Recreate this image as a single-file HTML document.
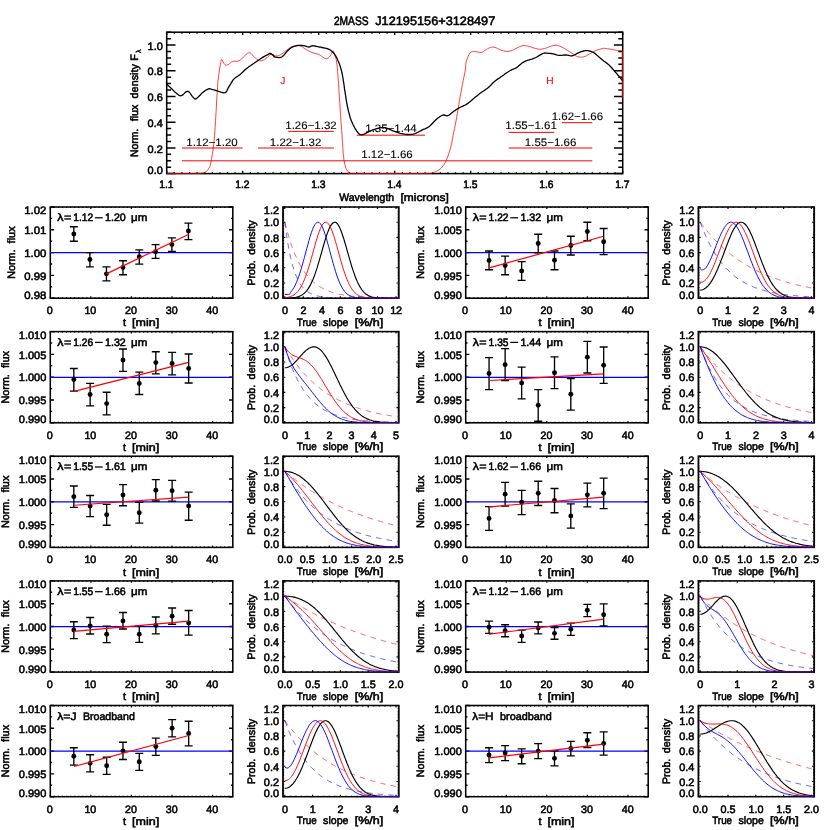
<!DOCTYPE html>
<html><head><meta charset="utf-8"><title>2MASS J12195156+3128497</title>
<style>html,body{margin:0;padding:0;background:#fff}svg{display:block;will-change:transform}text{font-family:"Liberation Sans",sans-serif;text-rendering:geometricPrecision}</style>
</head><body>
<svg width="830" height="830" viewBox="0 0 830 830">
<rect width="830" height="830" fill="#fff"/>
<clipPath id="ctop"><rect x="166.1" y="31.6" width="457.20000000000005" height="142.59999999999997"/></clipPath>
<rect x="166.70" y="32.20" width="456.00" height="141.40" fill="none" stroke="#000" stroke-width="1.55"/>
<path d="M166.70,173.60v-2.90M166.70,32.20v2.90M174.30,173.60v-1.45M174.30,32.20v1.45M181.90,173.60v-1.45M181.90,32.20v1.45M189.50,173.60v-1.45M189.50,32.20v1.45M197.10,173.60v-1.45M197.10,32.20v1.45M204.70,173.60v-1.45M204.70,32.20v1.45M212.30,173.60v-1.45M212.30,32.20v1.45M219.90,173.60v-1.45M219.90,32.20v1.45M227.50,173.60v-1.45M227.50,32.20v1.45M235.10,173.60v-1.45M235.10,32.20v1.45M242.70,173.60v-2.90M242.70,32.20v2.90M250.30,173.60v-1.45M250.30,32.20v1.45M257.90,173.60v-1.45M257.90,32.20v1.45M265.50,173.60v-1.45M265.50,32.20v1.45M273.10,173.60v-1.45M273.10,32.20v1.45M280.70,173.60v-1.45M280.70,32.20v1.45M288.30,173.60v-1.45M288.30,32.20v1.45M295.90,173.60v-1.45M295.90,32.20v1.45M303.50,173.60v-1.45M303.50,32.20v1.45M311.10,173.60v-1.45M311.10,32.20v1.45M318.70,173.60v-2.90M318.70,32.20v2.90M326.30,173.60v-1.45M326.30,32.20v1.45M333.90,173.60v-1.45M333.90,32.20v1.45M341.50,173.60v-1.45M341.50,32.20v1.45M349.10,173.60v-1.45M349.10,32.20v1.45M356.70,173.60v-1.45M356.70,32.20v1.45M364.30,173.60v-1.45M364.30,32.20v1.45M371.90,173.60v-1.45M371.90,32.20v1.45M379.50,173.60v-1.45M379.50,32.20v1.45M387.10,173.60v-1.45M387.10,32.20v1.45M394.70,173.60v-2.90M394.70,32.20v2.90M402.30,173.60v-1.45M402.30,32.20v1.45M409.90,173.60v-1.45M409.90,32.20v1.45M417.50,173.60v-1.45M417.50,32.20v1.45M425.10,173.60v-1.45M425.10,32.20v1.45M432.70,173.60v-1.45M432.70,32.20v1.45M440.30,173.60v-1.45M440.30,32.20v1.45M447.90,173.60v-1.45M447.90,32.20v1.45M455.50,173.60v-1.45M455.50,32.20v1.45M463.10,173.60v-1.45M463.10,32.20v1.45M470.70,173.60v-2.90M470.70,32.20v2.90M478.30,173.60v-1.45M478.30,32.20v1.45M485.90,173.60v-1.45M485.90,32.20v1.45M493.50,173.60v-1.45M493.50,32.20v1.45M501.10,173.60v-1.45M501.10,32.20v1.45M508.70,173.60v-1.45M508.70,32.20v1.45M516.30,173.60v-1.45M516.30,32.20v1.45M523.90,173.60v-1.45M523.90,32.20v1.45M531.50,173.60v-1.45M531.50,32.20v1.45M539.10,173.60v-1.45M539.10,32.20v1.45M546.70,173.60v-2.90M546.70,32.20v2.90M554.30,173.60v-1.45M554.30,32.20v1.45M561.90,173.60v-1.45M561.90,32.20v1.45M569.50,173.60v-1.45M569.50,32.20v1.45M577.10,173.60v-1.45M577.10,32.20v1.45M584.70,173.60v-1.45M584.70,32.20v1.45M592.30,173.60v-1.45M592.30,32.20v1.45M599.90,173.60v-1.45M599.90,32.20v1.45M607.50,173.60v-1.45M607.50,32.20v1.45M615.10,173.60v-1.45M615.10,32.20v1.45M622.70,173.60v-2.90M622.70,32.20v2.90" stroke="#000" stroke-width="1.3" fill="none"/>
<path d="M166.70,173.60h8.80M622.70,173.60h-8.80M166.70,167.17h4.40M622.70,167.17h-4.40M166.70,160.75h4.40M622.70,160.75h-4.40M166.70,154.32h4.40M622.70,154.32h-4.40M166.70,147.89h8.80M622.70,147.89h-8.80M166.70,141.46h4.40M622.70,141.46h-4.40M166.70,135.04h4.40M622.70,135.04h-4.40M166.70,128.61h4.40M622.70,128.61h-4.40M166.70,122.18h8.80M622.70,122.18h-8.80M166.70,115.75h4.40M622.70,115.75h-4.40M166.70,109.33h4.40M622.70,109.33h-4.40M166.70,102.90h4.40M622.70,102.90h-4.40M166.70,96.47h8.80M622.70,96.47h-8.80M166.70,90.05h4.40M622.70,90.05h-4.40M166.70,83.62h4.40M622.70,83.62h-4.40M166.70,77.19h4.40M622.70,77.19h-4.40M166.70,70.76h8.80M622.70,70.76h-8.80M166.70,64.34h4.40M622.70,64.34h-4.40M166.70,57.91h4.40M622.70,57.91h-4.40M166.70,51.48h4.40M622.70,51.48h-4.40M166.70,45.05h8.80M622.70,45.05h-8.80M166.70,38.63h4.40M622.70,38.63h-4.40M166.70,32.20h4.40M622.70,32.20h-4.40" stroke="#000" stroke-width="1.5" fill="none"/>
<line x1="181.90" y1="148.00" x2="242.70" y2="148.00" stroke="#f00" stroke-width="1.0"/>
<line x1="257.90" y1="148.00" x2="333.90" y2="148.00" stroke="#f00" stroke-width="1.0"/>
<line x1="288.30" y1="131.36" x2="333.90" y2="131.36" stroke="#f00" stroke-width="1.0"/>
<line x1="356.70" y1="135.20" x2="425.10" y2="135.20" stroke="#f00" stroke-width="1.0"/>
<line x1="181.90" y1="160.80" x2="592.30" y2="160.80" stroke="#f00" stroke-width="1.0"/>
<line x1="508.70" y1="132.38" x2="554.30" y2="132.38" stroke="#f00" stroke-width="1.0"/>
<line x1="561.90" y1="122.66" x2="592.30" y2="122.66" stroke="#f00" stroke-width="1.0"/>
<line x1="508.70" y1="148.00" x2="592.30" y2="148.00" stroke="#f00" stroke-width="1.0"/>
<path d="M166.7,173.6 L172.8,173.5 L181.7,173.4 L190.7,173.4 L197.1,173.3 L199.7,173.3 L200.2,173.4 L199.9,173.4 L200.0,173.4 L200.8,173.3 L201.7,173.2 L202.6,173.0 L203.5,172.8 L204.3,172.5 L205.1,172.2 L205.8,171.8 L206.5,171.3 L207.2,170.6 L207.8,169.9 L208.4,169.0 L209.0,168.0 L209.5,167.2 L209.9,166.4 L210.3,165.2 L210.8,163.0 L211.5,159.4 L212.2,154.9 L213.0,149.9 L213.6,145.0 L214.1,140.4 L214.5,135.7 L214.9,131.0 L215.2,126.2 L215.5,121.3 L215.8,116.4 L216.1,111.3 L216.4,106.0 L216.7,100.1 L217.1,93.9 L217.5,87.9 L217.8,82.8 L218.2,79.1 L218.6,76.1 L218.9,73.7 L219.3,71.3 L219.6,68.8 L220.0,66.4 L220.4,64.3 L220.7,62.6 L221.0,61.3 L221.2,60.2 L221.4,59.6 L221.7,59.4 L222.1,59.8 L222.6,60.8 L223.1,61.9 L223.6,62.9 L224.1,63.6 L224.6,64.2 L225.2,64.7 L225.8,65.0 L226.4,65.1 L227.1,65.0 L227.9,64.7 L228.7,64.3 L229.5,63.7 L230.3,62.9 L231.2,62.1 L232.3,61.6 L233.6,61.3 L235.2,61.3 L236.7,61.3 L238.1,61.1 L239.1,60.8 L240.0,60.3 L240.8,59.7 L241.7,59.0 L242.6,58.1 L243.5,57.0 L244.4,56.0 L245.3,55.1 L246.1,54.3 L247.0,53.7 L247.7,53.2 L248.5,52.9 L249.1,52.8 L249.8,52.8 L250.4,53.0 L251.1,53.5 L251.9,54.3 L252.8,55.4 L253.8,56.5 L254.7,57.5 L255.6,58.3 L256.5,59.0 L257.5,59.6 L258.3,60.1 L259.0,60.5 L259.7,60.8 L260.4,60.9 L261.2,60.9 L262.2,60.6 L263.2,60.2 L264.4,59.7 L265.5,59.0 L266.8,57.9 L268.1,56.6 L269.4,55.4 L270.6,54.6 L271.8,54.5 L273.0,54.8 L273.9,55.2 L274.2,55.4 L273.5,55.1 L272.1,54.6 L270.6,54.1 L270.0,53.9 L270.5,54.2 L271.6,54.7 L273.1,55.3 L274.3,55.6 L275.4,55.8 L276.5,55.9 L277.6,55.9 L278.7,55.6 L279.8,55.2 L280.8,54.6 L281.9,53.9 L283.0,53.2 L284.1,52.3 L285.2,51.4 L286.3,50.4 L287.3,49.6 L288.4,48.8 L289.5,48.1 L290.6,47.5 L291.7,47.0 L292.9,46.5 L294.2,46.1 L295.5,45.8 L296.7,45.7 L297.9,45.6 L298.9,45.7 L300.0,45.9 L301.1,46.3 L302.3,46.9 L303.5,47.8 L304.8,48.7 L306.1,49.6 L307.5,50.3 L308.9,51.1 L310.4,51.8 L311.9,52.5 L313.7,53.0 L315.6,53.5 L317.5,54.0 L319.2,54.6 L320.6,55.5 L322.0,56.4 L323.2,57.3 L324.2,58.0 L325.1,58.4 L325.8,58.6 L326.4,58.7 L327.1,58.5 L327.8,58.2 L328.6,57.7 L329.3,57.0 L330.0,56.1 L330.8,54.8 L331.5,53.2 L332.3,51.8 L332.9,51.0 L333.3,51.1 L333.7,51.7 L334.0,52.7 L334.3,53.9 L334.8,55.2 L335.4,56.8 L336.0,58.7 L336.5,61.1 L336.9,64.1 L337.3,67.5 L337.6,71.3 L337.9,75.6 L338.3,80.5 L338.7,86.0 L339.0,91.7 L339.4,97.3 L339.8,102.7 L340.1,108.2 L340.5,113.7 L340.8,119.0 L341.2,124.4 L341.6,129.8 L342.0,134.8 L342.3,139.2 L342.5,142.6 L342.7,145.2 L342.8,147.6 L343.0,150.0 L343.2,152.6 L343.5,155.2 L343.7,157.7 L344.0,160.0 L344.3,162.0 L344.7,163.9 L345.1,165.5 L345.5,167.0 L346.0,168.3 L346.4,169.3 L347.0,170.2 L347.5,171.0 L348.1,171.6 L348.6,172.1 L349.3,172.5 L350.0,172.8 L349.4,173.0 L347.8,173.2 L348.4,173.3 L354.0,173.4 L368.2,173.5 L388.4,173.5 L408.8,173.5 L423.4,173.5 L429.9,173.4 L431.7,173.3 L431.5,173.1 L432.0,172.8 L433.7,172.4 L435.2,171.9 L436.6,171.3 L437.8,170.6 L439.0,169.9 L440.1,169.1 L441.1,168.2 L442.2,167.0 L443.2,165.6 L444.3,164.0 L445.4,162.1 L446.5,159.8 L447.6,156.9 L448.8,153.7 L449.9,150.2 L450.8,146.7 L451.7,143.2 L452.4,139.6 L453.0,135.9 L453.7,132.3 L454.5,128.7 L455.2,125.2 L455.9,121.6 L456.6,117.8 L457.3,113.7 L458.1,109.2 L458.8,104.8 L459.5,100.5 L460.2,96.4 L461.0,92.3 L461.7,88.4 L462.4,84.6 L463.2,80.7 L464.0,76.8 L464.7,73.2 L465.3,70.1 L465.6,67.8 L465.7,65.9 L465.7,64.3 L466.0,62.6 L466.6,60.5 L467.4,58.3 L468.2,56.2 L468.9,54.6 L469.5,53.6 L470.0,53.0 L470.5,52.5 L471.1,52.2 L471.8,51.8 L472.6,51.6 L473.6,51.5 L474.7,51.5 L476.2,51.7 L477.9,52.1 L479.6,52.4 L481.2,52.5 L482.6,52.0 L483.9,51.2 L485.1,50.3 L486.3,49.6 L487.4,48.9 L488.5,48.3 L489.5,47.8 L490.6,47.4 L491.7,47.2 L492.7,47.1 L493.8,47.2 L494.9,47.4 L496.3,47.9 L497.7,48.5 L499.2,49.3 L500.7,49.9 L502.2,50.4 L503.6,50.9 L505.1,51.3 L506.5,51.5 L507.9,51.4 L509.4,51.2 L510.8,50.8 L512.3,50.3 L513.7,49.7 L515.2,48.9 L516.7,48.1 L518.1,47.4 L519.4,46.8 L520.7,46.3 L522.0,45.8 L523.1,45.5 L524.1,45.5 L525.0,45.6 L525.9,45.8 L526.7,46.0 L527.6,46.1 L528.3,46.3 L529.1,46.4 L530.0,46.7 L531.0,47.0 L532.0,47.4 L533.1,47.8 L534.3,48.1 L535.7,48.5 L537.1,48.9 L538.6,49.2 L540.1,49.3 L541.6,49.2 L543.0,48.9 L544.5,48.5 L545.9,48.1 L547.4,47.6 L548.9,47.0 L550.3,46.4 L551.7,46.0 L552.9,45.6 L553.9,45.4 L555.0,45.3 L556.0,45.2 L557.1,45.3 L558.1,45.6 L559.2,45.9 L560.4,46.4 L561.7,47.0 L563.2,47.8 L564.7,48.7 L566.1,49.6 L567.6,50.5 L569.1,51.4 L570.6,52.3 L571.9,53.2 L573.1,54.0 L574.2,54.8 L575.2,55.5 L576.3,56.1 L577.3,56.5 L578.4,56.8 L579.5,57.0 L580.6,57.1 L581.7,57.1 L582.7,57.1 L583.8,56.9 L584.9,56.5 L586.3,55.9 L587.7,55.0 L589.2,54.1 L590.7,53.2 L592.2,52.4 L593.6,51.6 L595.1,50.9 L596.5,50.3 L598.0,49.7 L599.6,49.3 L601.0,48.9 L602.3,48.6 L603.1,48.4 L603.7,48.3 L604.3,48.3 L605.2,48.4 L606.4,48.6 L607.9,48.8 L609.4,49.0 L611.0,49.3 L612.4,49.5 L613.9,49.8 L615.3,50.1 L616.7,50.3 L618.2,50.5 L619.8,50.6 L621.1,50.7 L622.1,50.7" fill="none" stroke="#f00" stroke-width="0.75" stroke-linejoin="round" clip-path="url(#ctop)"/>
<line x1="622.30" y1="50.70" x2="622.30" y2="98.00" stroke="#f00" stroke-width="0.9"/>
<path d="M166.8,84.3 L167.3,84.8 L168.1,85.4 L169.0,86.2 L169.9,87.1 L170.8,87.9 L171.7,88.7 L172.6,89.6 L173.4,90.5 L174.3,91.4 L175.2,92.2 L176.1,93.0 L177.0,93.8 L177.9,94.5 L178.7,95.1 L179.5,95.6 L180.2,95.7 L180.7,95.8 L181.3,95.7 L181.8,95.4 L182.4,95.1 L183.1,94.6 L183.8,93.9 L184.6,93.1 L185.3,92.4 L186.0,91.9 L186.6,91.6 L187.2,91.4 L187.7,91.4 L188.3,91.5 L188.9,91.8 L189.6,92.5 L190.3,93.5 L191.1,94.6 L191.8,95.7 L192.5,96.6 L193.2,97.3 L193.7,97.9 L194.3,98.5 L194.9,98.9 L195.4,99.0 L196.0,98.9 L196.5,98.6 L197.0,98.1 L197.6,97.5 L198.3,96.9 L199.2,96.0 L200.2,95.0 L201.2,93.9 L202.3,92.8 L203.4,91.9 L204.4,91.2 L205.5,90.4 L206.5,89.8 L207.5,89.3 L208.4,88.9 L209.2,88.7 L209.9,88.8 L210.5,88.9 L211.2,89.1 L212.0,89.3 L213.0,89.6 L214.1,89.9 L215.3,90.3 L216.5,90.7 L217.8,91.1 L219.2,91.5 L220.8,92.1 L222.4,92.5 L223.8,92.8 L225.1,92.7 L226.0,92.1 L226.7,91.1 L227.3,89.9 L227.9,88.5 L228.7,87.2 L229.6,85.7 L230.6,84.0 L231.6,82.3 L232.6,80.6 L233.7,79.2 L234.8,78.2 L235.9,77.3 L237.1,76.6 L238.3,75.8 L239.5,74.9 L240.9,73.7 L242.3,72.4 L243.8,71.0 L245.3,69.6 L246.7,68.4 L248.2,67.3 L249.6,66.2 L251.1,65.3 L252.5,64.3 L254.0,63.3 L255.4,62.3 L256.9,61.2 L258.4,60.2 L259.8,59.2 L261.2,58.3 L262.6,57.4 L264.0,56.6 L265.4,55.8 L266.6,55.2 L267.7,54.6 L268.5,54.2 L269.1,53.8 L269.6,53.5 L270.0,53.4 L270.6,53.5 L271.3,53.9 L272.2,54.5 L273.0,55.3 L273.7,56.0 L274.2,56.5 L274.4,56.7 L274.2,56.8 L274.0,56.8 L274.0,56.8 L274.3,56.8 L275.2,57.0 L276.3,57.2 L277.7,57.4 L279.0,57.6 L280.1,57.5 L281.0,57.3 L281.7,57.0 L282.4,56.5 L283.0,56.0 L283.7,55.4 L284.4,54.6 L285.1,53.7 L285.9,52.8 L286.6,51.9 L287.3,51.0 L288.1,50.2 L289.0,49.4 L289.8,48.7 L290.7,48.0 L291.7,47.4 L292.7,46.9 L293.9,46.4 L295.1,46.1 L296.3,45.7 L297.5,45.5 L298.6,45.4 L299.8,45.4 L300.9,45.4 L302.1,45.5 L303.3,45.7 L304.4,45.9 L305.7,46.2 L306.9,46.6 L308.0,46.9 L309.0,47.0 L309.8,46.8 L310.5,46.5 L311.1,46.1 L311.8,45.8 L312.6,45.7 L313.8,45.8 L315.0,46.0 L316.4,46.3 L317.8,46.7 L319.2,47.0 L320.6,47.2 L322.1,47.5 L323.7,47.8 L325.1,48.1 L326.4,48.4 L327.4,48.7 L328.4,49.1 L329.2,49.4 L329.9,49.8 L330.7,50.3 L331.5,50.9 L332.2,51.5 L332.9,52.2 L333.6,53.0 L334.3,53.9 L335.1,55.0 L335.8,56.2 L336.6,57.6 L337.3,59.0 L337.9,60.4 L338.6,61.9 L339.2,63.4 L339.8,65.0 L340.3,66.6 L340.8,68.4 L341.3,70.2 L341.8,72.1 L342.2,74.0 L342.6,76.2 L343.0,78.5 L343.4,81.1 L343.9,84.0 L344.3,87.1 L344.7,90.1 L345.2,92.9 L345.6,95.7 L346.0,98.3 L346.4,100.9 L346.9,103.5 L347.3,106.0 L347.9,108.4 L348.4,110.8 L349.0,113.2 L349.6,115.4 L350.2,117.5 L350.9,119.5 L351.6,121.3 L352.4,123.1 L353.1,124.7 L353.9,126.2 L354.6,127.6 L355.3,128.9 L356.1,130.0 L356.8,131.1 L357.5,132.0 L358.1,132.8 L358.6,133.4 L359.2,133.9 L359.7,134.3 L360.4,134.6 L361.0,134.7 L361.6,134.8 L362.2,134.7 L363.0,134.5 L364.0,134.2 L365.2,133.6 L366.5,132.9 L368.0,132.1 L369.6,131.2 L371.2,130.5 L372.9,129.9 L374.7,129.3 L376.5,128.7 L378.3,128.3 L379.9,127.9 L381.2,127.7 L382.4,127.6 L383.5,127.6 L384.6,127.7 L385.8,127.9 L387.1,128.3 L388.6,128.9 L390.1,129.6 L391.5,130.2 L393.0,130.8 L394.5,131.4 L395.9,131.9 L397.3,132.4 L398.8,132.9 L400.2,133.3 L401.7,133.6 L403.1,133.9 L404.6,134.2 L406.0,134.4 L407.5,134.5 L408.9,134.5 L410.4,134.4 L411.8,134.3 L413.3,134.1 L414.7,133.7 L416.1,133.2 L417.6,132.5 L419.0,131.7 L420.5,130.9 L421.9,130.1 L423.4,129.4 L424.9,128.8 L426.4,128.1 L427.8,127.4 L429.2,126.5 L430.4,125.5 L431.6,124.2 L432.8,123.0 L433.9,121.8 L434.9,120.7 L435.9,119.8 L436.8,119.0 L437.6,118.3 L438.4,117.7 L439.3,117.1 L440.1,116.5 L441.0,116.0 L441.9,115.5 L442.7,115.2 L443.6,114.9 L444.5,115.0 L445.3,115.3 L446.1,115.6 L447.0,115.8 L447.9,115.7 L449.0,115.1 L450.2,114.3 L451.3,113.2 L452.6,112.2 L453.7,111.3 L454.9,110.6 L456.0,109.8 L457.1,109.1 L458.3,108.4 L459.5,107.7 L460.9,107.0 L462.3,106.4 L463.8,105.7 L465.3,105.0 L466.7,104.1 L468.2,103.1 L469.6,101.9 L471.1,100.7 L472.5,99.5 L474.0,98.3 L475.4,97.1 L476.9,96.0 L478.3,94.8 L479.8,93.6 L481.2,92.5 L482.7,91.5 L484.2,90.5 L485.6,89.5 L487.1,88.5 L488.4,87.5 L489.7,86.3 L490.8,85.2 L491.9,84.0 L493.0,82.8 L494.2,81.7 L495.5,80.7 L496.7,79.8 L498.0,78.9 L499.4,78.0 L500.7,77.0 L502.2,76.0 L503.7,74.9 L505.2,73.8 L506.7,72.8 L507.9,72.0 L509.0,71.3 L509.9,70.8 L510.7,70.3 L511.5,69.9 L512.3,69.5 L513.1,69.2 L513.9,68.9 L514.7,68.6 L515.6,68.2 L516.6,67.6 L517.8,66.8 L519.1,65.6 L520.4,64.4 L521.8,63.2 L523.1,62.3 L524.5,61.6 L526.0,60.9 L527.5,60.4 L528.7,60.0 L529.6,59.7 L530.0,59.6 L530.0,59.6 L529.8,59.7 L529.7,59.8 L530.0,59.7 L530.8,59.4 L531.9,59.1 L533.1,58.6 L534.4,58.1 L535.8,57.5 L537.2,56.8 L538.7,55.9 L540.3,54.9 L541.7,54.1 L543.0,53.5 L544.0,53.2 L544.9,53.0 L545.6,53.1 L546.4,53.1 L547.3,53.2 L548.4,53.3 L549.6,53.4 L550.7,53.5 L552.0,53.7 L553.1,53.9 L554.3,54.2 L555.4,54.5 L556.5,54.9 L557.7,55.2 L558.9,55.4 L560.3,55.4 L561.8,55.3 L563.3,55.1 L564.8,55.0 L566.1,54.9 L567.4,55.1 L568.6,55.3 L569.7,55.6 L570.8,55.8 L571.9,55.8 L573.1,55.5 L574.2,55.0 L575.4,54.4 L576.6,53.7 L577.7,53.2 L578.9,52.7 L580.1,52.2 L581.3,51.7 L582.4,51.3 L583.5,51.0 L584.4,50.8 L585.3,50.7 L586.1,50.6 L586.9,50.6 L587.8,50.7 L588.9,50.9 L590.1,51.2 L591.3,51.5 L592.5,52.0 L593.6,52.5 L594.5,53.1 L595.4,53.7 L596.2,54.5 L597.0,55.3 L597.9,56.1 L599.0,57.0 L600.2,57.9 L601.3,58.9 L602.6,59.9 L603.7,60.9 L604.9,61.8 L606.0,62.6 L607.2,63.5 L608.4,64.4 L609.5,65.5 L610.7,66.7 L611.9,68.0 L613.1,69.4 L614.2,70.7 L615.3,72.0 L616.3,73.1 L617.2,74.2 L618.1,75.2 L618.9,76.1 L619.6,77.0 L620.4,77.9 L621.0,78.8 L621.6,79.5 L622.2,80.2 L622.5,80.7" fill="none" stroke="#000" stroke-width="1.3" stroke-linejoin="round" clip-path="url(#ctop)"/>
<text transform="translate(186.25 145.70) scale(1.065 1)" font-size="10.8" fill="#000" stroke="#000" stroke-width="0.1">1.12−1.20</text>
<text transform="translate(269.85 145.70) scale(1.065 1)" font-size="10.8" fill="#000" stroke="#000" stroke-width="0.1">1.22−1.32</text>
<text transform="translate(285.25 129.00) scale(1.065 1)" font-size="10.8" fill="#000" stroke="#000" stroke-width="0.1">1.26−1.32</text>
<text transform="translate(365.25 132.40) scale(1.065 1)" font-size="10.8" fill="#000" stroke="#000" stroke-width="0.1">1.35−1.44</text>
<text transform="translate(361.25 157.80) scale(1.065 1)" font-size="10.8" fill="#000" stroke="#000" stroke-width="0.1">1.12−1.66</text>
<text transform="translate(505.35 129.40) scale(1.065 1)" font-size="10.8" fill="#000" stroke="#000" stroke-width="0.1">1.55−1.61</text>
<text transform="translate(551.65 119.70) scale(1.065 1)" font-size="10.8" fill="#000" stroke="#000" stroke-width="0.1">1.62−1.66</text>
<text transform="translate(524.85 145.70) scale(1.065 1)" font-size="10.8" fill="#000" stroke="#000" stroke-width="0.1">1.55−1.66</text>
<text transform="translate(280.15 84.20) scale(1.000 1)" font-size="10.2" fill="#f00" stroke="#f00" stroke-width="0.1">J</text>
<text transform="translate(546.22 84.20) scale(1.000 1)" font-size="10.2" fill="#f00" stroke="#f00" stroke-width="0.1">H</text>
<text transform="translate(159.25 188.40) scale(0.952 1)" font-size="10.8" fill="#000" stroke="#000" stroke-width="0.55">1.1</text>
<text transform="translate(235.25 188.40) scale(0.952 1)" font-size="10.8" fill="#000" stroke="#000" stroke-width="0.55">1.2</text>
<text transform="translate(311.25 188.40) scale(0.952 1)" font-size="10.8" fill="#000" stroke="#000" stroke-width="0.55">1.3</text>
<text transform="translate(387.25 188.40) scale(0.952 1)" font-size="10.8" fill="#000" stroke="#000" stroke-width="0.55">1.4</text>
<text transform="translate(463.25 188.40) scale(0.952 1)" font-size="10.8" fill="#000" stroke="#000" stroke-width="0.55">1.5</text>
<text transform="translate(539.25 188.40) scale(0.952 1)" font-size="10.8" fill="#000" stroke="#000" stroke-width="0.55">1.6</text>
<text transform="translate(615.25 188.40) scale(0.952 1)" font-size="10.8" fill="#000" stroke="#000" stroke-width="0.55">1.7</text>
<text transform="translate(147.60 174.20) scale(1.012 1)" font-size="10.8" fill="#000" stroke="#000" stroke-width="0.55">0.0</text>
<text transform="translate(147.60 152.59) scale(1.012 1)" font-size="10.8" fill="#000" stroke="#000" stroke-width="0.55">0.2</text>
<text transform="translate(147.60 126.88) scale(1.012 1)" font-size="10.8" fill="#000" stroke="#000" stroke-width="0.55">0.4</text>
<text transform="translate(147.60 101.17) scale(1.012 1)" font-size="10.8" fill="#000" stroke="#000" stroke-width="0.55">0.6</text>
<text transform="translate(147.60 75.46) scale(1.012 1)" font-size="10.8" fill="#000" stroke="#000" stroke-width="0.55">0.8</text>
<text transform="translate(147.60 49.75) scale(1.012 1)" font-size="10.8" fill="#000" stroke="#000" stroke-width="0.55">1.0</text>
<text transform="translate(339.30 201.10) scale(0.968 1)" font-size="10.8" fill="#000" stroke="#000" stroke-width="0.55">Wavelength</text>
<text transform="translate(400.50 201.10) scale(1.105 1)" font-size="10.8" fill="#000" stroke="#000" stroke-width="0.55">[microns]</text>
<text transform="translate(138.40 157.10) rotate(-90) translate(0.00 0) scale(0.963 1)" font-size="10.8" fill="#000" stroke="#000" stroke-width="0.55">Norm.</text>
<text transform="translate(138.40 121.30) rotate(-90) translate(0.00 0) scale(0.988 1)" font-size="10.8" fill="#000" stroke="#000" stroke-width="0.55">flux</text>
<text transform="translate(138.40 98.40) rotate(-90) translate(0.00 0) scale(1.002 1)" font-size="10.8" fill="#000" stroke="#000" stroke-width="0.55">density</text>
<text transform="translate(138.40 60.80) rotate(-90) translate(0.00 0) scale(1.000 1)" font-size="10.8" fill="#000" stroke="#000" stroke-width="0.55">F</text>
<text transform="translate(141.30 53.00) rotate(-90) translate(0.00 0) scale(1.000 1)" font-size="7.2" fill="#000" stroke="#000" stroke-width="0.45">λ</text>
<text transform="translate(333.90 24.80) scale(0.840 1)" font-size="12.2" fill="#000" stroke="#000" stroke-width="0.55" letter-spacing="-0.013">2MASS</text>
<text transform="translate(375.20 24.80) scale(1.045 1)" font-size="12.2" fill="#000" stroke="#000" stroke-width="0.55">J12195156+3128497</text>
<clipPath id="c1"><rect x="49.80" y="206.50" width="183.50" height="92.20"/></clipPath>
<rect x="50.30" y="207.00" width="182.50" height="91.20" fill="none" stroke="#000" stroke-width="1.55"/>
<path d="M50.30,298.20v-1.90M50.30,207.00v1.90M54.36,298.20v-0.95M54.36,207.00v0.95M58.41,298.20v-0.95M58.41,207.00v0.95M62.47,298.20v-0.95M62.47,207.00v0.95M66.52,298.20v-0.95M66.52,207.00v0.95M70.58,298.20v-0.95M70.58,207.00v0.95M74.63,298.20v-0.95M74.63,207.00v0.95M78.69,298.20v-0.95M78.69,207.00v0.95M82.74,298.20v-0.95M82.74,207.00v0.95M86.80,298.20v-0.95M86.80,207.00v0.95M90.86,298.20v-1.90M90.86,207.00v1.90M94.91,298.20v-0.95M94.91,207.00v0.95M98.97,298.20v-0.95M98.97,207.00v0.95M103.02,298.20v-0.95M103.02,207.00v0.95M107.08,298.20v-0.95M107.08,207.00v0.95M111.13,298.20v-0.95M111.13,207.00v0.95M115.19,298.20v-0.95M115.19,207.00v0.95M119.24,298.20v-0.95M119.24,207.00v0.95M123.30,298.20v-0.95M123.30,207.00v0.95M127.36,298.20v-0.95M127.36,207.00v0.95M131.41,298.20v-1.90M131.41,207.00v1.90M135.47,298.20v-0.95M135.47,207.00v0.95M139.52,298.20v-0.95M139.52,207.00v0.95M143.58,298.20v-0.95M143.58,207.00v0.95M147.63,298.20v-0.95M147.63,207.00v0.95M151.69,298.20v-0.95M151.69,207.00v0.95M155.74,298.20v-0.95M155.74,207.00v0.95M159.80,298.20v-0.95M159.80,207.00v0.95M163.86,298.20v-0.95M163.86,207.00v0.95M167.91,298.20v-0.95M167.91,207.00v0.95M171.97,298.20v-1.90M171.97,207.00v1.90M176.02,298.20v-0.95M176.02,207.00v0.95M180.08,298.20v-0.95M180.08,207.00v0.95M184.13,298.20v-0.95M184.13,207.00v0.95M188.19,298.20v-0.95M188.19,207.00v0.95M192.24,298.20v-0.95M192.24,207.00v0.95M196.30,298.20v-0.95M196.30,207.00v0.95M200.36,298.20v-0.95M200.36,207.00v0.95M204.41,298.20v-0.95M204.41,207.00v0.95M208.47,298.20v-0.95M208.47,207.00v0.95M212.52,298.20v-1.90M212.52,207.00v1.90M216.58,298.20v-0.95M216.58,207.00v0.95M220.63,298.20v-0.95M220.63,207.00v0.95M224.69,298.20v-0.95M224.69,207.00v0.95M228.74,298.20v-0.95M228.74,207.00v0.95M232.80,298.20v-0.95M232.80,207.00v0.95" stroke="#000" stroke-width="1.2" fill="none"/>
<path d="M50.30,298.20h3.70M232.80,298.20h-3.70M50.30,286.80h1.85M232.80,286.80h-1.85M50.30,275.40h3.70M232.80,275.40h-3.70M50.30,264.00h1.85M232.80,264.00h-1.85M50.30,252.60h3.70M232.80,252.60h-3.70M50.30,241.20h1.85M232.80,241.20h-1.85M50.30,229.80h3.70M232.80,229.80h-3.70M50.30,218.40h1.85M232.80,218.40h-1.85M50.30,207.00h3.70M232.80,207.00h-3.70" stroke="#000" stroke-width="1.4" fill="none"/>
<line x1="50.30" y1="252.55" x2="232.80" y2="252.55" stroke="#00f" stroke-width="1.2"/>
<path d="M73.82,226.73V241.22M69.82,226.73h8M69.82,241.22h8M89.90,252.55V266.82M85.90,252.55h8M85.90,266.82h8M106.44,266.82V280.86M102.44,266.82h8M102.44,280.86h8M122.97,260.70V274.75M118.97,260.70h8M118.97,274.75h8M139.28,249.83V264.10M135.28,249.83h8M135.28,264.10h8M155.59,244.62V258.44M151.59,244.62h8M151.59,258.44h8M171.90,237.83V251.42M167.90,237.83h8M167.90,251.42h8M188.43,223.10V239.64M184.43,223.10h8M184.43,239.64h8" stroke="#000" stroke-width="1.35" fill="none" clip-path="url(#c1)"/>
<circle cx="73.82" cy="233.98" r="2.45" fill="#000"/>
<circle cx="89.90" cy="259.57" r="2.45" fill="#000"/>
<circle cx="106.44" cy="273.84" r="2.45" fill="#000"/>
<circle cx="122.97" cy="267.50" r="2.45" fill="#000"/>
<circle cx="139.28" cy="256.63" r="2.45" fill="#000"/>
<circle cx="155.59" cy="251.64" r="2.45" fill="#000"/>
<circle cx="171.90" cy="244.62" r="2.45" fill="#000"/>
<circle cx="188.43" cy="231.03" r="2.45" fill="#000"/>
<line x1="106.44" y1="273.84" x2="188.43" y2="234.43" stroke="#f00" stroke-width="1.2"/>
<text transform="translate(24.20 298.80) scale(1.056 1)" font-size="10.8" fill="#000" stroke="#000" stroke-width="0.55">0.98</text>
<text transform="translate(24.20 279.60) scale(1.056 1)" font-size="10.8" fill="#000" stroke="#000" stroke-width="0.55">0.99</text>
<text transform="translate(24.20 256.80) scale(1.056 1)" font-size="10.8" fill="#000" stroke="#000" stroke-width="0.55">1.00</text>
<text transform="translate(24.20 234.00) scale(1.056 1)" font-size="10.8" fill="#000" stroke="#000" stroke-width="0.55">1.01</text>
<text transform="translate(24.20 214.30) scale(1.056 1)" font-size="10.8" fill="#000" stroke="#000" stroke-width="0.55">1.02</text>
<text transform="translate(46.70 314.00) scale(1.000 1)" font-size="10.8" fill="#000" stroke="#000" stroke-width="0.55">0</text>
<text transform="translate(84.40 314.00) scale(0.991 1)" font-size="10.8" fill="#000" stroke="#000" stroke-width="0.55">10</text>
<text transform="translate(125.05 314.00) scale(0.991 1)" font-size="10.8" fill="#000" stroke="#000" stroke-width="0.55">20</text>
<text transform="translate(165.70 314.00) scale(0.991 1)" font-size="10.8" fill="#000" stroke="#000" stroke-width="0.55">30</text>
<text transform="translate(206.35 314.00) scale(0.991 1)" font-size="10.8" fill="#000" stroke="#000" stroke-width="0.55">40</text>
<text transform="translate(123.05 326.40) scale(1.000 1)" font-size="10.8" fill="#000" stroke="#000" stroke-width="0.55">t</text>
<text transform="translate(132.05 326.40) scale(1.158 1)" font-size="10.8" fill="#000" stroke="#000" stroke-width="0.55">[min]</text>
<text transform="translate(15.20 278.80) rotate(-90) translate(0.00 0) scale(0.993 1)" font-size="10.8" fill="#000" stroke="#000" stroke-width="0.55">Norm.</text>
<text transform="translate(15.20 243.40) rotate(-90) translate(0.00 0) scale(1.012 1)" font-size="10.8" fill="#000" stroke="#000" stroke-width="0.55">flux</text>
<text transform="translate(57.30 221.10) scale(1.160 1)" font-size="10.8" fill="#000" stroke="#000" stroke-width="0.55" letter-spacing="0.276">λ=</text>
<text transform="translate(73.20 221.10) scale(0.947 1)" font-size="10.8" fill="#000" stroke="#000" stroke-width="0.55">1.12</text>
<line x1="94.90" y1="217.80" x2="102.70" y2="217.80" stroke="#000" stroke-width="1.25"/>
<text transform="translate(105.00 221.10) scale(0.990 1)" font-size="10.8" fill="#000" stroke="#000" stroke-width="0.55">1.20</text>
<text transform="translate(131.10 221.10) scale(1.071 1)" font-size="10.8" fill="#000" stroke="#000" stroke-width="0.55">μm</text>
<clipPath id="c2"><rect x="282.40" y="206.50" width="117.00" height="92.20"/></clipPath>
<rect x="282.90" y="207.00" width="116.00" height="91.20" fill="none" stroke="#000" stroke-width="1.55"/>
<path d="M284.80,298.20v-1.90M284.80,207.00v1.90M289.43,298.20v-0.95M289.43,207.00v0.95M294.07,298.20v-0.95M294.07,207.00v0.95M298.70,298.20v-0.95M298.70,207.00v0.95M303.33,298.20v-1.90M303.33,207.00v1.90M307.97,298.20v-0.95M307.97,207.00v0.95M312.60,298.20v-0.95M312.60,207.00v0.95M317.23,298.20v-0.95M317.23,207.00v0.95M321.87,298.20v-1.90M321.87,207.00v1.90M326.50,298.20v-0.95M326.50,207.00v0.95M331.13,298.20v-0.95M331.13,207.00v0.95M335.77,298.20v-0.95M335.77,207.00v0.95M340.40,298.20v-1.90M340.40,207.00v1.90M345.03,298.20v-0.95M345.03,207.00v0.95M349.67,298.20v-0.95M349.67,207.00v0.95M354.30,298.20v-0.95M354.30,207.00v0.95M358.93,298.20v-1.90M358.93,207.00v1.90M363.57,298.20v-0.95M363.57,207.00v0.95M368.20,298.20v-0.95M368.20,207.00v0.95M372.83,298.20v-0.95M372.83,207.00v0.95M377.47,298.20v-1.90M377.47,207.00v1.90M382.10,298.20v-0.95M382.10,207.00v0.95M386.73,298.20v-0.95M386.73,207.00v0.95M391.37,298.20v-0.95M391.37,207.00v0.95M396.00,298.20v-1.90M396.00,207.00v1.90" stroke="#000" stroke-width="1.2" fill="none"/>
<path d="M282.90,298.20h2.40M398.90,298.20h-2.40M282.90,296.68h1.20M398.90,296.68h-1.20M282.90,295.16h1.20M398.90,295.16h-1.20M282.90,293.64h1.20M398.90,293.64h-1.20M282.90,292.12h1.20M398.90,292.12h-1.20M282.90,290.60h1.20M398.90,290.60h-1.20M282.90,289.08h1.20M398.90,289.08h-1.20M282.90,287.56h1.20M398.90,287.56h-1.20M282.90,286.04h1.20M398.90,286.04h-1.20M282.90,284.52h1.20M398.90,284.52h-1.20M282.90,283.00h2.40M398.90,283.00h-2.40M282.90,281.48h1.20M398.90,281.48h-1.20M282.90,279.96h1.20M398.90,279.96h-1.20M282.90,278.44h1.20M398.90,278.44h-1.20M282.90,276.92h1.20M398.90,276.92h-1.20M282.90,275.40h1.20M398.90,275.40h-1.20M282.90,273.88h1.20M398.90,273.88h-1.20M282.90,272.36h1.20M398.90,272.36h-1.20M282.90,270.84h1.20M398.90,270.84h-1.20M282.90,269.32h1.20M398.90,269.32h-1.20M282.90,267.80h2.40M398.90,267.80h-2.40M282.90,266.28h1.20M398.90,266.28h-1.20M282.90,264.76h1.20M398.90,264.76h-1.20M282.90,263.24h1.20M398.90,263.24h-1.20M282.90,261.72h1.20M398.90,261.72h-1.20M282.90,260.20h1.20M398.90,260.20h-1.20M282.90,258.68h1.20M398.90,258.68h-1.20M282.90,257.16h1.20M398.90,257.16h-1.20M282.90,255.64h1.20M398.90,255.64h-1.20M282.90,254.12h1.20M398.90,254.12h-1.20M282.90,252.60h2.40M398.90,252.60h-2.40M282.90,251.08h1.20M398.90,251.08h-1.20M282.90,249.56h1.20M398.90,249.56h-1.20M282.90,248.04h1.20M398.90,248.04h-1.20M282.90,246.52h1.20M398.90,246.52h-1.20M282.90,245.00h1.20M398.90,245.00h-1.20M282.90,243.48h1.20M398.90,243.48h-1.20M282.90,241.96h1.20M398.90,241.96h-1.20M282.90,240.44h1.20M398.90,240.44h-1.20M282.90,238.92h1.20M398.90,238.92h-1.20M282.90,237.40h2.40M398.90,237.40h-2.40M282.90,235.88h1.20M398.90,235.88h-1.20M282.90,234.36h1.20M398.90,234.36h-1.20M282.90,232.84h1.20M398.90,232.84h-1.20M282.90,231.32h1.20M398.90,231.32h-1.20M282.90,229.80h1.20M398.90,229.80h-1.20M282.90,228.28h1.20M398.90,228.28h-1.20M282.90,226.76h1.20M398.90,226.76h-1.20M282.90,225.24h1.20M398.90,225.24h-1.20M282.90,223.72h1.20M398.90,223.72h-1.20M282.90,222.20h2.40M398.90,222.20h-2.40M282.90,220.68h1.20M398.90,220.68h-1.20M282.90,219.16h1.20M398.90,219.16h-1.20M282.90,217.64h1.20M398.90,217.64h-1.20M282.90,216.12h1.20M398.90,216.12h-1.20M282.90,214.60h1.20M398.90,214.60h-1.20M282.90,213.08h1.20M398.90,213.08h-1.20M282.90,211.56h1.20M398.90,211.56h-1.20M282.90,210.04h1.20M398.90,210.04h-1.20M282.90,208.52h1.20M398.90,208.52h-1.20M282.90,207.00h2.40M398.90,207.00h-2.40" stroke="#000" stroke-width="1.1" fill="none"/>
<path d="M284.8,222.2 L286.0,226.8 L287.1,231.1 L288.3,235.1 L289.4,238.9 L290.6,242.5 L291.7,245.9 L292.9,249.0 L294.0,252.0 L295.2,254.8 L296.3,257.4 L297.5,259.9 L298.6,262.2 L299.8,264.3 L300.9,266.4 L302.1,268.3 L303.2,270.1 L304.4,271.8 L305.5,273.4 L306.7,274.9 L307.9,276.3 L309.0,277.6 L310.2,278.9 L311.3,280.0 L312.5,281.1 L313.6,282.1 L314.8,283.1 L315.9,284.0 L317.1,284.9 L318.2,285.7 L319.4,286.4 L320.5,287.1 L321.7,287.8 L322.8,288.4 L324.0,289.0 L325.1,289.6 L326.3,290.1 L327.4,290.6 L328.6,291.0 L329.7,291.5 L330.9,291.9 L332.1,292.3 L333.2,292.6 L334.4,293.0 L335.5,293.3 L336.7,293.6 L337.8,293.9 L339.0,294.1 L340.1,294.4 L341.3,294.6 L342.4,294.8 L343.6,295.0 L344.7,295.2 L345.9,295.4 L347.0,295.6 L348.2,295.7 L349.3,295.9 L350.5,296.0 L351.6,296.1 L352.8,296.3 L354.0,296.4 L355.1,296.5 L356.3,296.6 L357.4,296.7 L358.6,296.8 L359.7,296.9 L360.9,296.9 L362.0,297.0 L363.2,297.1 L364.3,297.2 L365.5,297.2 L366.6,297.3 L367.8,297.3 L368.9,297.4 L370.1,297.4 L371.2,297.5 L372.4,297.5 L373.5,297.6 L374.7,297.6 L375.8,297.6 L377.0,297.7 L378.2,297.7 L379.3,297.7 L380.5,297.8 L381.6,297.8 L382.8,297.8 L383.9,297.8 L385.1,297.9 L386.2,297.9 L387.4,297.9 L388.5,297.9 L389.7,297.9 L390.8,298.0 L392.0,298.0 L393.1,298.0 L394.3,298.0 L395.4,298.0 L396.6,298.0 L397.7,298.0 L398.9,298.0" fill="none" stroke="#f00" stroke-width="0.6" stroke-linejoin="round" stroke-dasharray="5.6 5.0" clip-path="url(#c2)"/>
<path d="M284.8,222.2 L286.0,231.1 L287.1,238.9 L288.3,245.9 L289.4,252.0 L290.6,257.4 L291.7,262.2 L292.9,266.4 L294.0,270.1 L295.2,273.4 L296.3,276.3 L297.5,278.9 L298.6,281.1 L299.8,283.1 L300.9,284.9 L302.1,286.4 L303.2,287.8 L304.4,289.0 L305.5,290.1 L306.7,291.0 L307.9,291.9 L309.0,292.6 L310.2,293.3 L311.3,293.9 L312.5,294.4 L313.6,294.8 L314.8,295.2 L315.9,295.6 L317.1,295.9 L318.2,296.1 L319.4,296.4 L320.5,296.6 L321.7,296.8 L322.8,296.9 L324.0,297.1 L325.1,297.2 L326.3,297.3 L327.4,297.4 L328.6,297.5 L329.7,297.6 L330.9,297.7 L332.1,297.7 L333.2,297.8 L334.4,297.8 L335.5,297.9 L336.7,297.9 L337.8,298.0 L339.0,298.0 L340.1,298.0 L341.3,298.0 L342.4,298.0 L343.6,298.1 L344.7,298.1 L345.9,298.1 L347.0,298.1 L348.2,298.1 L349.3,298.1 L350.5,298.1 L351.6,298.1 L352.8,298.2 L354.0,298.2 L355.1,298.2 L356.3,298.2 L357.4,298.2 L358.6,298.2 L359.7,298.2 L360.9,298.2 L362.0,298.2 L363.2,298.2 L364.3,298.2 L365.5,298.2 L366.6,298.2 L367.8,298.2 L368.9,298.2 L370.1,298.2 L371.2,298.2 L372.4,298.2 L373.5,298.2 L374.7,298.2 L375.8,298.2 L377.0,298.2 L378.2,298.2 L379.3,298.2 L380.5,298.2 L381.6,298.2 L382.8,298.2 L383.9,298.2 L385.1,298.2 L386.2,298.2 L387.4,298.2 L388.5,298.2 L389.7,298.2 L390.8,298.2 L392.0,298.2 L393.1,298.2 L394.3,298.2 L395.4,298.2 L396.6,298.2 L397.7,298.2 L398.9,298.2" fill="none" stroke="#00f" stroke-width="0.6" stroke-linejoin="round" stroke-dasharray="5.6 5.0" clip-path="url(#c2)"/>
<path d="M284.8,298.2 L286.0,298.1 L287.1,298.1 L288.3,298.1 L289.4,298.0 L290.6,298.0 L291.7,297.9 L292.9,297.8 L294.0,297.6 L295.2,297.5 L296.3,297.2 L297.5,296.9 L298.6,296.6 L299.8,296.1 L300.9,295.6 L302.1,294.9 L303.2,294.1 L304.4,293.2 L305.5,292.1 L306.7,290.7 L307.9,289.2 L309.0,287.4 L310.2,285.4 L311.3,283.1 L312.5,280.6 L313.6,277.8 L314.8,274.7 L315.9,271.4 L317.1,267.9 L318.2,264.1 L319.4,260.2 L320.5,256.2 L321.7,252.1 L322.8,248.0 L324.0,244.0 L325.1,240.1 L326.3,236.4 L327.4,233.1 L328.6,230.0 L329.7,227.4 L330.9,225.3 L332.1,223.7 L333.2,222.7 L334.4,222.2 L335.5,222.3 L336.7,223.1 L337.8,224.4 L339.0,226.3 L340.1,228.6 L341.3,231.5 L342.4,234.7 L343.6,238.2 L344.7,242.0 L345.9,245.9 L347.0,250.0 L348.2,254.1 L349.3,258.1 L350.5,262.1 L351.6,266.0 L352.8,269.6 L354.0,273.1 L355.1,276.3 L356.3,279.2 L357.4,281.9 L358.6,284.3 L359.7,286.4 L360.9,288.3 L362.0,290.0 L363.2,291.4 L364.3,292.6 L365.5,293.7 L366.6,294.6 L367.8,295.3 L368.9,295.9 L370.1,296.4 L371.2,296.8 L372.4,297.1 L373.5,297.3 L374.7,297.6 L375.8,297.7 L377.0,297.8 L378.2,297.9 L379.3,298.0 L380.5,298.1 L381.6,298.1 L382.8,298.1 L383.9,298.1 L385.1,298.2 L386.2,298.2 L387.4,298.2 L388.5,298.2 L389.7,298.2 L390.8,298.2 L392.0,298.2 L393.1,298.2 L394.3,298.2 L395.4,298.2 L396.6,298.2 L397.7,298.2 L398.9,298.2" fill="none" stroke="#000" stroke-width="1.15" stroke-linejoin="round" clip-path="url(#c2)"/>
<path d="M284.8,297.8 L286.0,297.6 L287.1,297.5 L288.3,297.2 L289.4,296.9 L290.6,296.6 L291.7,296.1 L292.9,295.5 L294.0,294.9 L295.2,294.0 L296.3,293.0 L297.5,291.8 L298.6,290.4 L299.8,288.8 L300.9,287.0 L302.1,284.8 L303.2,282.4 L304.4,279.7 L305.5,276.8 L306.7,273.6 L307.9,270.1 L309.0,266.4 L310.2,262.5 L311.3,258.4 L312.5,254.3 L313.6,250.1 L314.8,245.9 L315.9,241.9 L317.1,238.0 L318.2,234.4 L319.4,231.2 L320.5,228.3 L321.7,226.0 L322.8,224.1 L324.0,222.9 L325.1,222.2 L326.3,222.2 L327.4,222.8 L328.6,224.0 L329.7,225.8 L330.9,228.1 L332.1,230.9 L333.2,234.2 L334.4,237.7 L335.5,241.6 L336.7,245.6 L337.8,249.7 L339.0,253.9 L340.1,258.1 L341.3,262.2 L342.4,266.1 L343.6,269.8 L344.7,273.3 L345.9,276.5 L347.0,279.5 L348.2,282.2 L349.3,284.7 L350.5,286.8 L351.6,288.7 L352.8,290.3 L354.0,291.7 L355.1,292.9 L356.3,294.0 L357.4,294.8 L358.6,295.5 L359.7,296.1 L360.9,296.5 L362.0,296.9 L363.2,297.2 L364.3,297.4 L365.5,297.6 L366.6,297.8 L367.8,297.9 L368.9,298.0 L370.1,298.0 L371.2,298.1 L372.4,298.1 L373.5,298.1 L374.7,298.2 L375.8,298.2 L377.0,298.2 L378.2,298.2 L379.3,298.2 L380.5,298.2 L381.6,298.2 L382.8,298.2 L383.9,298.2 L385.1,298.2 L386.2,298.2 L387.4,298.2 L388.5,298.2 L389.7,298.2 L390.8,298.2 L392.0,298.2 L393.1,298.2 L394.3,298.2 L395.4,298.2 L396.6,298.2 L397.7,298.2 L398.9,298.2" fill="none" stroke="#f00" stroke-width="0.95" stroke-linejoin="round" clip-path="url(#c2)"/>
<path d="M284.8,294.4 L286.0,294.4 L287.1,294.4 L288.3,294.4 L289.4,294.4 L290.6,292.3 L291.7,290.9 L292.9,289.2 L294.0,287.4 L295.2,285.2 L296.3,282.7 L297.5,279.9 L298.6,276.8 L299.8,273.5 L300.9,269.8 L302.1,265.9 L303.2,261.8 L304.4,257.5 L305.5,253.2 L306.7,248.8 L307.9,244.5 L309.0,240.4 L310.2,236.4 L311.3,232.8 L312.5,229.6 L313.6,226.9 L314.8,224.8 L315.9,223.3 L317.1,222.4 L318.2,222.2 L319.4,222.7 L320.5,223.8 L321.7,225.6 L322.8,228.0 L324.0,231.0 L325.1,234.3 L326.3,238.1 L327.4,242.1 L328.6,246.4 L329.7,250.7 L330.9,255.1 L332.1,259.4 L333.2,263.6 L334.4,267.6 L335.5,271.4 L336.7,275.0 L337.8,278.2 L339.0,281.2 L340.1,283.8 L341.3,286.1 L342.4,288.2 L343.6,290.0 L344.7,291.5 L345.9,292.8 L347.0,293.9 L348.2,294.8 L349.3,295.5 L350.5,296.1 L351.6,296.6 L352.8,297.0 L354.0,297.3 L355.1,297.5 L356.3,297.7 L357.4,297.8 L358.6,297.9 L359.7,298.0 L360.9,298.1 L362.0,298.1 L363.2,298.1 L364.3,298.1 L365.5,298.2 L366.6,298.2 L367.8,298.2 L368.9,298.2 L370.1,298.2 L371.2,298.2 L372.4,298.2 L373.5,298.2 L374.7,298.2 L375.8,298.2 L377.0,298.2 L378.2,298.2 L379.3,298.2 L380.5,298.2 L381.6,298.2 L382.8,298.2 L383.9,298.2 L385.1,298.2 L386.2,298.2 L387.4,298.2 L388.5,298.2 L389.7,298.2 L390.8,298.2 L392.0,298.2 L393.1,298.2 L394.3,298.2 L395.4,298.2 L396.6,298.2 L397.7,298.2 L398.9,298.2" fill="none" stroke="#00f" stroke-width="0.95" stroke-linejoin="round" clip-path="url(#c2)"/>
<text transform="translate(263.80 298.80) scale(1.012 1)" font-size="10.8" fill="#000" stroke="#000" stroke-width="0.55">0.0</text>
<text transform="translate(263.80 287.20) scale(1.012 1)" font-size="10.8" fill="#000" stroke="#000" stroke-width="0.55">0.2</text>
<text transform="translate(263.80 272.00) scale(1.012 1)" font-size="10.8" fill="#000" stroke="#000" stroke-width="0.55">0.4</text>
<text transform="translate(263.80 256.80) scale(1.012 1)" font-size="10.8" fill="#000" stroke="#000" stroke-width="0.55">0.6</text>
<text transform="translate(263.80 241.60) scale(1.012 1)" font-size="10.8" fill="#000" stroke="#000" stroke-width="0.55">0.8</text>
<text transform="translate(263.80 226.40) scale(1.012 1)" font-size="10.8" fill="#000" stroke="#000" stroke-width="0.55">1.0</text>
<text transform="translate(263.80 214.30) scale(1.012 1)" font-size="10.8" fill="#000" stroke="#000" stroke-width="0.55">1.2</text>
<text transform="translate(281.90 314.00) scale(1.000 1)" font-size="10.8" fill="#000" stroke="#000" stroke-width="0.55">0</text>
<text transform="translate(300.43 314.00) scale(1.000 1)" font-size="10.8" fill="#000" stroke="#000" stroke-width="0.55">2</text>
<text transform="translate(318.96 314.00) scale(1.000 1)" font-size="10.8" fill="#000" stroke="#000" stroke-width="0.55">4</text>
<text transform="translate(337.50 314.00) scale(1.000 1)" font-size="10.8" fill="#000" stroke="#000" stroke-width="0.55">6</text>
<text transform="translate(356.03 314.00) scale(1.000 1)" font-size="10.8" fill="#000" stroke="#000" stroke-width="0.55">8</text>
<text transform="translate(371.62 314.00) scale(0.991 1)" font-size="10.8" fill="#000" stroke="#000" stroke-width="0.55">10</text>
<text transform="translate(390.15 314.00) scale(0.991 1)" font-size="10.8" fill="#000" stroke="#000" stroke-width="0.55">12</text>
<text transform="translate(296.80 325.60) scale(0.913 1)" font-size="10.8" fill="#000" stroke="#000" stroke-width="0.55">True</text>
<text transform="translate(323.10 325.60) scale(0.980 1)" font-size="10.8" fill="#000" stroke="#000" stroke-width="0.55">slope</text>
<text transform="translate(354.70 325.60) scale(1.160 1)" font-size="10.8" fill="#000" stroke="#000" stroke-width="0.55" letter-spacing="0.011">[%/h]</text>
<text transform="translate(254.50 285.50) rotate(-90) translate(0.00 0) scale(0.980 1)" font-size="10.8" fill="#000" stroke="#000" stroke-width="0.55">Prob.</text>
<text transform="translate(254.50 254.80) rotate(-90) translate(0.00 0) scale(1.005 1)" font-size="10.8" fill="#000" stroke="#000" stroke-width="0.55">density</text>
<clipPath id="c3"><rect x="465.20" y="206.50" width="183.50" height="92.20"/></clipPath>
<rect x="465.70" y="207.00" width="182.50" height="91.20" fill="none" stroke="#000" stroke-width="1.55"/>
<path d="M465.70,298.20v-1.90M465.70,207.00v1.90M469.76,298.20v-0.95M469.76,207.00v0.95M473.81,298.20v-0.95M473.81,207.00v0.95M477.87,298.20v-0.95M477.87,207.00v0.95M481.92,298.20v-0.95M481.92,207.00v0.95M485.98,298.20v-0.95M485.98,207.00v0.95M490.03,298.20v-0.95M490.03,207.00v0.95M494.09,298.20v-0.95M494.09,207.00v0.95M498.14,298.20v-0.95M498.14,207.00v0.95M502.20,298.20v-0.95M502.20,207.00v0.95M506.26,298.20v-1.90M506.26,207.00v1.90M510.31,298.20v-0.95M510.31,207.00v0.95M514.37,298.20v-0.95M514.37,207.00v0.95M518.42,298.20v-0.95M518.42,207.00v0.95M522.48,298.20v-0.95M522.48,207.00v0.95M526.53,298.20v-0.95M526.53,207.00v0.95M530.59,298.20v-0.95M530.59,207.00v0.95M534.64,298.20v-0.95M534.64,207.00v0.95M538.70,298.20v-0.95M538.70,207.00v0.95M542.76,298.20v-0.95M542.76,207.00v0.95M546.81,298.20v-1.90M546.81,207.00v1.90M550.87,298.20v-0.95M550.87,207.00v0.95M554.92,298.20v-0.95M554.92,207.00v0.95M558.98,298.20v-0.95M558.98,207.00v0.95M563.03,298.20v-0.95M563.03,207.00v0.95M567.09,298.20v-0.95M567.09,207.00v0.95M571.14,298.20v-0.95M571.14,207.00v0.95M575.20,298.20v-0.95M575.20,207.00v0.95M579.26,298.20v-0.95M579.26,207.00v0.95M583.31,298.20v-0.95M583.31,207.00v0.95M587.37,298.20v-1.90M587.37,207.00v1.90M591.42,298.20v-0.95M591.42,207.00v0.95M595.48,298.20v-0.95M595.48,207.00v0.95M599.53,298.20v-0.95M599.53,207.00v0.95M603.59,298.20v-0.95M603.59,207.00v0.95M607.64,298.20v-0.95M607.64,207.00v0.95M611.70,298.20v-0.95M611.70,207.00v0.95M615.76,298.20v-0.95M615.76,207.00v0.95M619.81,298.20v-0.95M619.81,207.00v0.95M623.87,298.20v-0.95M623.87,207.00v0.95M627.92,298.20v-1.90M627.92,207.00v1.90M631.98,298.20v-0.95M631.98,207.00v0.95M636.03,298.20v-0.95M636.03,207.00v0.95M640.09,298.20v-0.95M640.09,207.00v0.95M644.14,298.20v-0.95M644.14,207.00v0.95M648.20,298.20v-0.95M648.20,207.00v0.95" stroke="#000" stroke-width="1.2" fill="none"/>
<path d="M465.70,298.20h3.70M648.20,298.20h-3.70M465.70,286.80h1.85M648.20,286.80h-1.85M465.70,275.40h3.70M648.20,275.40h-3.70M465.70,264.00h1.85M648.20,264.00h-1.85M465.70,252.60h3.70M648.20,252.60h-3.70M465.70,241.20h1.85M648.20,241.20h-1.85M465.70,229.80h3.70M648.20,229.80h-3.70M465.70,218.40h1.85M648.20,218.40h-1.85M465.70,207.00h3.70M648.20,207.00h-3.70" stroke="#000" stroke-width="1.4" fill="none"/>
<line x1="465.70" y1="252.55" x2="648.20" y2="252.55" stroke="#00f" stroke-width="1.2"/>
<path d="M489.05,250.96V269.76M485.05,250.96h8M485.05,269.76h8M505.13,256.17V274.75M501.13,256.17h8M501.13,274.75h8M521.66,261.61V280.41M517.66,261.61h8M517.66,280.41h8M538.20,234.20V252.77M534.20,234.20h8M534.20,252.77h8M554.51,250.96V269.76M550.51,250.96h8M550.51,269.76h8M570.81,236.24V255.04M566.81,236.24h8M566.81,255.04h8M587.35,222.20V240.77M583.35,222.20h8M583.35,240.77h8M603.66,228.54V254.59M599.66,228.54h8M599.66,254.59h8" stroke="#000" stroke-width="1.35" fill="none" clip-path="url(#c3)"/>
<circle cx="489.05" cy="260.48" r="2.45" fill="#000"/>
<circle cx="505.13" cy="265.46" r="2.45" fill="#000"/>
<circle cx="521.66" cy="270.89" r="2.45" fill="#000"/>
<circle cx="538.20" cy="243.49" r="2.45" fill="#000"/>
<circle cx="554.51" cy="260.25" r="2.45" fill="#000"/>
<circle cx="570.81" cy="245.53" r="2.45" fill="#000"/>
<circle cx="587.35" cy="231.48" r="2.45" fill="#000"/>
<circle cx="603.66" cy="241.68" r="2.45" fill="#000"/>
<line x1="489.05" y1="267.95" x2="603.66" y2="236.24" stroke="#f00" stroke-width="1.2"/>
<text transform="translate(434.20 298.80) scale(1.021 1)" font-size="10.8" fill="#000" stroke="#000" stroke-width="0.55">0.990</text>
<text transform="translate(434.20 279.60) scale(1.021 1)" font-size="10.8" fill="#000" stroke="#000" stroke-width="0.55">0.995</text>
<text transform="translate(434.20 256.80) scale(1.021 1)" font-size="10.8" fill="#000" stroke="#000" stroke-width="0.55">1.000</text>
<text transform="translate(434.20 234.00) scale(1.021 1)" font-size="10.8" fill="#000" stroke="#000" stroke-width="0.55">1.005</text>
<text transform="translate(434.20 214.30) scale(1.021 1)" font-size="10.8" fill="#000" stroke="#000" stroke-width="0.55">1.010</text>
<text transform="translate(462.10 314.00) scale(1.000 1)" font-size="10.8" fill="#000" stroke="#000" stroke-width="0.55">0</text>
<text transform="translate(499.80 314.00) scale(0.991 1)" font-size="10.8" fill="#000" stroke="#000" stroke-width="0.55">10</text>
<text transform="translate(540.45 314.00) scale(0.991 1)" font-size="10.8" fill="#000" stroke="#000" stroke-width="0.55">20</text>
<text transform="translate(581.10 314.00) scale(0.991 1)" font-size="10.8" fill="#000" stroke="#000" stroke-width="0.55">30</text>
<text transform="translate(621.75 314.00) scale(0.991 1)" font-size="10.8" fill="#000" stroke="#000" stroke-width="0.55">40</text>
<text transform="translate(538.45 326.40) scale(1.000 1)" font-size="10.8" fill="#000" stroke="#000" stroke-width="0.55">t</text>
<text transform="translate(547.45 326.40) scale(1.158 1)" font-size="10.8" fill="#000" stroke="#000" stroke-width="0.55">[min]</text>
<text transform="translate(424.30 278.80) rotate(-90) translate(0.00 0) scale(0.993 1)" font-size="10.8" fill="#000" stroke="#000" stroke-width="0.55">Norm.</text>
<text transform="translate(424.30 243.40) rotate(-90) translate(0.00 0) scale(1.012 1)" font-size="10.8" fill="#000" stroke="#000" stroke-width="0.55">flux</text>
<text transform="translate(472.70 221.10) scale(1.160 1)" font-size="10.8" fill="#000" stroke="#000" stroke-width="0.55" letter-spacing="0.276">λ=</text>
<text transform="translate(488.60 221.10) scale(0.947 1)" font-size="10.8" fill="#000" stroke="#000" stroke-width="0.55">1.22</text>
<line x1="510.30" y1="217.80" x2="518.10" y2="217.80" stroke="#000" stroke-width="1.25"/>
<text transform="translate(520.40 221.10) scale(0.990 1)" font-size="10.8" fill="#000" stroke="#000" stroke-width="0.55">1.32</text>
<text transform="translate(546.50 221.10) scale(1.071 1)" font-size="10.8" fill="#000" stroke="#000" stroke-width="0.55">μm</text>
<clipPath id="c4"><rect x="697.80" y="206.50" width="117.00" height="92.20"/></clipPath>
<rect x="698.30" y="207.00" width="116.00" height="91.20" fill="none" stroke="#000" stroke-width="1.55"/>
<path d="M700.20,298.20v-1.90M700.20,207.00v1.90M705.76,298.20v-0.95M705.76,207.00v0.95M711.32,298.20v-0.95M711.32,207.00v0.95M716.88,298.20v-0.95M716.88,207.00v0.95M722.44,298.20v-0.95M722.44,207.00v0.95M728.00,298.20v-1.90M728.00,207.00v1.90M733.56,298.20v-0.95M733.56,207.00v0.95M739.12,298.20v-0.95M739.12,207.00v0.95M744.68,298.20v-0.95M744.68,207.00v0.95M750.24,298.20v-0.95M750.24,207.00v0.95M755.80,298.20v-1.90M755.80,207.00v1.90M761.36,298.20v-0.95M761.36,207.00v0.95M766.92,298.20v-0.95M766.92,207.00v0.95M772.48,298.20v-0.95M772.48,207.00v0.95M778.04,298.20v-0.95M778.04,207.00v0.95M783.60,298.20v-1.90M783.60,207.00v1.90M789.16,298.20v-0.95M789.16,207.00v0.95M794.72,298.20v-0.95M794.72,207.00v0.95M800.28,298.20v-0.95M800.28,207.00v0.95M805.84,298.20v-0.95M805.84,207.00v0.95M811.40,298.20v-1.90M811.40,207.00v1.90" stroke="#000" stroke-width="1.2" fill="none"/>
<path d="M698.30,298.20h2.40M814.30,298.20h-2.40M698.30,296.68h1.20M814.30,296.68h-1.20M698.30,295.16h1.20M814.30,295.16h-1.20M698.30,293.64h1.20M814.30,293.64h-1.20M698.30,292.12h1.20M814.30,292.12h-1.20M698.30,290.60h1.20M814.30,290.60h-1.20M698.30,289.08h1.20M814.30,289.08h-1.20M698.30,287.56h1.20M814.30,287.56h-1.20M698.30,286.04h1.20M814.30,286.04h-1.20M698.30,284.52h1.20M814.30,284.52h-1.20M698.30,283.00h2.40M814.30,283.00h-2.40M698.30,281.48h1.20M814.30,281.48h-1.20M698.30,279.96h1.20M814.30,279.96h-1.20M698.30,278.44h1.20M814.30,278.44h-1.20M698.30,276.92h1.20M814.30,276.92h-1.20M698.30,275.40h1.20M814.30,275.40h-1.20M698.30,273.88h1.20M814.30,273.88h-1.20M698.30,272.36h1.20M814.30,272.36h-1.20M698.30,270.84h1.20M814.30,270.84h-1.20M698.30,269.32h1.20M814.30,269.32h-1.20M698.30,267.80h2.40M814.30,267.80h-2.40M698.30,266.28h1.20M814.30,266.28h-1.20M698.30,264.76h1.20M814.30,264.76h-1.20M698.30,263.24h1.20M814.30,263.24h-1.20M698.30,261.72h1.20M814.30,261.72h-1.20M698.30,260.20h1.20M814.30,260.20h-1.20M698.30,258.68h1.20M814.30,258.68h-1.20M698.30,257.16h1.20M814.30,257.16h-1.20M698.30,255.64h1.20M814.30,255.64h-1.20M698.30,254.12h1.20M814.30,254.12h-1.20M698.30,252.60h2.40M814.30,252.60h-2.40M698.30,251.08h1.20M814.30,251.08h-1.20M698.30,249.56h1.20M814.30,249.56h-1.20M698.30,248.04h1.20M814.30,248.04h-1.20M698.30,246.52h1.20M814.30,246.52h-1.20M698.30,245.00h1.20M814.30,245.00h-1.20M698.30,243.48h1.20M814.30,243.48h-1.20M698.30,241.96h1.20M814.30,241.96h-1.20M698.30,240.44h1.20M814.30,240.44h-1.20M698.30,238.92h1.20M814.30,238.92h-1.20M698.30,237.40h2.40M814.30,237.40h-2.40M698.30,235.88h1.20M814.30,235.88h-1.20M698.30,234.36h1.20M814.30,234.36h-1.20M698.30,232.84h1.20M814.30,232.84h-1.20M698.30,231.32h1.20M814.30,231.32h-1.20M698.30,229.80h1.20M814.30,229.80h-1.20M698.30,228.28h1.20M814.30,228.28h-1.20M698.30,226.76h1.20M814.30,226.76h-1.20M698.30,225.24h1.20M814.30,225.24h-1.20M698.30,223.72h1.20M814.30,223.72h-1.20M698.30,222.20h2.40M814.30,222.20h-2.40M698.30,220.68h1.20M814.30,220.68h-1.20M698.30,219.16h1.20M814.30,219.16h-1.20M698.30,217.64h1.20M814.30,217.64h-1.20M698.30,216.12h1.20M814.30,216.12h-1.20M698.30,214.60h1.20M814.30,214.60h-1.20M698.30,213.08h1.20M814.30,213.08h-1.20M698.30,211.56h1.20M814.30,211.56h-1.20M698.30,210.04h1.20M814.30,210.04h-1.20M698.30,208.52h1.20M814.30,208.52h-1.20M698.30,207.00h2.40M814.30,207.00h-2.40" stroke="#000" stroke-width="1.1" fill="none"/>
<path d="M700.2,222.2 L701.4,223.8 L702.5,225.3 L703.7,226.8 L704.8,228.2 L706.0,229.7 L707.1,231.1 L708.3,232.5 L709.4,233.8 L710.6,235.1 L711.7,236.4 L712.9,237.7 L714.0,238.9 L715.2,240.2 L716.3,241.3 L717.5,242.5 L718.6,243.7 L719.8,244.8 L720.9,245.9 L722.1,246.9 L723.3,248.0 L724.4,249.0 L725.6,250.0 L726.7,251.0 L727.9,252.0 L729.0,252.9 L730.2,253.9 L731.3,254.8 L732.5,255.7 L733.6,256.5 L734.8,257.4 L735.9,258.2 L737.1,259.0 L738.2,259.9 L739.4,260.6 L740.5,261.4 L741.7,262.2 L742.8,262.9 L744.0,263.6 L745.1,264.3 L746.3,265.0 L747.5,265.7 L748.6,266.4 L749.8,267.0 L750.9,267.7 L752.1,268.3 L753.2,268.9 L754.4,269.5 L755.5,270.1 L756.7,270.7 L757.8,271.2 L759.0,271.8 L760.1,272.3 L761.3,272.9 L762.4,273.4 L763.6,273.9 L764.7,274.4 L765.9,274.9 L767.0,275.4 L768.2,275.8 L769.4,276.3 L770.5,276.7 L771.7,277.2 L772.8,277.6 L774.0,278.0 L775.1,278.4 L776.3,278.9 L777.4,279.2 L778.6,279.6 L779.7,280.0 L780.9,280.4 L782.0,280.8 L783.2,281.1 L784.3,281.5 L785.5,281.8 L786.6,282.1 L787.8,282.5 L788.9,282.8 L790.1,283.1 L791.2,283.4 L792.4,283.7 L793.6,284.0 L794.7,284.3 L795.9,284.6 L797.0,284.9 L798.2,285.2 L799.3,285.4 L800.5,285.7 L801.6,285.9 L802.8,286.2 L803.9,286.4 L805.1,286.7 L806.2,286.9 L807.4,287.1 L808.5,287.4 L809.7,287.6 L810.8,287.8 L812.0,288.0 L813.1,288.2 L814.3,288.4" fill="none" stroke="#f00" stroke-width="0.6" stroke-linejoin="round" stroke-dasharray="5.6 5.0" clip-path="url(#c4)"/>
<path d="M700.2,222.2 L701.4,225.3 L702.5,228.2 L703.7,231.1 L704.8,233.8 L706.0,236.4 L707.1,238.9 L708.3,241.3 L709.4,243.7 L710.6,245.9 L711.7,248.0 L712.9,250.0 L714.0,252.0 L715.2,253.9 L716.3,255.7 L717.5,257.4 L718.6,259.0 L719.8,260.6 L720.9,262.2 L722.1,263.6 L723.3,265.0 L724.4,266.4 L725.6,267.7 L726.7,268.9 L727.9,270.1 L729.0,271.2 L730.2,272.3 L731.3,273.4 L732.5,274.4 L733.6,275.4 L734.8,276.3 L735.9,277.2 L737.1,278.0 L738.2,278.9 L739.4,279.6 L740.5,280.4 L741.7,281.1 L742.8,281.8 L744.0,282.5 L745.1,283.1 L746.3,283.7 L747.5,284.3 L748.6,284.9 L749.8,285.4 L750.9,285.9 L752.1,286.4 L753.2,286.9 L754.4,287.4 L755.5,287.8 L756.7,288.2 L757.8,288.6 L759.0,289.0 L760.1,289.4 L761.3,289.8 L762.4,290.1 L763.6,290.4 L764.7,290.7 L765.9,291.0 L767.0,291.3 L768.2,291.6 L769.4,291.9 L770.5,292.1 L771.7,292.4 L772.8,292.6 L774.0,292.8 L775.1,293.1 L776.3,293.3 L777.4,293.5 L778.6,293.7 L779.7,293.9 L780.9,294.0 L782.0,294.2 L783.2,294.4 L784.3,294.5 L785.5,294.7 L786.6,294.8 L787.8,294.9 L788.9,295.1 L790.1,295.2 L791.2,295.3 L792.4,295.4 L793.6,295.6 L794.7,295.7 L795.9,295.8 L797.0,295.9 L798.2,296.0 L799.3,296.1 L800.5,296.1 L801.6,296.2 L802.8,296.3 L803.9,296.4 L805.1,296.5 L806.2,296.5 L807.4,296.6 L808.5,296.7 L809.7,296.7 L810.8,296.8 L812.0,296.8 L813.1,296.9 L814.3,296.9" fill="none" stroke="#00f" stroke-width="0.6" stroke-linejoin="round" stroke-dasharray="5.6 5.0" clip-path="url(#c4)"/>
<path d="M700.2,290.1 L701.4,290.0 L702.5,289.7 L703.7,289.3 L704.8,288.6 L706.0,287.8 L707.1,286.8 L708.3,285.6 L709.4,284.2 L710.6,282.6 L711.7,280.9 L712.9,278.9 L714.0,276.8 L715.2,274.5 L716.3,272.1 L717.5,269.5 L718.6,266.8 L719.8,263.9 L720.9,260.9 L722.1,257.9 L723.3,254.8 L724.4,251.7 L725.6,248.6 L726.7,245.5 L727.9,242.5 L729.0,239.5 L730.2,236.7 L731.3,234.1 L732.5,231.6 L733.6,229.4 L734.8,227.5 L735.9,225.8 L737.1,224.4 L738.2,223.3 L739.4,222.6 L740.5,222.2 L741.7,222.2 L742.8,222.5 L744.0,223.2 L745.1,224.2 L746.3,225.5 L747.5,227.2 L748.6,229.1 L749.8,231.3 L750.9,233.7 L752.1,236.3 L753.2,239.1 L754.4,242.0 L755.5,245.0 L756.7,248.1 L757.8,251.2 L759.0,254.4 L760.1,257.5 L761.3,260.6 L762.4,263.6 L763.6,266.5 L764.7,269.3 L765.9,271.9 L767.0,274.5 L768.2,276.9 L769.4,279.1 L770.5,281.2 L771.7,283.1 L772.8,284.9 L774.0,286.5 L775.1,288.0 L776.3,289.3 L777.4,290.5 L778.6,291.5 L779.7,292.5 L780.9,293.3 L782.0,294.0 L783.2,294.7 L784.3,295.2 L785.5,295.7 L786.6,296.1 L787.8,296.5 L788.9,296.8 L790.1,297.0 L791.2,297.2 L792.4,297.4 L793.6,297.6 L794.7,297.7 L795.9,297.8 L797.0,297.9 L798.2,297.9 L799.3,298.0 L800.5,298.0 L801.6,298.1 L802.8,298.1 L803.9,298.1 L805.1,298.1 L806.2,298.2 L807.4,298.2 L808.5,298.2 L809.7,298.2 L810.8,298.2 L812.0,298.2 L813.1,298.2 L814.3,298.2" fill="none" stroke="#000" stroke-width="1.15" stroke-linejoin="round" clip-path="url(#c4)"/>
<path d="M700.2,282.0 L701.4,282.2 L702.5,282.0 L703.7,281.5 L704.8,280.6 L706.0,279.5 L707.1,278.1 L708.3,276.5 L709.4,274.6 L710.6,272.4 L711.7,270.1 L712.9,267.6 L714.0,265.0 L715.2,262.2 L716.3,259.2 L717.5,256.2 L718.6,253.2 L719.8,250.1 L720.9,247.0 L722.1,244.0 L723.3,241.0 L724.4,238.2 L725.6,235.4 L726.7,232.9 L727.9,230.6 L729.0,228.5 L730.2,226.6 L731.3,225.1 L732.5,223.9 L733.6,223.0 L734.8,222.4 L735.9,222.2 L737.1,222.3 L738.2,222.8 L739.4,223.7 L740.5,224.8 L741.7,226.3 L742.8,228.1 L744.0,230.1 L745.1,232.4 L746.3,234.9 L747.5,237.6 L748.6,240.5 L749.8,243.4 L750.9,246.5 L752.1,249.6 L753.2,252.7 L754.4,255.9 L755.5,259.0 L756.7,262.0 L757.8,265.0 L759.0,267.8 L760.1,270.6 L761.3,273.2 L762.4,275.6 L763.6,278.0 L764.7,280.1 L765.9,282.1 L767.0,284.0 L768.2,285.7 L769.4,287.2 L770.5,288.6 L771.7,289.9 L772.8,291.0 L774.0,292.0 L775.1,292.9 L776.3,293.7 L777.4,294.4 L778.6,295.0 L779.7,295.5 L780.9,295.9 L782.0,296.3 L783.2,296.6 L784.3,296.9 L785.5,297.1 L786.6,297.3 L787.8,297.5 L788.9,297.6 L790.1,297.7 L791.2,297.8 L792.4,297.9 L793.6,298.0 L794.7,298.0 L795.9,298.1 L797.0,298.1 L798.2,298.1 L799.3,298.1 L800.5,298.1 L801.6,298.2 L802.8,298.2 L803.9,298.2 L805.1,298.2 L806.2,298.2 L807.4,298.2 L808.5,298.2 L809.7,298.2 L810.8,298.2 L812.0,298.2 L813.1,298.2 L814.3,298.2" fill="none" stroke="#f00" stroke-width="0.95" stroke-linejoin="round" clip-path="url(#c4)"/>
<path d="M700.2,268.8 L701.4,269.7 L702.5,269.9 L703.7,269.6 L704.8,268.8 L706.0,267.6 L707.1,265.9 L708.3,264.0 L709.4,261.8 L710.6,259.3 L711.7,256.7 L712.9,253.9 L714.0,251.0 L715.2,248.1 L716.3,245.2 L717.5,242.2 L718.6,239.4 L719.8,236.7 L720.9,234.1 L722.1,231.7 L723.3,229.5 L724.4,227.5 L725.6,225.8 L726.7,224.4 L727.9,223.4 L729.0,222.6 L730.2,222.2 L731.3,222.2 L732.5,222.5 L733.6,223.2 L734.8,224.2 L735.9,225.5 L737.1,227.1 L738.2,229.0 L739.4,231.2 L740.5,233.6 L741.7,236.2 L742.8,238.9 L744.0,241.9 L745.1,244.9 L746.3,248.0 L747.5,251.1 L748.6,254.2 L749.8,257.3 L750.9,260.4 L752.1,263.4 L753.2,266.3 L754.4,269.1 L755.5,271.8 L756.7,274.4 L757.8,276.8 L759.0,279.0 L760.1,281.1 L761.3,283.0 L762.4,284.8 L763.6,286.4 L764.7,287.9 L765.9,289.2 L767.0,290.4 L768.2,291.5 L769.4,292.4 L770.5,293.3 L771.7,294.0 L772.8,294.7 L774.0,295.2 L775.1,295.7 L776.3,296.1 L777.4,296.5 L778.6,296.8 L779.7,297.0 L780.9,297.2 L782.0,297.4 L783.2,297.6 L784.3,297.7 L785.5,297.8 L786.6,297.9 L787.8,297.9 L788.9,298.0 L790.1,298.0 L791.2,298.1 L792.4,298.1 L793.6,298.1 L794.7,298.1 L795.9,298.2 L797.0,298.2 L798.2,298.2 L799.3,298.2 L800.5,298.2 L801.6,298.2 L802.8,298.2 L803.9,298.2 L805.1,298.2 L806.2,298.2 L807.4,298.2 L808.5,298.2 L809.7,298.2 L810.8,298.2 L812.0,298.2 L813.1,298.2 L814.3,298.2" fill="none" stroke="#00f" stroke-width="0.95" stroke-linejoin="round" clip-path="url(#c4)"/>
<text transform="translate(679.20 298.80) scale(1.012 1)" font-size="10.8" fill="#000" stroke="#000" stroke-width="0.55">0.0</text>
<text transform="translate(679.20 287.20) scale(1.012 1)" font-size="10.8" fill="#000" stroke="#000" stroke-width="0.55">0.2</text>
<text transform="translate(679.20 272.00) scale(1.012 1)" font-size="10.8" fill="#000" stroke="#000" stroke-width="0.55">0.4</text>
<text transform="translate(679.20 256.80) scale(1.012 1)" font-size="10.8" fill="#000" stroke="#000" stroke-width="0.55">0.6</text>
<text transform="translate(679.20 241.60) scale(1.012 1)" font-size="10.8" fill="#000" stroke="#000" stroke-width="0.55">0.8</text>
<text transform="translate(679.20 226.40) scale(1.012 1)" font-size="10.8" fill="#000" stroke="#000" stroke-width="0.55">1.0</text>
<text transform="translate(679.20 214.30) scale(1.012 1)" font-size="10.8" fill="#000" stroke="#000" stroke-width="0.55">1.2</text>
<text transform="translate(697.30 314.00) scale(1.000 1)" font-size="10.8" fill="#000" stroke="#000" stroke-width="0.55">0</text>
<text transform="translate(725.10 314.00) scale(1.000 1)" font-size="10.8" fill="#000" stroke="#000" stroke-width="0.55">1</text>
<text transform="translate(752.90 314.00) scale(1.000 1)" font-size="10.8" fill="#000" stroke="#000" stroke-width="0.55">2</text>
<text transform="translate(780.70 314.00) scale(1.000 1)" font-size="10.8" fill="#000" stroke="#000" stroke-width="0.55">3</text>
<text transform="translate(808.50 314.00) scale(1.000 1)" font-size="10.8" fill="#000" stroke="#000" stroke-width="0.55">4</text>
<text transform="translate(712.20 325.60) scale(0.913 1)" font-size="10.8" fill="#000" stroke="#000" stroke-width="0.55">True</text>
<text transform="translate(738.50 325.60) scale(0.980 1)" font-size="10.8" fill="#000" stroke="#000" stroke-width="0.55">slope</text>
<text transform="translate(770.10 325.60) scale(1.160 1)" font-size="10.8" fill="#000" stroke="#000" stroke-width="0.55" letter-spacing="0.011">[%/h]</text>
<text transform="translate(669.90 285.50) rotate(-90) translate(0.00 0) scale(0.980 1)" font-size="10.8" fill="#000" stroke="#000" stroke-width="0.55">Prob.</text>
<text transform="translate(669.90 254.80) rotate(-90) translate(0.00 0) scale(1.005 1)" font-size="10.8" fill="#000" stroke="#000" stroke-width="0.55">density</text>
<clipPath id="c5"><rect x="49.80" y="331.10" width="183.50" height="92.20"/></clipPath>
<rect x="50.30" y="331.60" width="182.50" height="91.20" fill="none" stroke="#000" stroke-width="1.55"/>
<path d="M50.30,422.80v-1.90M50.30,331.60v1.90M54.36,422.80v-0.95M54.36,331.60v0.95M58.41,422.80v-0.95M58.41,331.60v0.95M62.47,422.80v-0.95M62.47,331.60v0.95M66.52,422.80v-0.95M66.52,331.60v0.95M70.58,422.80v-0.95M70.58,331.60v0.95M74.63,422.80v-0.95M74.63,331.60v0.95M78.69,422.80v-0.95M78.69,331.60v0.95M82.74,422.80v-0.95M82.74,331.60v0.95M86.80,422.80v-0.95M86.80,331.60v0.95M90.86,422.80v-1.90M90.86,331.60v1.90M94.91,422.80v-0.95M94.91,331.60v0.95M98.97,422.80v-0.95M98.97,331.60v0.95M103.02,422.80v-0.95M103.02,331.60v0.95M107.08,422.80v-0.95M107.08,331.60v0.95M111.13,422.80v-0.95M111.13,331.60v0.95M115.19,422.80v-0.95M115.19,331.60v0.95M119.24,422.80v-0.95M119.24,331.60v0.95M123.30,422.80v-0.95M123.30,331.60v0.95M127.36,422.80v-0.95M127.36,331.60v0.95M131.41,422.80v-1.90M131.41,331.60v1.90M135.47,422.80v-0.95M135.47,331.60v0.95M139.52,422.80v-0.95M139.52,331.60v0.95M143.58,422.80v-0.95M143.58,331.60v0.95M147.63,422.80v-0.95M147.63,331.60v0.95M151.69,422.80v-0.95M151.69,331.60v0.95M155.74,422.80v-0.95M155.74,331.60v0.95M159.80,422.80v-0.95M159.80,331.60v0.95M163.86,422.80v-0.95M163.86,331.60v0.95M167.91,422.80v-0.95M167.91,331.60v0.95M171.97,422.80v-1.90M171.97,331.60v1.90M176.02,422.80v-0.95M176.02,331.60v0.95M180.08,422.80v-0.95M180.08,331.60v0.95M184.13,422.80v-0.95M184.13,331.60v0.95M188.19,422.80v-0.95M188.19,331.60v0.95M192.24,422.80v-0.95M192.24,331.60v0.95M196.30,422.80v-0.95M196.30,331.60v0.95M200.36,422.80v-0.95M200.36,331.60v0.95M204.41,422.80v-0.95M204.41,331.60v0.95M208.47,422.80v-0.95M208.47,331.60v0.95M212.52,422.80v-1.90M212.52,331.60v1.90M216.58,422.80v-0.95M216.58,331.60v0.95M220.63,422.80v-0.95M220.63,331.60v0.95M224.69,422.80v-0.95M224.69,331.60v0.95M228.74,422.80v-0.95M228.74,331.60v0.95M232.80,422.80v-0.95M232.80,331.60v0.95" stroke="#000" stroke-width="1.2" fill="none"/>
<path d="M50.30,422.80h3.70M232.80,422.80h-3.70M50.30,411.40h1.85M232.80,411.40h-1.85M50.30,400.00h3.70M232.80,400.00h-3.70M50.30,388.60h1.85M232.80,388.60h-1.85M50.30,377.20h3.70M232.80,377.20h-3.70M50.30,365.80h1.85M232.80,365.80h-1.85M50.30,354.40h3.70M232.80,354.40h-3.70M50.30,343.00h1.85M232.80,343.00h-1.85M50.30,331.60h3.70M232.80,331.60h-3.70" stroke="#000" stroke-width="1.4" fill="none"/>
<line x1="50.30" y1="377.32" x2="232.80" y2="377.32" stroke="#00f" stroke-width="1.2"/>
<path d="M73.82,368.49V391.14M69.82,368.49h8M69.82,391.14h8M90.13,383.44V405.86M86.13,383.44h8M86.13,405.86h8M106.66,392.27V414.92M102.66,392.27h8M102.66,414.92h8M122.97,349.01V371.43M118.97,349.01h8M118.97,371.43h8M139.28,372.11V394.54M135.28,372.11h8M135.28,394.54h8M155.81,351.73V373.92M151.81,351.73h8M151.81,373.92h8M172.12,352.41V374.83M168.12,352.41h8M168.12,374.83h8M188.66,353.99V382.98M184.66,353.99h8M184.66,382.98h8" stroke="#000" stroke-width="1.35" fill="none" clip-path="url(#c5)"/>
<circle cx="73.82" cy="379.59" r="2.45" fill="#000"/>
<circle cx="90.13" cy="394.54" r="2.45" fill="#000"/>
<circle cx="106.66" cy="403.60" r="2.45" fill="#000"/>
<circle cx="122.97" cy="360.11" r="2.45" fill="#000"/>
<circle cx="139.28" cy="383.44" r="2.45" fill="#000"/>
<circle cx="155.81" cy="362.60" r="2.45" fill="#000"/>
<circle cx="172.12" cy="363.51" r="2.45" fill="#000"/>
<circle cx="188.66" cy="368.49" r="2.45" fill="#000"/>
<line x1="74.05" y1="391.36" x2="188.66" y2="362.37" stroke="#f00" stroke-width="1.2"/>
<text transform="translate(18.80 423.40) scale(1.021 1)" font-size="10.8" fill="#000" stroke="#000" stroke-width="0.55">0.990</text>
<text transform="translate(18.80 404.20) scale(1.021 1)" font-size="10.8" fill="#000" stroke="#000" stroke-width="0.55">0.995</text>
<text transform="translate(18.80 381.40) scale(1.021 1)" font-size="10.8" fill="#000" stroke="#000" stroke-width="0.55">1.000</text>
<text transform="translate(18.80 358.60) scale(1.021 1)" font-size="10.8" fill="#000" stroke="#000" stroke-width="0.55">1.005</text>
<text transform="translate(18.80 338.90) scale(1.021 1)" font-size="10.8" fill="#000" stroke="#000" stroke-width="0.55">1.010</text>
<text transform="translate(46.70 438.60) scale(1.000 1)" font-size="10.8" fill="#000" stroke="#000" stroke-width="0.55">0</text>
<text transform="translate(84.40 438.60) scale(0.991 1)" font-size="10.8" fill="#000" stroke="#000" stroke-width="0.55">10</text>
<text transform="translate(125.05 438.60) scale(0.991 1)" font-size="10.8" fill="#000" stroke="#000" stroke-width="0.55">20</text>
<text transform="translate(165.70 438.60) scale(0.991 1)" font-size="10.8" fill="#000" stroke="#000" stroke-width="0.55">30</text>
<text transform="translate(206.35 438.60) scale(0.991 1)" font-size="10.8" fill="#000" stroke="#000" stroke-width="0.55">40</text>
<text transform="translate(123.05 451.00) scale(1.000 1)" font-size="10.8" fill="#000" stroke="#000" stroke-width="0.55">t</text>
<text transform="translate(132.05 451.00) scale(1.158 1)" font-size="10.8" fill="#000" stroke="#000" stroke-width="0.55">[min]</text>
<text transform="translate(8.90 403.40) rotate(-90) translate(0.00 0) scale(0.993 1)" font-size="10.8" fill="#000" stroke="#000" stroke-width="0.55">Norm.</text>
<text transform="translate(8.90 368.00) rotate(-90) translate(0.00 0) scale(1.012 1)" font-size="10.8" fill="#000" stroke="#000" stroke-width="0.55">flux</text>
<text transform="translate(57.30 345.70) scale(1.160 1)" font-size="10.8" fill="#000" stroke="#000" stroke-width="0.55" letter-spacing="0.276">λ=</text>
<text transform="translate(73.20 345.70) scale(0.947 1)" font-size="10.8" fill="#000" stroke="#000" stroke-width="0.55">1.26</text>
<line x1="94.90" y1="342.40" x2="102.70" y2="342.40" stroke="#000" stroke-width="1.25"/>
<text transform="translate(105.00 345.70) scale(0.990 1)" font-size="10.8" fill="#000" stroke="#000" stroke-width="0.55">1.32</text>
<text transform="translate(131.10 345.70) scale(1.071 1)" font-size="10.8" fill="#000" stroke="#000" stroke-width="0.55">μm</text>
<clipPath id="c6"><rect x="282.40" y="331.10" width="117.00" height="92.20"/></clipPath>
<rect x="282.90" y="331.60" width="116.00" height="91.20" fill="none" stroke="#000" stroke-width="1.55"/>
<path d="M284.80,422.80v-1.90M284.80,331.60v1.90M289.25,422.80v-0.95M289.25,331.60v0.95M293.70,422.80v-0.95M293.70,331.60v0.95M298.14,422.80v-0.95M298.14,331.60v0.95M302.59,422.80v-0.95M302.59,331.60v0.95M307.04,422.80v-1.90M307.04,331.60v1.90M311.49,422.80v-0.95M311.49,331.60v0.95M315.94,422.80v-0.95M315.94,331.60v0.95M320.38,422.80v-0.95M320.38,331.60v0.95M324.83,422.80v-0.95M324.83,331.60v0.95M329.28,422.80v-1.90M329.28,331.60v1.90M333.73,422.80v-0.95M333.73,331.60v0.95M338.18,422.80v-0.95M338.18,331.60v0.95M342.62,422.80v-0.95M342.62,331.60v0.95M347.07,422.80v-0.95M347.07,331.60v0.95M351.52,422.80v-1.90M351.52,331.60v1.90M355.97,422.80v-0.95M355.97,331.60v0.95M360.42,422.80v-0.95M360.42,331.60v0.95M364.86,422.80v-0.95M364.86,331.60v0.95M369.31,422.80v-0.95M369.31,331.60v0.95M373.76,422.80v-1.90M373.76,331.60v1.90M378.21,422.80v-0.95M378.21,331.60v0.95M382.66,422.80v-0.95M382.66,331.60v0.95M387.10,422.80v-0.95M387.10,331.60v0.95M391.55,422.80v-0.95M391.55,331.60v0.95M396.00,422.80v-1.90M396.00,331.60v1.90" stroke="#000" stroke-width="1.2" fill="none"/>
<path d="M282.90,422.80h2.40M398.90,422.80h-2.40M282.90,421.28h1.20M398.90,421.28h-1.20M282.90,419.76h1.20M398.90,419.76h-1.20M282.90,418.24h1.20M398.90,418.24h-1.20M282.90,416.72h1.20M398.90,416.72h-1.20M282.90,415.20h1.20M398.90,415.20h-1.20M282.90,413.68h1.20M398.90,413.68h-1.20M282.90,412.16h1.20M398.90,412.16h-1.20M282.90,410.64h1.20M398.90,410.64h-1.20M282.90,409.12h1.20M398.90,409.12h-1.20M282.90,407.60h2.40M398.90,407.60h-2.40M282.90,406.08h1.20M398.90,406.08h-1.20M282.90,404.56h1.20M398.90,404.56h-1.20M282.90,403.04h1.20M398.90,403.04h-1.20M282.90,401.52h1.20M398.90,401.52h-1.20M282.90,400.00h1.20M398.90,400.00h-1.20M282.90,398.48h1.20M398.90,398.48h-1.20M282.90,396.96h1.20M398.90,396.96h-1.20M282.90,395.44h1.20M398.90,395.44h-1.20M282.90,393.92h1.20M398.90,393.92h-1.20M282.90,392.40h2.40M398.90,392.40h-2.40M282.90,390.88h1.20M398.90,390.88h-1.20M282.90,389.36h1.20M398.90,389.36h-1.20M282.90,387.84h1.20M398.90,387.84h-1.20M282.90,386.32h1.20M398.90,386.32h-1.20M282.90,384.80h1.20M398.90,384.80h-1.20M282.90,383.28h1.20M398.90,383.28h-1.20M282.90,381.76h1.20M398.90,381.76h-1.20M282.90,380.24h1.20M398.90,380.24h-1.20M282.90,378.72h1.20M398.90,378.72h-1.20M282.90,377.20h2.40M398.90,377.20h-2.40M282.90,375.68h1.20M398.90,375.68h-1.20M282.90,374.16h1.20M398.90,374.16h-1.20M282.90,372.64h1.20M398.90,372.64h-1.20M282.90,371.12h1.20M398.90,371.12h-1.20M282.90,369.60h1.20M398.90,369.60h-1.20M282.90,368.08h1.20M398.90,368.08h-1.20M282.90,366.56h1.20M398.90,366.56h-1.20M282.90,365.04h1.20M398.90,365.04h-1.20M282.90,363.52h1.20M398.90,363.52h-1.20M282.90,362.00h2.40M398.90,362.00h-2.40M282.90,360.48h1.20M398.90,360.48h-1.20M282.90,358.96h1.20M398.90,358.96h-1.20M282.90,357.44h1.20M398.90,357.44h-1.20M282.90,355.92h1.20M398.90,355.92h-1.20M282.90,354.40h1.20M398.90,354.40h-1.20M282.90,352.88h1.20M398.90,352.88h-1.20M282.90,351.36h1.20M398.90,351.36h-1.20M282.90,349.84h1.20M398.90,349.84h-1.20M282.90,348.32h1.20M398.90,348.32h-1.20M282.90,346.80h2.40M398.90,346.80h-2.40M282.90,345.28h1.20M398.90,345.28h-1.20M282.90,343.76h1.20M398.90,343.76h-1.20M282.90,342.24h1.20M398.90,342.24h-1.20M282.90,340.72h1.20M398.90,340.72h-1.20M282.90,339.20h1.20M398.90,339.20h-1.20M282.90,337.68h1.20M398.90,337.68h-1.20M282.90,336.16h1.20M398.90,336.16h-1.20M282.90,334.64h1.20M398.90,334.64h-1.20M282.90,333.12h1.20M398.90,333.12h-1.20M282.90,331.60h2.40M398.90,331.60h-2.40" stroke="#000" stroke-width="1.1" fill="none"/>
<path d="M284.8,346.8 L286.0,348.7 L287.1,350.6 L288.3,352.5 L289.4,354.3 L290.6,356.0 L291.7,357.7 L292.9,359.4 L294.0,361.0 L295.2,362.6 L296.3,364.1 L297.5,365.6 L298.6,367.1 L299.8,368.5 L300.9,369.9 L302.1,371.3 L303.2,372.6 L304.4,373.9 L305.5,375.1 L306.7,376.3 L307.9,377.5 L309.0,378.7 L310.2,379.8 L311.3,380.9 L312.5,382.0 L313.6,383.0 L314.8,384.1 L315.9,385.0 L317.1,386.0 L318.2,387.0 L319.4,387.9 L320.5,388.8 L321.7,389.6 L322.8,390.5 L324.0,391.3 L325.1,392.1 L326.3,392.9 L327.4,393.7 L328.6,394.4 L329.7,395.1 L330.9,395.8 L332.1,396.5 L333.2,397.2 L334.4,397.9 L335.5,398.5 L336.7,399.1 L337.8,399.7 L339.0,400.3 L340.1,400.9 L341.3,401.4 L342.4,402.0 L343.6,402.5 L344.7,403.0 L345.9,403.6 L347.0,404.0 L348.2,404.5 L349.3,405.0 L350.5,405.4 L351.6,405.9 L352.8,406.3 L354.0,406.7 L355.1,407.2 L356.3,407.6 L357.4,407.9 L358.6,408.3 L359.7,408.7 L360.9,409.1 L362.0,409.4 L363.2,409.8 L364.3,410.1 L365.5,410.4 L366.6,410.7 L367.8,411.0 L368.9,411.3 L370.1,411.6 L371.2,411.9 L372.4,412.2 L373.5,412.5 L374.7,412.7 L375.8,413.0 L377.0,413.2 L378.2,413.5 L379.3,413.7 L380.5,414.0 L381.6,414.2 L382.8,414.4 L383.9,414.6 L385.1,414.8 L386.2,415.0 L387.4,415.2 L388.5,415.4 L389.7,415.6 L390.8,415.8 L392.0,416.0 L393.1,416.1 L394.3,416.3 L395.4,416.5 L396.6,416.6 L397.7,416.8 L398.9,417.0" fill="none" stroke="#f00" stroke-width="0.6" stroke-linejoin="round" stroke-dasharray="5.6 5.0" clip-path="url(#c6)"/>
<path d="M284.8,346.8 L286.0,350.6 L287.1,354.3 L288.3,357.7 L289.4,361.0 L290.6,364.1 L291.7,367.1 L292.9,369.9 L294.0,372.6 L295.2,375.1 L296.3,377.5 L297.5,379.8 L298.6,382.0 L299.8,384.1 L300.9,386.0 L302.1,387.9 L303.2,389.6 L304.4,391.3 L305.5,392.9 L306.7,394.4 L307.9,395.8 L309.0,397.2 L310.2,398.5 L311.3,399.7 L312.5,400.9 L313.6,402.0 L314.8,403.0 L315.9,404.0 L317.1,405.0 L318.2,405.9 L319.4,406.7 L320.5,407.6 L321.7,408.3 L322.8,409.1 L324.0,409.8 L325.1,410.4 L326.3,411.0 L327.4,411.6 L328.6,412.2 L329.7,412.7 L330.9,413.2 L332.1,413.7 L333.2,414.2 L334.4,414.6 L335.5,415.0 L336.7,415.4 L337.8,415.8 L339.0,416.1 L340.1,416.5 L341.3,416.8 L342.4,417.1 L343.6,417.4 L344.7,417.7 L345.9,417.9 L347.0,418.2 L348.2,418.4 L349.3,418.6 L350.5,418.8 L351.6,419.0 L352.8,419.2 L354.0,419.4 L355.1,419.6 L356.3,419.7 L357.4,419.9 L358.6,420.0 L359.7,420.2 L360.9,420.3 L362.0,420.4 L363.2,420.6 L364.3,420.7 L365.5,420.8 L366.6,420.9 L367.8,421.0 L368.9,421.1 L370.1,421.2 L371.2,421.2 L372.4,421.3 L373.5,421.4 L374.7,421.5 L375.8,421.5 L377.0,421.6 L378.2,421.7 L379.3,421.7 L380.5,421.8 L381.6,421.8 L382.8,421.9 L383.9,421.9 L385.1,422.0 L386.2,422.0 L387.4,422.0 L388.5,422.1 L389.7,422.1 L390.8,422.2 L392.0,422.2 L393.1,422.2 L394.3,422.2 L395.4,422.3 L396.6,422.3 L397.7,422.3 L398.9,422.4" fill="none" stroke="#00f" stroke-width="0.6" stroke-linejoin="round" stroke-dasharray="5.6 5.0" clip-path="url(#c6)"/>
<path d="M284.8,367.8 L286.0,367.7 L287.1,367.5 L288.3,367.1 L289.4,366.6 L290.6,365.9 L291.7,365.1 L292.9,364.2 L294.0,363.2 L295.2,362.0 L296.3,360.9 L297.5,359.6 L298.6,358.3 L299.8,357.0 L300.9,355.7 L302.1,354.5 L303.2,353.2 L304.4,352.0 L305.5,350.9 L306.7,349.9 L307.9,349.1 L309.0,348.3 L310.2,347.7 L311.3,347.2 L312.5,346.9 L313.6,346.8 L314.8,346.9 L315.9,347.1 L317.1,347.5 L318.2,348.2 L319.4,349.0 L320.5,349.9 L321.7,351.1 L322.8,352.5 L324.0,354.0 L325.1,355.6 L326.3,357.4 L327.4,359.3 L328.6,361.4 L329.7,363.5 L330.9,365.8 L332.1,368.0 L333.2,370.4 L334.4,372.8 L335.5,375.2 L336.7,377.7 L337.8,380.1 L339.0,382.5 L340.1,384.9 L341.3,387.2 L342.4,389.5 L343.6,391.8 L344.7,393.9 L345.9,396.0 L347.0,398.1 L348.2,400.0 L349.3,401.8 L350.5,403.6 L351.6,405.2 L352.8,406.8 L354.0,408.2 L355.1,409.6 L356.3,410.9 L357.4,412.0 L358.6,413.1 L359.7,414.1 L360.9,415.1 L362.0,415.9 L363.2,416.7 L364.3,417.4 L365.5,418.0 L366.6,418.6 L367.8,419.1 L368.9,419.6 L370.1,420.0 L371.2,420.3 L372.4,420.7 L373.5,421.0 L374.7,421.2 L375.8,421.4 L377.0,421.6 L378.2,421.8 L379.3,421.9 L380.5,422.1 L381.6,422.2 L382.8,422.3 L383.9,422.4 L385.1,422.4 L386.2,422.5 L387.4,422.5 L388.5,422.6 L389.7,422.6 L390.8,422.6 L392.0,422.7 L393.1,422.7 L394.3,422.7 L395.4,422.7 L396.6,422.7 L397.7,422.8 L398.9,422.8" fill="none" stroke="#000" stroke-width="1.15" stroke-linejoin="round" clip-path="url(#c6)"/>
<path d="M284.8,346.8 L286.0,348.6 L287.1,350.2 L288.3,351.6 L289.4,352.7 L290.6,353.7 L291.7,354.5 L292.9,355.2 L294.0,355.8 L295.2,356.3 L296.3,356.7 L297.5,357.1 L298.6,357.5 L299.8,357.9 L300.9,358.3 L302.1,358.8 L303.2,359.3 L304.4,359.9 L305.5,360.5 L306.7,361.3 L307.9,362.1 L309.0,363.0 L310.2,364.1 L311.3,365.2 L312.5,366.5 L313.6,367.8 L314.8,369.3 L315.9,370.8 L317.1,372.4 L318.2,374.1 L319.4,375.9 L320.5,377.7 L321.7,379.6 L322.8,381.5 L324.0,383.4 L325.1,385.3 L326.3,387.2 L327.4,389.2 L328.6,391.1 L329.7,393.0 L330.9,394.8 L332.1,396.6 L333.2,398.4 L334.4,400.1 L335.5,401.8 L336.7,403.4 L337.8,404.9 L339.0,406.3 L340.1,407.7 L341.3,409.0 L342.4,410.2 L343.6,411.4 L344.7,412.4 L345.9,413.4 L347.0,414.4 L348.2,415.2 L349.3,416.0 L350.5,416.7 L351.6,417.4 L352.8,418.0 L354.0,418.5 L355.1,419.0 L356.3,419.5 L357.4,419.9 L358.6,420.3 L359.7,420.6 L360.9,420.9 L362.0,421.1 L363.2,421.3 L364.3,421.5 L365.5,421.7 L366.6,421.9 L367.8,422.0 L368.9,422.1 L370.1,422.2 L371.2,422.3 L372.4,422.4 L373.5,422.5 L374.7,422.5 L375.8,422.6 L377.0,422.6 L378.2,422.6 L379.3,422.7 L380.5,422.7 L381.6,422.7 L382.8,422.7 L383.9,422.7 L385.1,422.7 L386.2,422.8 L387.4,422.8 L388.5,422.8 L389.7,422.8 L390.8,422.8 L392.0,422.8 L393.1,422.8 L394.3,422.8 L395.4,422.8 L396.6,422.8 L397.7,422.8 L398.9,422.8" fill="none" stroke="#f00" stroke-width="0.95" stroke-linejoin="round" clip-path="url(#c6)"/>
<path d="M284.8,346.8 L286.0,350.5 L287.1,353.9 L288.3,356.9 L289.4,359.6 L290.6,362.1 L291.7,364.4 L292.9,366.4 L294.0,368.3 L295.2,370.1 L296.3,371.8 L297.5,373.4 L298.6,375.0 L299.8,376.5 L300.9,377.9 L302.1,379.4 L303.2,380.8 L304.4,382.3 L305.5,383.7 L306.7,385.2 L307.9,386.6 L309.0,388.1 L310.2,389.6 L311.3,391.1 L312.5,392.6 L313.6,394.0 L314.8,395.5 L315.9,397.0 L317.1,398.4 L318.2,399.8 L319.4,401.2 L320.5,402.6 L321.7,403.9 L322.8,405.2 L324.0,406.5 L325.1,407.7 L326.3,408.8 L327.4,409.9 L328.6,411.0 L329.7,411.9 L330.9,412.9 L332.1,413.8 L333.2,414.6 L334.4,415.4 L335.5,416.1 L336.7,416.7 L337.8,417.4 L339.0,417.9 L340.1,418.4 L341.3,418.9 L342.4,419.4 L343.6,419.7 L344.7,420.1 L345.9,420.4 L347.0,420.7 L348.2,421.0 L349.3,421.2 L350.5,421.4 L351.6,421.6 L352.8,421.8 L354.0,421.9 L355.1,422.0 L356.3,422.1 L357.4,422.2 L358.6,422.3 L359.7,422.4 L360.9,422.5 L362.0,422.5 L363.2,422.6 L364.3,422.6 L365.5,422.6 L366.6,422.7 L367.8,422.7 L368.9,422.7 L370.1,422.7 L371.2,422.7 L372.4,422.7 L373.5,422.8 L374.7,422.8 L375.8,422.8 L377.0,422.8 L378.2,422.8 L379.3,422.8 L380.5,422.8 L381.6,422.8 L382.8,422.8 L383.9,422.8 L385.1,422.8 L386.2,422.8 L387.4,422.8 L388.5,422.8 L389.7,422.8 L390.8,422.8 L392.0,422.8 L393.1,422.8 L394.3,422.8 L395.4,422.8 L396.6,422.8 L397.7,422.8 L398.9,422.8" fill="none" stroke="#00f" stroke-width="0.95" stroke-linejoin="round" clip-path="url(#c6)"/>
<text transform="translate(263.80 423.40) scale(1.012 1)" font-size="10.8" fill="#000" stroke="#000" stroke-width="0.55">0.0</text>
<text transform="translate(263.80 411.80) scale(1.012 1)" font-size="10.8" fill="#000" stroke="#000" stroke-width="0.55">0.2</text>
<text transform="translate(263.80 396.60) scale(1.012 1)" font-size="10.8" fill="#000" stroke="#000" stroke-width="0.55">0.4</text>
<text transform="translate(263.80 381.40) scale(1.012 1)" font-size="10.8" fill="#000" stroke="#000" stroke-width="0.55">0.6</text>
<text transform="translate(263.80 366.20) scale(1.012 1)" font-size="10.8" fill="#000" stroke="#000" stroke-width="0.55">0.8</text>
<text transform="translate(263.80 351.00) scale(1.012 1)" font-size="10.8" fill="#000" stroke="#000" stroke-width="0.55">1.0</text>
<text transform="translate(263.80 338.90) scale(1.012 1)" font-size="10.8" fill="#000" stroke="#000" stroke-width="0.55">1.2</text>
<text transform="translate(281.90 438.60) scale(1.000 1)" font-size="10.8" fill="#000" stroke="#000" stroke-width="0.55">0</text>
<text transform="translate(304.14 438.60) scale(1.000 1)" font-size="10.8" fill="#000" stroke="#000" stroke-width="0.55">1</text>
<text transform="translate(326.38 438.60) scale(1.000 1)" font-size="10.8" fill="#000" stroke="#000" stroke-width="0.55">2</text>
<text transform="translate(348.62 438.60) scale(1.000 1)" font-size="10.8" fill="#000" stroke="#000" stroke-width="0.55">3</text>
<text transform="translate(370.86 438.60) scale(1.000 1)" font-size="10.8" fill="#000" stroke="#000" stroke-width="0.55">4</text>
<text transform="translate(393.10 438.60) scale(1.000 1)" font-size="10.8" fill="#000" stroke="#000" stroke-width="0.55">5</text>
<text transform="translate(296.80 450.20) scale(0.913 1)" font-size="10.8" fill="#000" stroke="#000" stroke-width="0.55">True</text>
<text transform="translate(323.10 450.20) scale(0.980 1)" font-size="10.8" fill="#000" stroke="#000" stroke-width="0.55">slope</text>
<text transform="translate(354.70 450.20) scale(1.160 1)" font-size="10.8" fill="#000" stroke="#000" stroke-width="0.55" letter-spacing="0.011">[%/h]</text>
<text transform="translate(254.50 410.10) rotate(-90) translate(0.00 0) scale(0.980 1)" font-size="10.8" fill="#000" stroke="#000" stroke-width="0.55">Prob.</text>
<text transform="translate(254.50 379.40) rotate(-90) translate(0.00 0) scale(1.005 1)" font-size="10.8" fill="#000" stroke="#000" stroke-width="0.55">density</text>
<clipPath id="c7"><rect x="465.20" y="331.10" width="183.50" height="92.20"/></clipPath>
<rect x="465.70" y="331.60" width="182.50" height="91.20" fill="none" stroke="#000" stroke-width="1.55"/>
<path d="M465.70,422.80v-1.90M465.70,331.60v1.90M469.76,422.80v-0.95M469.76,331.60v0.95M473.81,422.80v-0.95M473.81,331.60v0.95M477.87,422.80v-0.95M477.87,331.60v0.95M481.92,422.80v-0.95M481.92,331.60v0.95M485.98,422.80v-0.95M485.98,331.60v0.95M490.03,422.80v-0.95M490.03,331.60v0.95M494.09,422.80v-0.95M494.09,331.60v0.95M498.14,422.80v-0.95M498.14,331.60v0.95M502.20,422.80v-0.95M502.20,331.60v0.95M506.26,422.80v-1.90M506.26,331.60v1.90M510.31,422.80v-0.95M510.31,331.60v0.95M514.37,422.80v-0.95M514.37,331.60v0.95M518.42,422.80v-0.95M518.42,331.60v0.95M522.48,422.80v-0.95M522.48,331.60v0.95M526.53,422.80v-0.95M526.53,331.60v0.95M530.59,422.80v-0.95M530.59,331.60v0.95M534.64,422.80v-0.95M534.64,331.60v0.95M538.70,422.80v-0.95M538.70,331.60v0.95M542.76,422.80v-0.95M542.76,331.60v0.95M546.81,422.80v-1.90M546.81,331.60v1.90M550.87,422.80v-0.95M550.87,331.60v0.95M554.92,422.80v-0.95M554.92,331.60v0.95M558.98,422.80v-0.95M558.98,331.60v0.95M563.03,422.80v-0.95M563.03,331.60v0.95M567.09,422.80v-0.95M567.09,331.60v0.95M571.14,422.80v-0.95M571.14,331.60v0.95M575.20,422.80v-0.95M575.20,331.60v0.95M579.26,422.80v-0.95M579.26,331.60v0.95M583.31,422.80v-0.95M583.31,331.60v0.95M587.37,422.80v-1.90M587.37,331.60v1.90M591.42,422.80v-0.95M591.42,331.60v0.95M595.48,422.80v-0.95M595.48,331.60v0.95M599.53,422.80v-0.95M599.53,331.60v0.95M603.59,422.80v-0.95M603.59,331.60v0.95M607.64,422.80v-0.95M607.64,331.60v0.95M611.70,422.80v-0.95M611.70,331.60v0.95M615.76,422.80v-0.95M615.76,331.60v0.95M619.81,422.80v-0.95M619.81,331.60v0.95M623.87,422.80v-0.95M623.87,331.60v0.95M627.92,422.80v-1.90M627.92,331.60v1.90M631.98,422.80v-0.95M631.98,331.60v0.95M636.03,422.80v-0.95M636.03,331.60v0.95M640.09,422.80v-0.95M640.09,331.60v0.95M644.14,422.80v-0.95M644.14,331.60v0.95M648.20,422.80v-0.95M648.20,331.60v0.95" stroke="#000" stroke-width="1.2" fill="none"/>
<path d="M465.70,422.80h3.70M648.20,422.80h-3.70M465.70,411.40h1.85M648.20,411.40h-1.85M465.70,400.00h3.70M648.20,400.00h-3.70M465.70,388.60h1.85M648.20,388.60h-1.85M465.70,377.20h3.70M648.20,377.20h-3.70M465.70,365.80h1.85M648.20,365.80h-1.85M465.70,354.40h3.70M648.20,354.40h-3.70M465.70,343.00h1.85M648.20,343.00h-1.85M465.70,331.60h3.70M648.20,331.60h-3.70" stroke="#000" stroke-width="1.4" fill="none"/>
<line x1="465.70" y1="377.32" x2="648.20" y2="377.32" stroke="#00f" stroke-width="1.2"/>
<path d="M489.05,357.62V389.55M485.05,357.62h8M485.05,389.55h8M505.13,348.56V380.49M501.13,348.56h8M501.13,380.49h8M521.66,367.13V398.84M517.66,367.13h8M517.66,398.84h8M538.20,389.55V421.26M534.20,389.55h8M534.20,421.26h8M554.51,356.94V388.65M550.51,356.94h8M550.51,388.65h8M570.81,378.45V410.16M566.81,378.45h8M566.81,410.16h8M587.35,341.31V373.02M583.35,341.31h8M583.35,373.02h8M603.66,346.97V383.44M599.66,346.97h8M599.66,383.44h8" stroke="#000" stroke-width="1.35" fill="none" clip-path="url(#c7)"/>
<circle cx="489.05" cy="373.47" r="2.45" fill="#000"/>
<circle cx="505.13" cy="364.64" r="2.45" fill="#000"/>
<circle cx="521.66" cy="382.98" r="2.45" fill="#000"/>
<circle cx="538.20" cy="405.18" r="2.45" fill="#000"/>
<circle cx="554.51" cy="372.79" r="2.45" fill="#000"/>
<circle cx="570.81" cy="394.31" r="2.45" fill="#000"/>
<circle cx="587.35" cy="357.16" r="2.45" fill="#000"/>
<circle cx="603.66" cy="365.32" r="2.45" fill="#000"/>
<line x1="489.05" y1="380.49" x2="603.66" y2="373.92" stroke="#f00" stroke-width="1.2"/>
<text transform="translate(434.20 423.40) scale(1.021 1)" font-size="10.8" fill="#000" stroke="#000" stroke-width="0.55">0.990</text>
<text transform="translate(434.20 404.20) scale(1.021 1)" font-size="10.8" fill="#000" stroke="#000" stroke-width="0.55">0.995</text>
<text transform="translate(434.20 381.40) scale(1.021 1)" font-size="10.8" fill="#000" stroke="#000" stroke-width="0.55">1.000</text>
<text transform="translate(434.20 358.60) scale(1.021 1)" font-size="10.8" fill="#000" stroke="#000" stroke-width="0.55">1.005</text>
<text transform="translate(434.20 338.90) scale(1.021 1)" font-size="10.8" fill="#000" stroke="#000" stroke-width="0.55">1.010</text>
<text transform="translate(462.10 438.60) scale(1.000 1)" font-size="10.8" fill="#000" stroke="#000" stroke-width="0.55">0</text>
<text transform="translate(499.80 438.60) scale(0.991 1)" font-size="10.8" fill="#000" stroke="#000" stroke-width="0.55">10</text>
<text transform="translate(540.45 438.60) scale(0.991 1)" font-size="10.8" fill="#000" stroke="#000" stroke-width="0.55">20</text>
<text transform="translate(581.10 438.60) scale(0.991 1)" font-size="10.8" fill="#000" stroke="#000" stroke-width="0.55">30</text>
<text transform="translate(621.75 438.60) scale(0.991 1)" font-size="10.8" fill="#000" stroke="#000" stroke-width="0.55">40</text>
<text transform="translate(538.45 451.00) scale(1.000 1)" font-size="10.8" fill="#000" stroke="#000" stroke-width="0.55">t</text>
<text transform="translate(547.45 451.00) scale(1.158 1)" font-size="10.8" fill="#000" stroke="#000" stroke-width="0.55">[min]</text>
<text transform="translate(424.30 403.40) rotate(-90) translate(0.00 0) scale(0.993 1)" font-size="10.8" fill="#000" stroke="#000" stroke-width="0.55">Norm.</text>
<text transform="translate(424.30 368.00) rotate(-90) translate(0.00 0) scale(1.012 1)" font-size="10.8" fill="#000" stroke="#000" stroke-width="0.55">flux</text>
<text transform="translate(472.70 345.70) scale(1.160 1)" font-size="10.8" fill="#000" stroke="#000" stroke-width="0.55" letter-spacing="0.276">λ=</text>
<text transform="translate(488.60 345.70) scale(0.947 1)" font-size="10.8" fill="#000" stroke="#000" stroke-width="0.55">1.35</text>
<line x1="510.30" y1="342.40" x2="518.10" y2="342.40" stroke="#000" stroke-width="1.25"/>
<text transform="translate(520.40 345.70) scale(0.990 1)" font-size="10.8" fill="#000" stroke="#000" stroke-width="0.55">1.44</text>
<text transform="translate(546.50 345.70) scale(1.071 1)" font-size="10.8" fill="#000" stroke="#000" stroke-width="0.55">μm</text>
<clipPath id="c8"><rect x="697.80" y="331.10" width="117.00" height="92.20"/></clipPath>
<rect x="698.30" y="331.60" width="116.00" height="91.20" fill="none" stroke="#000" stroke-width="1.55"/>
<path d="M700.20,422.80v-1.90M700.20,331.60v1.90M705.76,422.80v-0.95M705.76,331.60v0.95M711.32,422.80v-0.95M711.32,331.60v0.95M716.88,422.80v-0.95M716.88,331.60v0.95M722.44,422.80v-0.95M722.44,331.60v0.95M728.00,422.80v-1.90M728.00,331.60v1.90M733.56,422.80v-0.95M733.56,331.60v0.95M739.12,422.80v-0.95M739.12,331.60v0.95M744.68,422.80v-0.95M744.68,331.60v0.95M750.24,422.80v-0.95M750.24,331.60v0.95M755.80,422.80v-1.90M755.80,331.60v1.90M761.36,422.80v-0.95M761.36,331.60v0.95M766.92,422.80v-0.95M766.92,331.60v0.95M772.48,422.80v-0.95M772.48,331.60v0.95M778.04,422.80v-0.95M778.04,331.60v0.95M783.60,422.80v-1.90M783.60,331.60v1.90M789.16,422.80v-0.95M789.16,331.60v0.95M794.72,422.80v-0.95M794.72,331.60v0.95M800.28,422.80v-0.95M800.28,331.60v0.95M805.84,422.80v-0.95M805.84,331.60v0.95M811.40,422.80v-1.90M811.40,331.60v1.90" stroke="#000" stroke-width="1.2" fill="none"/>
<path d="M698.30,422.80h2.40M814.30,422.80h-2.40M698.30,421.28h1.20M814.30,421.28h-1.20M698.30,419.76h1.20M814.30,419.76h-1.20M698.30,418.24h1.20M814.30,418.24h-1.20M698.30,416.72h1.20M814.30,416.72h-1.20M698.30,415.20h1.20M814.30,415.20h-1.20M698.30,413.68h1.20M814.30,413.68h-1.20M698.30,412.16h1.20M814.30,412.16h-1.20M698.30,410.64h1.20M814.30,410.64h-1.20M698.30,409.12h1.20M814.30,409.12h-1.20M698.30,407.60h2.40M814.30,407.60h-2.40M698.30,406.08h1.20M814.30,406.08h-1.20M698.30,404.56h1.20M814.30,404.56h-1.20M698.30,403.04h1.20M814.30,403.04h-1.20M698.30,401.52h1.20M814.30,401.52h-1.20M698.30,400.00h1.20M814.30,400.00h-1.20M698.30,398.48h1.20M814.30,398.48h-1.20M698.30,396.96h1.20M814.30,396.96h-1.20M698.30,395.44h1.20M814.30,395.44h-1.20M698.30,393.92h1.20M814.30,393.92h-1.20M698.30,392.40h2.40M814.30,392.40h-2.40M698.30,390.88h1.20M814.30,390.88h-1.20M698.30,389.36h1.20M814.30,389.36h-1.20M698.30,387.84h1.20M814.30,387.84h-1.20M698.30,386.32h1.20M814.30,386.32h-1.20M698.30,384.80h1.20M814.30,384.80h-1.20M698.30,383.28h1.20M814.30,383.28h-1.20M698.30,381.76h1.20M814.30,381.76h-1.20M698.30,380.24h1.20M814.30,380.24h-1.20M698.30,378.72h1.20M814.30,378.72h-1.20M698.30,377.20h2.40M814.30,377.20h-2.40M698.30,375.68h1.20M814.30,375.68h-1.20M698.30,374.16h1.20M814.30,374.16h-1.20M698.30,372.64h1.20M814.30,372.64h-1.20M698.30,371.12h1.20M814.30,371.12h-1.20M698.30,369.60h1.20M814.30,369.60h-1.20M698.30,368.08h1.20M814.30,368.08h-1.20M698.30,366.56h1.20M814.30,366.56h-1.20M698.30,365.04h1.20M814.30,365.04h-1.20M698.30,363.52h1.20M814.30,363.52h-1.20M698.30,362.00h2.40M814.30,362.00h-2.40M698.30,360.48h1.20M814.30,360.48h-1.20M698.30,358.96h1.20M814.30,358.96h-1.20M698.30,357.44h1.20M814.30,357.44h-1.20M698.30,355.92h1.20M814.30,355.92h-1.20M698.30,354.40h1.20M814.30,354.40h-1.20M698.30,352.88h1.20M814.30,352.88h-1.20M698.30,351.36h1.20M814.30,351.36h-1.20M698.30,349.84h1.20M814.30,349.84h-1.20M698.30,348.32h1.20M814.30,348.32h-1.20M698.30,346.80h2.40M814.30,346.80h-2.40M698.30,345.28h1.20M814.30,345.28h-1.20M698.30,343.76h1.20M814.30,343.76h-1.20M698.30,342.24h1.20M814.30,342.24h-1.20M698.30,340.72h1.20M814.30,340.72h-1.20M698.30,339.20h1.20M814.30,339.20h-1.20M698.30,337.68h1.20M814.30,337.68h-1.20M698.30,336.16h1.20M814.30,336.16h-1.20M698.30,334.64h1.20M814.30,334.64h-1.20M698.30,333.12h1.20M814.30,333.12h-1.20M698.30,331.60h2.40M814.30,331.60h-2.40" stroke="#000" stroke-width="1.1" fill="none"/>
<path d="M700.2,346.8 L701.4,348.4 L702.5,349.9 L703.7,351.4 L704.8,352.8 L706.0,354.3 L707.1,355.7 L708.3,357.1 L709.4,358.4 L710.6,359.7 L711.7,361.0 L712.9,362.3 L714.0,363.5 L715.2,364.8 L716.3,365.9 L717.5,367.1 L718.6,368.3 L719.8,369.4 L720.9,370.5 L722.1,371.5 L723.3,372.6 L724.4,373.6 L725.6,374.6 L726.7,375.6 L727.9,376.6 L729.0,377.5 L730.2,378.5 L731.3,379.4 L732.5,380.3 L733.6,381.1 L734.8,382.0 L735.9,382.8 L737.1,383.6 L738.2,384.5 L739.4,385.2 L740.5,386.0 L741.7,386.8 L742.8,387.5 L744.0,388.2 L745.1,388.9 L746.3,389.6 L747.5,390.3 L748.6,391.0 L749.8,391.6 L750.9,392.3 L752.1,392.9 L753.2,393.5 L754.4,394.1 L755.5,394.7 L756.7,395.3 L757.8,395.8 L759.0,396.4 L760.1,396.9 L761.3,397.5 L762.4,398.0 L763.6,398.5 L764.7,399.0 L765.9,399.5 L767.0,400.0 L768.2,400.4 L769.4,400.9 L770.5,401.3 L771.7,401.8 L772.8,402.2 L774.0,402.6 L775.1,403.0 L776.3,403.5 L777.4,403.8 L778.6,404.2 L779.7,404.6 L780.9,405.0 L782.0,405.4 L783.2,405.7 L784.3,406.1 L785.5,406.4 L786.6,406.7 L787.8,407.1 L788.9,407.4 L790.1,407.7 L791.2,408.0 L792.4,408.3 L793.6,408.6 L794.7,408.9 L795.9,409.2 L797.0,409.5 L798.2,409.8 L799.3,410.0 L800.5,410.3 L801.6,410.5 L802.8,410.8 L803.9,411.0 L805.1,411.3 L806.2,411.5 L807.4,411.7 L808.5,412.0 L809.7,412.2 L810.8,412.4 L812.0,412.6 L813.1,412.8 L814.3,413.0" fill="none" stroke="#f00" stroke-width="0.6" stroke-linejoin="round" stroke-dasharray="5.6 5.0" clip-path="url(#c8)"/>
<path d="M700.2,346.8 L701.4,349.9 L702.5,352.8 L703.7,355.7 L704.8,358.4 L706.0,361.0 L707.1,363.5 L708.3,365.9 L709.4,368.3 L710.6,370.5 L711.7,372.6 L712.9,374.6 L714.0,376.6 L715.2,378.5 L716.3,380.3 L717.5,382.0 L718.6,383.6 L719.8,385.2 L720.9,386.8 L722.1,388.2 L723.3,389.6 L724.4,391.0 L725.6,392.3 L726.7,393.5 L727.9,394.7 L729.0,395.8 L730.2,396.9 L731.3,398.0 L732.5,399.0 L733.6,400.0 L734.8,400.9 L735.9,401.8 L737.1,402.6 L738.2,403.5 L739.4,404.2 L740.5,405.0 L741.7,405.7 L742.8,406.4 L744.0,407.1 L745.1,407.7 L746.3,408.3 L747.5,408.9 L748.6,409.5 L749.8,410.0 L750.9,410.5 L752.1,411.0 L753.2,411.5 L754.4,412.0 L755.5,412.4 L756.7,412.8 L757.8,413.2 L759.0,413.6 L760.1,414.0 L761.3,414.4 L762.4,414.7 L763.6,415.0 L764.7,415.3 L765.9,415.6 L767.0,415.9 L768.2,416.2 L769.4,416.5 L770.5,416.7 L771.7,417.0 L772.8,417.2 L774.0,417.4 L775.1,417.7 L776.3,417.9 L777.4,418.1 L778.6,418.3 L779.7,418.5 L780.9,418.6 L782.0,418.8 L783.2,419.0 L784.3,419.1 L785.5,419.3 L786.6,419.4 L787.8,419.5 L788.9,419.7 L790.1,419.8 L791.2,419.9 L792.4,420.0 L793.6,420.2 L794.7,420.3 L795.9,420.4 L797.0,420.5 L798.2,420.6 L799.3,420.7 L800.5,420.7 L801.6,420.8 L802.8,420.9 L803.9,421.0 L805.1,421.1 L806.2,421.1 L807.4,421.2 L808.5,421.3 L809.7,421.3 L810.8,421.4 L812.0,421.4 L813.1,421.5 L814.3,421.5" fill="none" stroke="#00f" stroke-width="0.6" stroke-linejoin="round" stroke-dasharray="5.6 5.0" clip-path="url(#c8)"/>
<path d="M700.2,346.8 L701.4,346.8 L702.5,347.0 L703.7,347.2 L704.8,347.5 L706.0,347.9 L707.1,348.3 L708.3,348.9 L709.4,349.5 L710.6,350.2 L711.7,351.0 L712.9,351.8 L714.0,352.8 L715.2,353.8 L716.3,354.8 L717.5,355.9 L718.6,357.1 L719.8,358.3 L720.9,359.6 L722.1,361.0 L723.3,362.3 L724.4,363.7 L725.6,365.2 L726.7,366.7 L727.9,368.2 L729.0,369.7 L730.2,371.3 L731.3,372.8 L732.5,374.4 L733.6,376.0 L734.8,377.6 L735.9,379.2 L737.1,380.8 L738.2,382.4 L739.4,383.9 L740.5,385.5 L741.7,387.0 L742.8,388.5 L744.0,390.0 L745.1,391.5 L746.3,393.0 L747.5,394.4 L748.6,395.8 L749.8,397.1 L750.9,398.4 L752.1,399.7 L753.2,401.0 L754.4,402.2 L755.5,403.3 L756.7,404.4 L757.8,405.5 L759.0,406.6 L760.1,407.6 L761.3,408.5 L762.4,409.4 L763.6,410.3 L764.7,411.1 L765.9,411.9 L767.0,412.7 L768.2,413.4 L769.4,414.1 L770.5,414.7 L771.7,415.3 L772.8,415.9 L774.0,416.4 L775.1,416.9 L776.3,417.4 L777.4,417.8 L778.6,418.2 L779.7,418.6 L780.9,419.0 L782.0,419.3 L783.2,419.6 L784.3,419.9 L785.5,420.1 L786.6,420.4 L787.8,420.6 L788.9,420.8 L790.1,421.0 L791.2,421.2 L792.4,421.3 L793.6,421.5 L794.7,421.6 L795.9,421.7 L797.0,421.8 L798.2,421.9 L799.3,422.0 L800.5,422.1 L801.6,422.2 L802.8,422.3 L803.9,422.3 L805.1,422.4 L806.2,422.4 L807.4,422.5 L808.5,422.5 L809.7,422.5 L810.8,422.6 L812.0,422.6 L813.1,422.6 L814.3,422.6" fill="none" stroke="#000" stroke-width="1.15" stroke-linejoin="round" clip-path="url(#c8)"/>
<path d="M700.2,346.8 L701.4,348.4 L702.5,350.1 L703.7,351.7 L704.8,353.5 L706.0,355.2 L707.1,357.0 L708.3,358.9 L709.4,360.7 L710.6,362.6 L711.7,364.4 L712.9,366.3 L714.0,368.2 L715.2,370.1 L716.3,371.9 L717.5,373.8 L718.6,375.7 L719.8,377.5 L720.9,379.3 L722.1,381.1 L723.3,382.9 L724.4,384.6 L725.6,386.3 L726.7,388.0 L727.9,389.6 L729.0,391.2 L730.2,392.7 L731.3,394.2 L732.5,395.7 L733.6,397.1 L734.8,398.5 L735.9,399.9 L737.1,401.1 L738.2,402.4 L739.4,403.6 L740.5,404.7 L741.7,405.8 L742.8,406.9 L744.0,407.9 L745.1,408.9 L746.3,409.8 L747.5,410.7 L748.6,411.5 L749.8,412.3 L750.9,413.0 L752.1,413.7 L753.2,414.4 L754.4,415.0 L755.5,415.6 L756.7,416.2 L757.8,416.7 L759.0,417.2 L760.1,417.6 L761.3,418.0 L762.4,418.4 L763.6,418.8 L764.7,419.1 L765.9,419.5 L767.0,419.8 L768.2,420.0 L769.4,420.3 L770.5,420.5 L771.7,420.7 L772.8,420.9 L774.0,421.1 L775.1,421.3 L776.3,421.4 L777.4,421.6 L778.6,421.7 L779.7,421.8 L780.9,421.9 L782.0,422.0 L783.2,422.1 L784.3,422.2 L785.5,422.2 L786.6,422.3 L787.8,422.3 L788.9,422.4 L790.1,422.4 L791.2,422.5 L792.4,422.5 L793.6,422.6 L794.7,422.6 L795.9,422.6 L797.0,422.6 L798.2,422.7 L799.3,422.7 L800.5,422.7 L801.6,422.7 L802.8,422.7 L803.9,422.7 L805.1,422.7 L806.2,422.7 L807.4,422.8 L808.5,422.8 L809.7,422.8 L810.8,422.8 L812.0,422.8 L813.1,422.8 L814.3,422.8" fill="none" stroke="#f00" stroke-width="0.95" stroke-linejoin="round" clip-path="url(#c8)"/>
<path d="M700.2,346.8 L701.4,349.9 L702.5,353.0 L703.7,356.0 L704.8,359.0 L706.0,361.9 L707.1,364.7 L708.3,367.5 L709.4,370.2 L710.6,372.8 L711.7,375.4 L712.9,377.8 L714.0,380.2 L715.2,382.5 L716.3,384.8 L717.5,386.9 L718.6,389.0 L719.8,390.9 L720.9,392.8 L722.1,394.7 L723.3,396.4 L724.4,398.1 L725.6,399.7 L726.7,401.2 L727.9,402.6 L729.0,404.0 L730.2,405.3 L731.3,406.5 L732.5,407.6 L733.6,408.7 L734.8,409.8 L735.9,410.7 L737.1,411.6 L738.2,412.5 L739.4,413.3 L740.5,414.1 L741.7,414.8 L742.8,415.4 L744.0,416.0 L745.1,416.6 L746.3,417.1 L747.5,417.6 L748.6,418.1 L749.8,418.5 L750.9,418.9 L752.1,419.2 L753.2,419.6 L754.4,419.9 L755.5,420.1 L756.7,420.4 L757.8,420.6 L759.0,420.8 L760.1,421.0 L761.3,421.2 L762.4,421.4 L763.6,421.5 L764.7,421.7 L765.9,421.8 L767.0,421.9 L768.2,422.0 L769.4,422.1 L770.5,422.2 L771.7,422.2 L772.8,422.3 L774.0,422.3 L775.1,422.4 L776.3,422.4 L777.4,422.5 L778.6,422.5 L779.7,422.6 L780.9,422.6 L782.0,422.6 L783.2,422.6 L784.3,422.7 L785.5,422.7 L786.6,422.7 L787.8,422.7 L788.9,422.7 L790.1,422.7 L791.2,422.7 L792.4,422.7 L793.6,422.8 L794.7,422.8 L795.9,422.8 L797.0,422.8 L798.2,422.8 L799.3,422.8 L800.5,422.8 L801.6,422.8 L802.8,422.8 L803.9,422.8 L805.1,422.8 L806.2,422.8 L807.4,422.8 L808.5,422.8 L809.7,422.8 L810.8,422.8 L812.0,422.8 L813.1,422.8 L814.3,422.8" fill="none" stroke="#00f" stroke-width="0.95" stroke-linejoin="round" clip-path="url(#c8)"/>
<text transform="translate(679.20 423.40) scale(1.012 1)" font-size="10.8" fill="#000" stroke="#000" stroke-width="0.55">0.0</text>
<text transform="translate(679.20 411.80) scale(1.012 1)" font-size="10.8" fill="#000" stroke="#000" stroke-width="0.55">0.2</text>
<text transform="translate(679.20 396.60) scale(1.012 1)" font-size="10.8" fill="#000" stroke="#000" stroke-width="0.55">0.4</text>
<text transform="translate(679.20 381.40) scale(1.012 1)" font-size="10.8" fill="#000" stroke="#000" stroke-width="0.55">0.6</text>
<text transform="translate(679.20 366.20) scale(1.012 1)" font-size="10.8" fill="#000" stroke="#000" stroke-width="0.55">0.8</text>
<text transform="translate(679.20 351.00) scale(1.012 1)" font-size="10.8" fill="#000" stroke="#000" stroke-width="0.55">1.0</text>
<text transform="translate(679.20 338.90) scale(1.012 1)" font-size="10.8" fill="#000" stroke="#000" stroke-width="0.55">1.2</text>
<text transform="translate(697.30 438.60) scale(1.000 1)" font-size="10.8" fill="#000" stroke="#000" stroke-width="0.55">0</text>
<text transform="translate(725.10 438.60) scale(1.000 1)" font-size="10.8" fill="#000" stroke="#000" stroke-width="0.55">1</text>
<text transform="translate(752.90 438.60) scale(1.000 1)" font-size="10.8" fill="#000" stroke="#000" stroke-width="0.55">2</text>
<text transform="translate(780.70 438.60) scale(1.000 1)" font-size="10.8" fill="#000" stroke="#000" stroke-width="0.55">3</text>
<text transform="translate(808.50 438.60) scale(1.000 1)" font-size="10.8" fill="#000" stroke="#000" stroke-width="0.55">4</text>
<text transform="translate(712.20 450.20) scale(0.913 1)" font-size="10.8" fill="#000" stroke="#000" stroke-width="0.55">True</text>
<text transform="translate(738.50 450.20) scale(0.980 1)" font-size="10.8" fill="#000" stroke="#000" stroke-width="0.55">slope</text>
<text transform="translate(770.10 450.20) scale(1.160 1)" font-size="10.8" fill="#000" stroke="#000" stroke-width="0.55" letter-spacing="0.011">[%/h]</text>
<text transform="translate(669.90 410.10) rotate(-90) translate(0.00 0) scale(0.980 1)" font-size="10.8" fill="#000" stroke="#000" stroke-width="0.55">Prob.</text>
<text transform="translate(669.90 379.40) rotate(-90) translate(0.00 0) scale(1.005 1)" font-size="10.8" fill="#000" stroke="#000" stroke-width="0.55">density</text>
<clipPath id="c9"><rect x="49.80" y="455.70" width="183.50" height="92.20"/></clipPath>
<rect x="50.30" y="456.20" width="182.50" height="91.20" fill="none" stroke="#000" stroke-width="1.55"/>
<path d="M50.30,547.40v-1.90M50.30,456.20v1.90M54.36,547.40v-0.95M54.36,456.20v0.95M58.41,547.40v-0.95M58.41,456.20v0.95M62.47,547.40v-0.95M62.47,456.20v0.95M66.52,547.40v-0.95M66.52,456.20v0.95M70.58,547.40v-0.95M70.58,456.20v0.95M74.63,547.40v-0.95M74.63,456.20v0.95M78.69,547.40v-0.95M78.69,456.20v0.95M82.74,547.40v-0.95M82.74,456.20v0.95M86.80,547.40v-0.95M86.80,456.20v0.95M90.86,547.40v-1.90M90.86,456.20v1.90M94.91,547.40v-0.95M94.91,456.20v0.95M98.97,547.40v-0.95M98.97,456.20v0.95M103.02,547.40v-0.95M103.02,456.20v0.95M107.08,547.40v-0.95M107.08,456.20v0.95M111.13,547.40v-0.95M111.13,456.20v0.95M115.19,547.40v-0.95M115.19,456.20v0.95M119.24,547.40v-0.95M119.24,456.20v0.95M123.30,547.40v-0.95M123.30,456.20v0.95M127.36,547.40v-0.95M127.36,456.20v0.95M131.41,547.40v-1.90M131.41,456.20v1.90M135.47,547.40v-0.95M135.47,456.20v0.95M139.52,547.40v-0.95M139.52,456.20v0.95M143.58,547.40v-0.95M143.58,456.20v0.95M147.63,547.40v-0.95M147.63,456.20v0.95M151.69,547.40v-0.95M151.69,456.20v0.95M155.74,547.40v-0.95M155.74,456.20v0.95M159.80,547.40v-0.95M159.80,456.20v0.95M163.86,547.40v-0.95M163.86,456.20v0.95M167.91,547.40v-0.95M167.91,456.20v0.95M171.97,547.40v-1.90M171.97,456.20v1.90M176.02,547.40v-0.95M176.02,456.20v0.95M180.08,547.40v-0.95M180.08,456.20v0.95M184.13,547.40v-0.95M184.13,456.20v0.95M188.19,547.40v-0.95M188.19,456.20v0.95M192.24,547.40v-0.95M192.24,456.20v0.95M196.30,547.40v-0.95M196.30,456.20v0.95M200.36,547.40v-0.95M200.36,456.20v0.95M204.41,547.40v-0.95M204.41,456.20v0.95M208.47,547.40v-0.95M208.47,456.20v0.95M212.52,547.40v-1.90M212.52,456.20v1.90M216.58,547.40v-0.95M216.58,456.20v0.95M220.63,547.40v-0.95M220.63,456.20v0.95M224.69,547.40v-0.95M224.69,456.20v0.95M228.74,547.40v-0.95M228.74,456.20v0.95M232.80,547.40v-0.95M232.80,456.20v0.95" stroke="#000" stroke-width="1.2" fill="none"/>
<path d="M50.30,547.40h3.70M232.80,547.40h-3.70M50.30,536.00h1.85M232.80,536.00h-1.85M50.30,524.60h3.70M232.80,524.60h-3.70M50.30,513.20h1.85M232.80,513.20h-1.85M50.30,501.80h3.70M232.80,501.80h-3.70M50.30,490.40h1.85M232.80,490.40h-1.85M50.30,479.00h3.70M232.80,479.00h-3.70M50.30,467.60h1.85M232.80,467.60h-1.85M50.30,456.20h3.70M232.80,456.20h-3.70" stroke="#000" stroke-width="1.4" fill="none"/>
<line x1="50.30" y1="501.87" x2="232.80" y2="501.87" stroke="#00f" stroke-width="1.2"/>
<path d="M73.82,486.01V507.30M69.82,486.01h8M69.82,507.30h8M90.13,495.53V516.59M86.13,495.53h8M86.13,516.59h8M106.66,504.36V525.20M102.66,504.36h8M102.66,525.20h8M122.97,484.65V505.72M118.97,484.65h8M118.97,505.72h8M139.28,502.32V523.16M135.28,502.32h8M135.28,523.16h8M155.81,479.67V500.96M151.81,479.67h8M151.81,500.96h8M172.12,480.35V501.19M168.12,480.35h8M168.12,501.19h8M188.66,492.13V520.22M184.66,492.13h8M184.66,520.22h8" stroke="#000" stroke-width="1.35" fill="none" clip-path="url(#c9)"/>
<circle cx="73.82" cy="496.66" r="2.45" fill="#000"/>
<circle cx="90.13" cy="505.95" r="2.45" fill="#000"/>
<circle cx="106.66" cy="514.78" r="2.45" fill="#000"/>
<circle cx="122.97" cy="495.07" r="2.45" fill="#000"/>
<circle cx="139.28" cy="512.74" r="2.45" fill="#000"/>
<circle cx="155.81" cy="490.32" r="2.45" fill="#000"/>
<circle cx="172.12" cy="490.77" r="2.45" fill="#000"/>
<circle cx="188.66" cy="505.95" r="2.45" fill="#000"/>
<line x1="74.05" y1="505.27" x2="188.66" y2="497.11" stroke="#f00" stroke-width="1.2"/>
<text transform="translate(18.80 548.00) scale(1.021 1)" font-size="10.8" fill="#000" stroke="#000" stroke-width="0.55">0.990</text>
<text transform="translate(18.80 528.80) scale(1.021 1)" font-size="10.8" fill="#000" stroke="#000" stroke-width="0.55">0.995</text>
<text transform="translate(18.80 506.00) scale(1.021 1)" font-size="10.8" fill="#000" stroke="#000" stroke-width="0.55">1.000</text>
<text transform="translate(18.80 483.20) scale(1.021 1)" font-size="10.8" fill="#000" stroke="#000" stroke-width="0.55">1.005</text>
<text transform="translate(18.80 463.50) scale(1.021 1)" font-size="10.8" fill="#000" stroke="#000" stroke-width="0.55">1.010</text>
<text transform="translate(46.70 563.20) scale(1.000 1)" font-size="10.8" fill="#000" stroke="#000" stroke-width="0.55">0</text>
<text transform="translate(84.40 563.20) scale(0.991 1)" font-size="10.8" fill="#000" stroke="#000" stroke-width="0.55">10</text>
<text transform="translate(125.05 563.20) scale(0.991 1)" font-size="10.8" fill="#000" stroke="#000" stroke-width="0.55">20</text>
<text transform="translate(165.70 563.20) scale(0.991 1)" font-size="10.8" fill="#000" stroke="#000" stroke-width="0.55">30</text>
<text transform="translate(206.35 563.20) scale(0.991 1)" font-size="10.8" fill="#000" stroke="#000" stroke-width="0.55">40</text>
<text transform="translate(123.05 575.60) scale(1.000 1)" font-size="10.8" fill="#000" stroke="#000" stroke-width="0.55">t</text>
<text transform="translate(132.05 575.60) scale(1.158 1)" font-size="10.8" fill="#000" stroke="#000" stroke-width="0.55">[min]</text>
<text transform="translate(8.90 528.00) rotate(-90) translate(0.00 0) scale(0.993 1)" font-size="10.8" fill="#000" stroke="#000" stroke-width="0.55">Norm.</text>
<text transform="translate(8.90 492.60) rotate(-90) translate(0.00 0) scale(1.012 1)" font-size="10.8" fill="#000" stroke="#000" stroke-width="0.55">flux</text>
<text transform="translate(57.30 470.30) scale(1.160 1)" font-size="10.8" fill="#000" stroke="#000" stroke-width="0.55" letter-spacing="0.276">λ=</text>
<text transform="translate(73.20 470.30) scale(0.947 1)" font-size="10.8" fill="#000" stroke="#000" stroke-width="0.55">1.55</text>
<line x1="94.90" y1="467.00" x2="102.70" y2="467.00" stroke="#000" stroke-width="1.25"/>
<text transform="translate(105.00 470.30) scale(0.990 1)" font-size="10.8" fill="#000" stroke="#000" stroke-width="0.55">1.61</text>
<text transform="translate(131.10 470.30) scale(1.071 1)" font-size="10.8" fill="#000" stroke="#000" stroke-width="0.55">μm</text>
<clipPath id="c10"><rect x="282.40" y="455.70" width="117.00" height="92.20"/></clipPath>
<rect x="282.90" y="456.20" width="116.00" height="91.20" fill="none" stroke="#000" stroke-width="1.55"/>
<path d="M284.80,547.40v-1.90M284.80,456.20v1.90M289.25,547.40v-0.95M289.25,456.20v0.95M293.70,547.40v-0.95M293.70,456.20v0.95M298.14,547.40v-0.95M298.14,456.20v0.95M302.59,547.40v-0.95M302.59,456.20v0.95M307.04,547.40v-1.90M307.04,456.20v1.90M311.49,547.40v-0.95M311.49,456.20v0.95M315.94,547.40v-0.95M315.94,456.20v0.95M320.38,547.40v-0.95M320.38,456.20v0.95M324.83,547.40v-0.95M324.83,456.20v0.95M329.28,547.40v-1.90M329.28,456.20v1.90M333.73,547.40v-0.95M333.73,456.20v0.95M338.18,547.40v-0.95M338.18,456.20v0.95M342.62,547.40v-0.95M342.62,456.20v0.95M347.07,547.40v-0.95M347.07,456.20v0.95M351.52,547.40v-1.90M351.52,456.20v1.90M355.97,547.40v-0.95M355.97,456.20v0.95M360.42,547.40v-0.95M360.42,456.20v0.95M364.86,547.40v-0.95M364.86,456.20v0.95M369.31,547.40v-0.95M369.31,456.20v0.95M373.76,547.40v-1.90M373.76,456.20v1.90M378.21,547.40v-0.95M378.21,456.20v0.95M382.66,547.40v-0.95M382.66,456.20v0.95M387.10,547.40v-0.95M387.10,456.20v0.95M391.55,547.40v-0.95M391.55,456.20v0.95M396.00,547.40v-1.90M396.00,456.20v1.90" stroke="#000" stroke-width="1.2" fill="none"/>
<path d="M282.90,547.40h2.40M398.90,547.40h-2.40M282.90,545.88h1.20M398.90,545.88h-1.20M282.90,544.36h1.20M398.90,544.36h-1.20M282.90,542.84h1.20M398.90,542.84h-1.20M282.90,541.32h1.20M398.90,541.32h-1.20M282.90,539.80h1.20M398.90,539.80h-1.20M282.90,538.28h1.20M398.90,538.28h-1.20M282.90,536.76h1.20M398.90,536.76h-1.20M282.90,535.24h1.20M398.90,535.24h-1.20M282.90,533.72h1.20M398.90,533.72h-1.20M282.90,532.20h2.40M398.90,532.20h-2.40M282.90,530.68h1.20M398.90,530.68h-1.20M282.90,529.16h1.20M398.90,529.16h-1.20M282.90,527.64h1.20M398.90,527.64h-1.20M282.90,526.12h1.20M398.90,526.12h-1.20M282.90,524.60h1.20M398.90,524.60h-1.20M282.90,523.08h1.20M398.90,523.08h-1.20M282.90,521.56h1.20M398.90,521.56h-1.20M282.90,520.04h1.20M398.90,520.04h-1.20M282.90,518.52h1.20M398.90,518.52h-1.20M282.90,517.00h2.40M398.90,517.00h-2.40M282.90,515.48h1.20M398.90,515.48h-1.20M282.90,513.96h1.20M398.90,513.96h-1.20M282.90,512.44h1.20M398.90,512.44h-1.20M282.90,510.92h1.20M398.90,510.92h-1.20M282.90,509.40h1.20M398.90,509.40h-1.20M282.90,507.88h1.20M398.90,507.88h-1.20M282.90,506.36h1.20M398.90,506.36h-1.20M282.90,504.84h1.20M398.90,504.84h-1.20M282.90,503.32h1.20M398.90,503.32h-1.20M282.90,501.80h2.40M398.90,501.80h-2.40M282.90,500.28h1.20M398.90,500.28h-1.20M282.90,498.76h1.20M398.90,498.76h-1.20M282.90,497.24h1.20M398.90,497.24h-1.20M282.90,495.72h1.20M398.90,495.72h-1.20M282.90,494.20h1.20M398.90,494.20h-1.20M282.90,492.68h1.20M398.90,492.68h-1.20M282.90,491.16h1.20M398.90,491.16h-1.20M282.90,489.64h1.20M398.90,489.64h-1.20M282.90,488.12h1.20M398.90,488.12h-1.20M282.90,486.60h2.40M398.90,486.60h-2.40M282.90,485.08h1.20M398.90,485.08h-1.20M282.90,483.56h1.20M398.90,483.56h-1.20M282.90,482.04h1.20M398.90,482.04h-1.20M282.90,480.52h1.20M398.90,480.52h-1.20M282.90,479.00h1.20M398.90,479.00h-1.20M282.90,477.48h1.20M398.90,477.48h-1.20M282.90,475.96h1.20M398.90,475.96h-1.20M282.90,474.44h1.20M398.90,474.44h-1.20M282.90,472.92h1.20M398.90,472.92h-1.20M282.90,471.40h2.40M398.90,471.40h-2.40M282.90,469.88h1.20M398.90,469.88h-1.20M282.90,468.36h1.20M398.90,468.36h-1.20M282.90,466.84h1.20M398.90,466.84h-1.20M282.90,465.32h1.20M398.90,465.32h-1.20M282.90,463.80h1.20M398.90,463.80h-1.20M282.90,462.28h1.20M398.90,462.28h-1.20M282.90,460.76h1.20M398.90,460.76h-1.20M282.90,459.24h1.20M398.90,459.24h-1.20M282.90,457.72h1.20M398.90,457.72h-1.20M282.90,456.20h2.40M398.90,456.20h-2.40" stroke="#000" stroke-width="1.1" fill="none"/>
<path d="M284.8,471.4 L286.0,472.4 L287.1,473.3 L288.3,474.3 L289.4,475.2 L290.6,476.2 L291.7,477.1 L292.9,478.0 L294.0,478.9 L295.2,479.8 L296.3,480.6 L297.5,481.5 L298.6,482.3 L299.8,483.2 L300.9,484.0 L302.1,484.8 L303.2,485.6 L304.4,486.4 L305.5,487.2 L306.7,488.0 L307.9,488.7 L309.0,489.5 L310.2,490.2 L311.3,491.0 L312.5,491.7 L313.6,492.4 L314.8,493.1 L315.9,493.8 L317.1,494.5 L318.2,495.2 L319.4,495.9 L320.5,496.5 L321.7,497.2 L322.8,497.8 L324.0,498.5 L325.1,499.1 L326.3,499.7 L327.4,500.3 L328.6,500.9 L329.7,501.5 L330.9,502.1 L332.1,502.7 L333.2,503.3 L334.4,503.9 L335.5,504.4 L336.7,505.0 L337.8,505.5 L339.0,506.1 L340.1,506.6 L341.3,507.1 L342.4,507.6 L343.6,508.1 L344.7,508.7 L345.9,509.2 L347.0,509.6 L348.2,510.1 L349.3,510.6 L350.5,511.1 L351.6,511.6 L352.8,512.0 L354.0,512.5 L355.1,512.9 L356.3,513.4 L357.4,513.8 L358.6,514.2 L359.7,514.7 L360.9,515.1 L362.0,515.5 L363.2,515.9 L364.3,516.3 L365.5,516.7 L366.6,517.1 L367.8,517.5 L368.9,517.9 L370.1,518.3 L371.2,518.6 L372.4,519.0 L373.5,519.4 L374.7,519.7 L375.8,520.1 L377.0,520.4 L378.2,520.8 L379.3,521.1 L380.5,521.5 L381.6,521.8 L382.8,522.1 L383.9,522.5 L385.1,522.8 L386.2,523.1 L387.4,523.4 L388.5,523.7 L389.7,524.0 L390.8,524.3 L392.0,524.6 L393.1,524.9 L394.3,525.2 L395.4,525.5 L396.6,525.8 L397.7,526.0 L398.9,526.3" fill="none" stroke="#f00" stroke-width="0.6" stroke-linejoin="round" stroke-dasharray="5.6 5.0" clip-path="url(#c10)"/>
<path d="M284.8,471.4 L286.0,473.3 L287.1,475.2 L288.3,477.1 L289.4,478.9 L290.6,480.6 L291.7,482.3 L292.9,484.0 L294.0,485.6 L295.2,487.2 L296.3,488.7 L297.5,490.2 L298.6,491.7 L299.8,493.1 L300.9,494.5 L302.1,495.9 L303.2,497.2 L304.4,498.5 L305.5,499.7 L306.7,500.9 L307.9,502.1 L309.0,503.3 L310.2,504.4 L311.3,505.5 L312.5,506.6 L313.6,507.6 L314.8,508.7 L315.9,509.6 L317.1,510.6 L318.2,511.6 L319.4,512.5 L320.5,513.4 L321.7,514.2 L322.8,515.1 L324.0,515.9 L325.1,516.7 L326.3,517.5 L327.4,518.3 L328.6,519.0 L329.7,519.7 L330.9,520.4 L332.1,521.1 L333.2,521.8 L334.4,522.5 L335.5,523.1 L336.7,523.7 L337.8,524.3 L339.0,524.9 L340.1,525.5 L341.3,526.0 L342.4,526.6 L343.6,527.1 L344.7,527.6 L345.9,528.2 L347.0,528.6 L348.2,529.1 L349.3,529.6 L350.5,530.0 L351.6,530.5 L352.8,530.9 L354.0,531.3 L355.1,531.8 L356.3,532.2 L357.4,532.5 L358.6,532.9 L359.7,533.3 L360.9,533.7 L362.0,534.0 L363.2,534.4 L364.3,534.7 L365.5,535.0 L366.6,535.3 L367.8,535.6 L368.9,535.9 L370.1,536.2 L371.2,536.5 L372.4,536.8 L373.5,537.1 L374.7,537.3 L375.8,537.6 L377.0,537.8 L378.2,538.1 L379.3,538.3 L380.5,538.6 L381.6,538.8 L382.8,539.0 L383.9,539.2 L385.1,539.4 L386.2,539.6 L387.4,539.8 L388.5,540.0 L389.7,540.2 L390.8,540.4 L392.0,540.6 L393.1,540.7 L394.3,540.9 L395.4,541.1 L396.6,541.2 L397.7,541.4 L398.9,541.6" fill="none" stroke="#00f" stroke-width="0.6" stroke-linejoin="round" stroke-dasharray="5.6 5.0" clip-path="url(#c10)"/>
<path d="M284.8,471.4 L286.0,471.4 L287.1,471.5 L288.3,471.7 L289.4,471.9 L290.6,472.1 L291.7,472.4 L292.9,472.8 L294.0,473.3 L295.2,473.7 L296.3,474.3 L297.5,474.9 L298.6,475.6 L299.8,476.3 L300.9,477.1 L302.1,477.9 L303.2,478.8 L304.4,479.7 L305.5,480.7 L306.7,481.7 L307.9,482.8 L309.0,484.0 L310.2,485.1 L311.3,486.4 L312.5,487.6 L313.6,488.9 L314.8,490.3 L315.9,491.7 L317.1,493.1 L318.2,494.5 L319.4,496.0 L320.5,497.5 L321.7,499.0 L322.8,500.5 L324.0,502.0 L325.1,503.5 L326.3,505.1 L327.4,506.6 L328.6,508.2 L329.7,509.7 L330.9,511.2 L332.1,512.7 L333.2,514.2 L334.4,515.7 L335.5,517.2 L336.7,518.6 L337.8,520.0 L339.0,521.4 L340.1,522.7 L341.3,524.0 L342.4,525.3 L343.6,526.5 L344.7,527.7 L345.9,528.9 L347.0,530.0 L348.2,531.1 L349.3,532.1 L350.5,533.1 L351.6,534.0 L352.8,534.9 L354.0,535.8 L355.1,536.6 L356.3,537.4 L357.4,538.1 L358.6,538.8 L359.7,539.5 L360.9,540.1 L362.0,540.7 L363.2,541.2 L364.3,541.7 L365.5,542.2 L366.6,542.6 L367.8,543.1 L368.9,543.4 L370.1,543.8 L371.2,544.1 L372.4,544.4 L373.5,544.7 L374.7,545.0 L375.8,545.2 L377.0,545.4 L378.2,545.6 L379.3,545.8 L380.5,546.0 L381.6,546.1 L382.8,546.3 L383.9,546.4 L385.1,546.5 L386.2,546.6 L387.4,546.7 L388.5,546.8 L389.7,546.8 L390.8,546.9 L392.0,547.0 L393.1,547.0 L394.3,547.1 L395.4,547.1 L396.6,547.1 L397.7,547.2 L398.9,547.2" fill="none" stroke="#000" stroke-width="1.15" stroke-linejoin="round" clip-path="url(#c10)"/>
<path d="M284.8,471.4 L286.0,472.4 L287.1,473.5 L288.3,474.5 L289.4,475.7 L290.6,476.8 L291.7,478.0 L292.9,479.3 L294.0,480.6 L295.2,481.9 L296.3,483.2 L297.5,484.5 L298.6,485.9 L299.8,487.3 L300.9,488.7 L302.1,490.2 L303.2,491.6 L304.4,493.1 L305.5,494.6 L306.7,496.1 L307.9,497.6 L309.0,499.1 L310.2,500.6 L311.3,502.1 L312.5,503.6 L313.6,505.1 L314.8,506.6 L315.9,508.1 L317.1,509.6 L318.2,511.1 L319.4,512.5 L320.5,514.0 L321.7,515.4 L322.8,516.8 L324.0,518.2 L325.1,519.5 L326.3,520.9 L327.4,522.2 L328.6,523.4 L329.7,524.7 L330.9,525.9 L332.1,527.0 L333.2,528.1 L334.4,529.2 L335.5,530.3 L336.7,531.3 L337.8,532.3 L339.0,533.2 L340.1,534.1 L341.3,535.0 L342.4,535.8 L343.6,536.6 L344.7,537.4 L345.9,538.1 L347.0,538.8 L348.2,539.4 L349.3,540.0 L350.5,540.6 L351.6,541.1 L352.8,541.6 L354.0,542.1 L355.1,542.5 L356.3,542.9 L357.4,543.3 L358.6,543.7 L359.7,544.0 L360.9,544.3 L362.0,544.6 L363.2,544.8 L364.3,545.1 L365.5,545.3 L366.6,545.5 L367.8,545.7 L368.9,545.9 L370.1,546.0 L371.2,546.2 L372.4,546.3 L373.5,546.4 L374.7,546.5 L375.8,546.6 L377.0,546.7 L378.2,546.8 L379.3,546.8 L380.5,546.9 L381.6,547.0 L382.8,547.0 L383.9,547.1 L385.1,547.1 L386.2,547.1 L387.4,547.2 L388.5,547.2 L389.7,547.2 L390.8,547.2 L392.0,547.3 L393.1,547.3 L394.3,547.3 L395.4,547.3 L396.6,547.3 L397.7,547.3 L398.9,547.3" fill="none" stroke="#f00" stroke-width="0.95" stroke-linejoin="round" clip-path="url(#c10)"/>
<path d="M284.8,471.4 L286.0,473.4 L287.1,475.3 L288.3,477.3 L289.4,479.3 L290.6,481.3 L291.7,483.2 L292.9,485.2 L294.0,487.1 L295.2,489.1 L296.3,491.0 L297.5,492.9 L298.6,494.8 L299.8,496.6 L300.9,498.5 L302.1,500.3 L303.2,502.1 L304.4,503.8 L305.5,505.6 L306.7,507.3 L307.9,508.9 L309.0,510.6 L310.2,512.2 L311.3,513.8 L312.5,515.3 L313.6,516.8 L314.8,518.3 L315.9,519.7 L317.1,521.1 L318.2,522.5 L319.4,523.8 L320.5,525.0 L321.7,526.3 L322.8,527.4 L324.0,528.6 L325.1,529.7 L326.3,530.7 L327.4,531.8 L328.6,532.7 L329.7,533.7 L330.9,534.6 L332.1,535.4 L333.2,536.2 L334.4,537.0 L335.5,537.7 L336.7,538.4 L337.8,539.1 L339.0,539.7 L340.1,540.3 L341.3,540.8 L342.4,541.3 L343.6,541.8 L344.7,542.3 L345.9,542.7 L347.0,543.1 L348.2,543.5 L349.3,543.8 L350.5,544.1 L351.6,544.4 L352.8,544.7 L354.0,544.9 L355.1,545.2 L356.3,545.4 L357.4,545.6 L358.6,545.8 L359.7,545.9 L360.9,546.1 L362.0,546.2 L363.2,546.3 L364.3,546.5 L365.5,546.6 L366.6,546.6 L367.8,546.7 L368.9,546.8 L370.1,546.9 L371.2,546.9 L372.4,547.0 L373.5,547.0 L374.7,547.1 L375.8,547.1 L377.0,547.2 L378.2,547.2 L379.3,547.2 L380.5,547.2 L381.6,547.3 L382.8,547.3 L383.9,547.3 L385.1,547.3 L386.2,547.3 L387.4,547.3 L388.5,547.3 L389.7,547.3 L390.8,547.4 L392.0,547.4 L393.1,547.4 L394.3,547.4 L395.4,547.4 L396.6,547.4 L397.7,547.4 L398.9,547.4" fill="none" stroke="#00f" stroke-width="0.95" stroke-linejoin="round" clip-path="url(#c10)"/>
<text transform="translate(263.80 548.00) scale(1.012 1)" font-size="10.8" fill="#000" stroke="#000" stroke-width="0.55">0.0</text>
<text transform="translate(263.80 536.40) scale(1.012 1)" font-size="10.8" fill="#000" stroke="#000" stroke-width="0.55">0.2</text>
<text transform="translate(263.80 521.20) scale(1.012 1)" font-size="10.8" fill="#000" stroke="#000" stroke-width="0.55">0.4</text>
<text transform="translate(263.80 506.00) scale(1.012 1)" font-size="10.8" fill="#000" stroke="#000" stroke-width="0.55">0.6</text>
<text transform="translate(263.80 490.80) scale(1.012 1)" font-size="10.8" fill="#000" stroke="#000" stroke-width="0.55">0.8</text>
<text transform="translate(263.80 475.60) scale(1.012 1)" font-size="10.8" fill="#000" stroke="#000" stroke-width="0.55">1.0</text>
<text transform="translate(263.80 463.50) scale(1.012 1)" font-size="10.8" fill="#000" stroke="#000" stroke-width="0.55">1.2</text>
<text transform="translate(277.40 563.20) scale(0.999 1)" font-size="10.8" fill="#000" stroke="#000" stroke-width="0.55">0.0</text>
<text transform="translate(299.64 563.20) scale(0.999 1)" font-size="10.8" fill="#000" stroke="#000" stroke-width="0.55">0.5</text>
<text transform="translate(321.88 563.20) scale(0.999 1)" font-size="10.8" fill="#000" stroke="#000" stroke-width="0.55">1.0</text>
<text transform="translate(344.12 563.20) scale(0.999 1)" font-size="10.8" fill="#000" stroke="#000" stroke-width="0.55">1.5</text>
<text transform="translate(366.36 563.20) scale(0.999 1)" font-size="10.8" fill="#000" stroke="#000" stroke-width="0.55">2.0</text>
<text transform="translate(388.60 563.20) scale(0.999 1)" font-size="10.8" fill="#000" stroke="#000" stroke-width="0.55">2.5</text>
<text transform="translate(296.80 574.80) scale(0.913 1)" font-size="10.8" fill="#000" stroke="#000" stroke-width="0.55">True</text>
<text transform="translate(323.10 574.80) scale(0.980 1)" font-size="10.8" fill="#000" stroke="#000" stroke-width="0.55">slope</text>
<text transform="translate(354.70 574.80) scale(1.160 1)" font-size="10.8" fill="#000" stroke="#000" stroke-width="0.55" letter-spacing="0.011">[%/h]</text>
<text transform="translate(254.50 534.70) rotate(-90) translate(0.00 0) scale(0.980 1)" font-size="10.8" fill="#000" stroke="#000" stroke-width="0.55">Prob.</text>
<text transform="translate(254.50 504.00) rotate(-90) translate(0.00 0) scale(1.005 1)" font-size="10.8" fill="#000" stroke="#000" stroke-width="0.55">density</text>
<clipPath id="c11"><rect x="465.20" y="455.70" width="183.50" height="92.20"/></clipPath>
<rect x="465.70" y="456.20" width="182.50" height="91.20" fill="none" stroke="#000" stroke-width="1.55"/>
<path d="M465.70,547.40v-1.90M465.70,456.20v1.90M469.76,547.40v-0.95M469.76,456.20v0.95M473.81,547.40v-0.95M473.81,456.20v0.95M477.87,547.40v-0.95M477.87,456.20v0.95M481.92,547.40v-0.95M481.92,456.20v0.95M485.98,547.40v-0.95M485.98,456.20v0.95M490.03,547.40v-0.95M490.03,456.20v0.95M494.09,547.40v-0.95M494.09,456.20v0.95M498.14,547.40v-0.95M498.14,456.20v0.95M502.20,547.40v-0.95M502.20,456.20v0.95M506.26,547.40v-1.90M506.26,456.20v1.90M510.31,547.40v-0.95M510.31,456.20v0.95M514.37,547.40v-0.95M514.37,456.20v0.95M518.42,547.40v-0.95M518.42,456.20v0.95M522.48,547.40v-0.95M522.48,456.20v0.95M526.53,547.40v-0.95M526.53,456.20v0.95M530.59,547.40v-0.95M530.59,456.20v0.95M534.64,547.40v-0.95M534.64,456.20v0.95M538.70,547.40v-0.95M538.70,456.20v0.95M542.76,547.40v-0.95M542.76,456.20v0.95M546.81,547.40v-1.90M546.81,456.20v1.90M550.87,547.40v-0.95M550.87,456.20v0.95M554.92,547.40v-0.95M554.92,456.20v0.95M558.98,547.40v-0.95M558.98,456.20v0.95M563.03,547.40v-0.95M563.03,456.20v0.95M567.09,547.40v-0.95M567.09,456.20v0.95M571.14,547.40v-0.95M571.14,456.20v0.95M575.20,547.40v-0.95M575.20,456.20v0.95M579.26,547.40v-0.95M579.26,456.20v0.95M583.31,547.40v-0.95M583.31,456.20v0.95M587.37,547.40v-1.90M587.37,456.20v1.90M591.42,547.40v-0.95M591.42,456.20v0.95M595.48,547.40v-0.95M595.48,456.20v0.95M599.53,547.40v-0.95M599.53,456.20v0.95M603.59,547.40v-0.95M603.59,456.20v0.95M607.64,547.40v-0.95M607.64,456.20v0.95M611.70,547.40v-0.95M611.70,456.20v0.95M615.76,547.40v-0.95M615.76,456.20v0.95M619.81,547.40v-0.95M619.81,456.20v0.95M623.87,547.40v-0.95M623.87,456.20v0.95M627.92,547.40v-1.90M627.92,456.20v1.90M631.98,547.40v-0.95M631.98,456.20v0.95M636.03,547.40v-0.95M636.03,456.20v0.95M640.09,547.40v-0.95M640.09,456.20v0.95M644.14,547.40v-0.95M644.14,456.20v0.95M648.20,547.40v-0.95M648.20,456.20v0.95" stroke="#000" stroke-width="1.2" fill="none"/>
<path d="M465.70,547.40h3.70M648.20,547.40h-3.70M465.70,536.00h1.85M648.20,536.00h-1.85M465.70,524.60h3.70M648.20,524.60h-3.70M465.70,513.20h1.85M648.20,513.20h-1.85M465.70,501.80h3.70M648.20,501.80h-3.70M465.70,490.40h1.85M648.20,490.40h-1.85M465.70,479.00h3.70M648.20,479.00h-3.70M465.70,467.60h1.85M648.20,467.60h-1.85M465.70,456.20h3.70M648.20,456.20h-3.70" stroke="#000" stroke-width="1.4" fill="none"/>
<line x1="465.70" y1="501.87" x2="648.20" y2="501.87" stroke="#00f" stroke-width="1.2"/>
<path d="M489.05,506.63V530.41M485.05,506.63h8M485.05,530.41h8M505.13,482.39V506.17M501.13,482.39h8M501.13,506.17h8M521.66,490.32V514.55M517.66,490.32h8M517.66,514.55h8M538.20,481.26V505.49M534.20,481.26h8M534.20,505.49h8M554.51,488.51V512.74M550.51,488.51h8M550.51,512.74h8M570.81,503.91V528.14M566.81,503.91h8M566.81,528.14h8M587.35,483.07V506.85M583.35,483.07h8M583.35,506.85h8M603.66,478.09V508.66M599.66,478.09h8M599.66,508.66h8" stroke="#000" stroke-width="1.35" fill="none" clip-path="url(#c11)"/>
<circle cx="489.05" cy="518.40" r="2.45" fill="#000"/>
<circle cx="505.13" cy="494.17" r="2.45" fill="#000"/>
<circle cx="521.66" cy="502.32" r="2.45" fill="#000"/>
<circle cx="538.20" cy="493.26" r="2.45" fill="#000"/>
<circle cx="554.51" cy="500.51" r="2.45" fill="#000"/>
<circle cx="570.81" cy="515.91" r="2.45" fill="#000"/>
<circle cx="587.35" cy="494.85" r="2.45" fill="#000"/>
<circle cx="603.66" cy="493.26" r="2.45" fill="#000"/>
<line x1="489.05" y1="506.85" x2="603.66" y2="497.11" stroke="#f00" stroke-width="1.2"/>
<text transform="translate(434.20 548.00) scale(1.021 1)" font-size="10.8" fill="#000" stroke="#000" stroke-width="0.55">0.990</text>
<text transform="translate(434.20 528.80) scale(1.021 1)" font-size="10.8" fill="#000" stroke="#000" stroke-width="0.55">0.995</text>
<text transform="translate(434.20 506.00) scale(1.021 1)" font-size="10.8" fill="#000" stroke="#000" stroke-width="0.55">1.000</text>
<text transform="translate(434.20 483.20) scale(1.021 1)" font-size="10.8" fill="#000" stroke="#000" stroke-width="0.55">1.005</text>
<text transform="translate(434.20 463.50) scale(1.021 1)" font-size="10.8" fill="#000" stroke="#000" stroke-width="0.55">1.010</text>
<text transform="translate(462.10 563.20) scale(1.000 1)" font-size="10.8" fill="#000" stroke="#000" stroke-width="0.55">0</text>
<text transform="translate(499.80 563.20) scale(0.991 1)" font-size="10.8" fill="#000" stroke="#000" stroke-width="0.55">10</text>
<text transform="translate(540.45 563.20) scale(0.991 1)" font-size="10.8" fill="#000" stroke="#000" stroke-width="0.55">20</text>
<text transform="translate(581.10 563.20) scale(0.991 1)" font-size="10.8" fill="#000" stroke="#000" stroke-width="0.55">30</text>
<text transform="translate(621.75 563.20) scale(0.991 1)" font-size="10.8" fill="#000" stroke="#000" stroke-width="0.55">40</text>
<text transform="translate(538.45 575.60) scale(1.000 1)" font-size="10.8" fill="#000" stroke="#000" stroke-width="0.55">t</text>
<text transform="translate(547.45 575.60) scale(1.158 1)" font-size="10.8" fill="#000" stroke="#000" stroke-width="0.55">[min]</text>
<text transform="translate(424.30 528.00) rotate(-90) translate(0.00 0) scale(0.993 1)" font-size="10.8" fill="#000" stroke="#000" stroke-width="0.55">Norm.</text>
<text transform="translate(424.30 492.60) rotate(-90) translate(0.00 0) scale(1.012 1)" font-size="10.8" fill="#000" stroke="#000" stroke-width="0.55">flux</text>
<text transform="translate(472.70 470.30) scale(1.160 1)" font-size="10.8" fill="#000" stroke="#000" stroke-width="0.55" letter-spacing="0.276">λ=</text>
<text transform="translate(488.60 470.30) scale(0.947 1)" font-size="10.8" fill="#000" stroke="#000" stroke-width="0.55">1.62</text>
<line x1="510.30" y1="467.00" x2="518.10" y2="467.00" stroke="#000" stroke-width="1.25"/>
<text transform="translate(520.40 470.30) scale(0.990 1)" font-size="10.8" fill="#000" stroke="#000" stroke-width="0.55">1.66</text>
<text transform="translate(546.50 470.30) scale(1.071 1)" font-size="10.8" fill="#000" stroke="#000" stroke-width="0.55">μm</text>
<clipPath id="c12"><rect x="697.80" y="455.70" width="117.00" height="92.20"/></clipPath>
<rect x="698.30" y="456.20" width="116.00" height="91.20" fill="none" stroke="#000" stroke-width="1.55"/>
<path d="M700.20,547.40v-1.90M700.20,456.20v1.90M704.65,547.40v-0.95M704.65,456.20v0.95M709.10,547.40v-0.95M709.10,456.20v0.95M713.54,547.40v-0.95M713.54,456.20v0.95M717.99,547.40v-0.95M717.99,456.20v0.95M722.44,547.40v-1.90M722.44,456.20v1.90M726.89,547.40v-0.95M726.89,456.20v0.95M731.34,547.40v-0.95M731.34,456.20v0.95M735.78,547.40v-0.95M735.78,456.20v0.95M740.23,547.40v-0.95M740.23,456.20v0.95M744.68,547.40v-1.90M744.68,456.20v1.90M749.13,547.40v-0.95M749.13,456.20v0.95M753.58,547.40v-0.95M753.58,456.20v0.95M758.02,547.40v-0.95M758.02,456.20v0.95M762.47,547.40v-0.95M762.47,456.20v0.95M766.92,547.40v-1.90M766.92,456.20v1.90M771.37,547.40v-0.95M771.37,456.20v0.95M775.82,547.40v-0.95M775.82,456.20v0.95M780.26,547.40v-0.95M780.26,456.20v0.95M784.71,547.40v-0.95M784.71,456.20v0.95M789.16,547.40v-1.90M789.16,456.20v1.90M793.61,547.40v-0.95M793.61,456.20v0.95M798.06,547.40v-0.95M798.06,456.20v0.95M802.50,547.40v-0.95M802.50,456.20v0.95M806.95,547.40v-0.95M806.95,456.20v0.95M811.40,547.40v-1.90M811.40,456.20v1.90" stroke="#000" stroke-width="1.2" fill="none"/>
<path d="M698.30,547.40h2.40M814.30,547.40h-2.40M698.30,545.88h1.20M814.30,545.88h-1.20M698.30,544.36h1.20M814.30,544.36h-1.20M698.30,542.84h1.20M814.30,542.84h-1.20M698.30,541.32h1.20M814.30,541.32h-1.20M698.30,539.80h1.20M814.30,539.80h-1.20M698.30,538.28h1.20M814.30,538.28h-1.20M698.30,536.76h1.20M814.30,536.76h-1.20M698.30,535.24h1.20M814.30,535.24h-1.20M698.30,533.72h1.20M814.30,533.72h-1.20M698.30,532.20h2.40M814.30,532.20h-2.40M698.30,530.68h1.20M814.30,530.68h-1.20M698.30,529.16h1.20M814.30,529.16h-1.20M698.30,527.64h1.20M814.30,527.64h-1.20M698.30,526.12h1.20M814.30,526.12h-1.20M698.30,524.60h1.20M814.30,524.60h-1.20M698.30,523.08h1.20M814.30,523.08h-1.20M698.30,521.56h1.20M814.30,521.56h-1.20M698.30,520.04h1.20M814.30,520.04h-1.20M698.30,518.52h1.20M814.30,518.52h-1.20M698.30,517.00h2.40M814.30,517.00h-2.40M698.30,515.48h1.20M814.30,515.48h-1.20M698.30,513.96h1.20M814.30,513.96h-1.20M698.30,512.44h1.20M814.30,512.44h-1.20M698.30,510.92h1.20M814.30,510.92h-1.20M698.30,509.40h1.20M814.30,509.40h-1.20M698.30,507.88h1.20M814.30,507.88h-1.20M698.30,506.36h1.20M814.30,506.36h-1.20M698.30,504.84h1.20M814.30,504.84h-1.20M698.30,503.32h1.20M814.30,503.32h-1.20M698.30,501.80h2.40M814.30,501.80h-2.40M698.30,500.28h1.20M814.30,500.28h-1.20M698.30,498.76h1.20M814.30,498.76h-1.20M698.30,497.24h1.20M814.30,497.24h-1.20M698.30,495.72h1.20M814.30,495.72h-1.20M698.30,494.20h1.20M814.30,494.20h-1.20M698.30,492.68h1.20M814.30,492.68h-1.20M698.30,491.16h1.20M814.30,491.16h-1.20M698.30,489.64h1.20M814.30,489.64h-1.20M698.30,488.12h1.20M814.30,488.12h-1.20M698.30,486.60h2.40M814.30,486.60h-2.40M698.30,485.08h1.20M814.30,485.08h-1.20M698.30,483.56h1.20M814.30,483.56h-1.20M698.30,482.04h1.20M814.30,482.04h-1.20M698.30,480.52h1.20M814.30,480.52h-1.20M698.30,479.00h1.20M814.30,479.00h-1.20M698.30,477.48h1.20M814.30,477.48h-1.20M698.30,475.96h1.20M814.30,475.96h-1.20M698.30,474.44h1.20M814.30,474.44h-1.20M698.30,472.92h1.20M814.30,472.92h-1.20M698.30,471.40h2.40M814.30,471.40h-2.40M698.30,469.88h1.20M814.30,469.88h-1.20M698.30,468.36h1.20M814.30,468.36h-1.20M698.30,466.84h1.20M814.30,466.84h-1.20M698.30,465.32h1.20M814.30,465.32h-1.20M698.30,463.80h1.20M814.30,463.80h-1.20M698.30,462.28h1.20M814.30,462.28h-1.20M698.30,460.76h1.20M814.30,460.76h-1.20M698.30,459.24h1.20M814.30,459.24h-1.20M698.30,457.72h1.20M814.30,457.72h-1.20M698.30,456.20h2.40M814.30,456.20h-2.40" stroke="#000" stroke-width="1.1" fill="none"/>
<path d="M700.2,471.4 L701.4,472.4 L702.5,473.3 L703.7,474.3 L704.8,475.2 L706.0,476.2 L707.1,477.1 L708.3,478.0 L709.4,478.9 L710.6,479.8 L711.7,480.6 L712.9,481.5 L714.0,482.3 L715.2,483.2 L716.3,484.0 L717.5,484.8 L718.6,485.6 L719.8,486.4 L720.9,487.2 L722.1,488.0 L723.3,488.7 L724.4,489.5 L725.6,490.2 L726.7,491.0 L727.9,491.7 L729.0,492.4 L730.2,493.1 L731.3,493.8 L732.5,494.5 L733.6,495.2 L734.8,495.9 L735.9,496.5 L737.1,497.2 L738.2,497.8 L739.4,498.5 L740.5,499.1 L741.7,499.7 L742.8,500.3 L744.0,500.9 L745.1,501.5 L746.3,502.1 L747.5,502.7 L748.6,503.3 L749.8,503.9 L750.9,504.4 L752.1,505.0 L753.2,505.5 L754.4,506.1 L755.5,506.6 L756.7,507.1 L757.8,507.6 L759.0,508.1 L760.1,508.7 L761.3,509.2 L762.4,509.6 L763.6,510.1 L764.7,510.6 L765.9,511.1 L767.0,511.6 L768.2,512.0 L769.4,512.5 L770.5,512.9 L771.7,513.4 L772.8,513.8 L774.0,514.2 L775.1,514.7 L776.3,515.1 L777.4,515.5 L778.6,515.9 L779.7,516.3 L780.9,516.7 L782.0,517.1 L783.2,517.5 L784.3,517.9 L785.5,518.3 L786.6,518.6 L787.8,519.0 L788.9,519.4 L790.1,519.7 L791.2,520.1 L792.4,520.4 L793.6,520.8 L794.7,521.1 L795.9,521.5 L797.0,521.8 L798.2,522.1 L799.3,522.5 L800.5,522.8 L801.6,523.1 L802.8,523.4 L803.9,523.7 L805.1,524.0 L806.2,524.3 L807.4,524.6 L808.5,524.9 L809.7,525.2 L810.8,525.5 L812.0,525.8 L813.1,526.0 L814.3,526.3" fill="none" stroke="#f00" stroke-width="0.6" stroke-linejoin="round" stroke-dasharray="5.6 5.0" clip-path="url(#c12)"/>
<path d="M700.2,471.4 L701.4,473.3 L702.5,475.2 L703.7,477.1 L704.8,478.9 L706.0,480.6 L707.1,482.3 L708.3,484.0 L709.4,485.6 L710.6,487.2 L711.7,488.7 L712.9,490.2 L714.0,491.7 L715.2,493.1 L716.3,494.5 L717.5,495.9 L718.6,497.2 L719.8,498.5 L720.9,499.7 L722.1,500.9 L723.3,502.1 L724.4,503.3 L725.6,504.4 L726.7,505.5 L727.9,506.6 L729.0,507.6 L730.2,508.7 L731.3,509.6 L732.5,510.6 L733.6,511.6 L734.8,512.5 L735.9,513.4 L737.1,514.2 L738.2,515.1 L739.4,515.9 L740.5,516.7 L741.7,517.5 L742.8,518.3 L744.0,519.0 L745.1,519.7 L746.3,520.4 L747.5,521.1 L748.6,521.8 L749.8,522.5 L750.9,523.1 L752.1,523.7 L753.2,524.3 L754.4,524.9 L755.5,525.5 L756.7,526.0 L757.8,526.6 L759.0,527.1 L760.1,527.6 L761.3,528.2 L762.4,528.6 L763.6,529.1 L764.7,529.6 L765.9,530.0 L767.0,530.5 L768.2,530.9 L769.4,531.3 L770.5,531.8 L771.7,532.2 L772.8,532.5 L774.0,532.9 L775.1,533.3 L776.3,533.7 L777.4,534.0 L778.6,534.4 L779.7,534.7 L780.9,535.0 L782.0,535.3 L783.2,535.6 L784.3,535.9 L785.5,536.2 L786.6,536.5 L787.8,536.8 L788.9,537.1 L790.1,537.3 L791.2,537.6 L792.4,537.8 L793.6,538.1 L794.7,538.3 L795.9,538.6 L797.0,538.8 L798.2,539.0 L799.3,539.2 L800.5,539.4 L801.6,539.6 L802.8,539.8 L803.9,540.0 L805.1,540.2 L806.2,540.4 L807.4,540.6 L808.5,540.7 L809.7,540.9 L810.8,541.1 L812.0,541.2 L813.1,541.4 L814.3,541.6" fill="none" stroke="#00f" stroke-width="0.6" stroke-linejoin="round" stroke-dasharray="5.6 5.0" clip-path="url(#c12)"/>
<path d="M700.2,471.4 L701.4,471.4 L702.5,471.5 L703.7,471.6 L704.8,471.7 L706.0,471.9 L707.1,472.2 L708.3,472.4 L709.4,472.8 L710.6,473.1 L711.7,473.5 L712.9,474.0 L714.0,474.4 L715.2,475.0 L716.3,475.5 L717.5,476.2 L718.6,476.8 L719.8,477.5 L720.9,478.3 L722.1,479.0 L723.3,479.9 L724.4,480.7 L725.6,481.6 L726.7,482.5 L727.9,483.5 L729.0,484.5 L730.2,485.6 L731.3,486.6 L732.5,487.7 L733.6,488.9 L734.8,490.1 L735.9,491.2 L737.1,492.5 L738.2,493.7 L739.4,495.0 L740.5,496.3 L741.7,497.6 L742.8,498.9 L744.0,500.2 L745.1,501.5 L746.3,502.9 L747.5,504.2 L748.6,505.6 L749.8,506.9 L750.9,508.3 L752.1,509.6 L753.2,510.9 L754.4,512.3 L755.5,513.6 L756.7,514.9 L757.8,516.2 L759.0,517.5 L760.1,518.7 L761.3,519.9 L762.4,521.1 L763.6,522.3 L764.7,523.5 L765.9,524.6 L767.0,525.7 L768.2,526.8 L769.4,527.8 L770.5,528.9 L771.7,529.8 L772.8,530.8 L774.0,531.7 L775.1,532.6 L776.3,533.4 L777.4,534.3 L778.6,535.1 L779.7,535.8 L780.9,536.5 L782.0,537.2 L783.2,537.9 L784.3,538.5 L785.5,539.1 L786.6,539.7 L787.8,540.2 L788.9,540.7 L790.1,541.2 L791.2,541.6 L792.4,542.1 L793.6,542.5 L794.7,542.8 L795.9,543.2 L797.0,543.5 L798.2,543.8 L799.3,544.1 L800.5,544.4 L801.6,544.6 L802.8,544.9 L803.9,545.1 L805.1,545.3 L806.2,545.5 L807.4,545.6 L808.5,545.8 L809.7,545.9 L810.8,546.1 L812.0,546.2 L813.1,546.3 L814.3,546.4" fill="none" stroke="#000" stroke-width="1.15" stroke-linejoin="round" clip-path="url(#c12)"/>
<path d="M700.2,471.4 L701.4,472.4 L702.5,473.4 L703.7,474.5 L704.8,475.6 L706.0,476.7 L707.1,477.8 L708.3,478.9 L709.4,480.1 L710.6,481.3 L711.7,482.5 L712.9,483.7 L714.0,485.0 L715.2,486.2 L716.3,487.5 L717.5,488.7 L718.6,490.0 L719.8,491.3 L720.9,492.6 L722.1,493.9 L723.3,495.3 L724.4,496.6 L725.6,497.9 L726.7,499.3 L727.9,500.6 L729.0,501.9 L730.2,503.2 L731.3,504.6 L732.5,505.9 L733.6,507.2 L734.8,508.5 L735.9,509.8 L737.1,511.1 L738.2,512.4 L739.4,513.7 L740.5,514.9 L741.7,516.1 L742.8,517.3 L744.0,518.5 L745.1,519.7 L746.3,520.9 L747.5,522.0 L748.6,523.1 L749.8,524.2 L750.9,525.3 L752.1,526.3 L753.2,527.3 L754.4,528.3 L755.5,529.2 L756.7,530.2 L757.8,531.1 L759.0,531.9 L760.1,532.8 L761.3,533.6 L762.4,534.4 L763.6,535.1 L764.7,535.8 L765.9,536.5 L767.0,537.2 L768.2,537.8 L769.4,538.4 L770.5,539.0 L771.7,539.5 L772.8,540.1 L774.0,540.6 L775.1,541.0 L776.3,541.5 L777.4,541.9 L778.6,542.3 L779.7,542.7 L780.9,543.0 L782.0,543.3 L783.2,543.7 L784.3,543.9 L785.5,544.2 L786.6,544.5 L787.8,544.7 L788.9,544.9 L790.1,545.1 L791.2,545.3 L792.4,545.5 L793.6,545.7 L794.7,545.8 L795.9,546.0 L797.0,546.1 L798.2,546.2 L799.3,546.3 L800.5,546.4 L801.6,546.5 L802.8,546.6 L803.9,546.7 L805.1,546.7 L806.2,546.8 L807.4,546.9 L808.5,546.9 L809.7,547.0 L810.8,547.0 L812.0,547.1 L813.1,547.1 L814.3,547.1" fill="none" stroke="#f00" stroke-width="0.95" stroke-linejoin="round" clip-path="url(#c12)"/>
<path d="M700.2,471.4 L701.4,473.4 L702.5,475.3 L703.7,477.3 L704.8,479.2 L706.0,481.1 L707.1,483.0 L708.3,484.9 L709.4,486.7 L710.6,488.6 L711.7,490.4 L712.9,492.2 L714.0,493.9 L715.2,495.7 L716.3,497.4 L717.5,499.1 L718.6,500.8 L719.8,502.4 L720.9,504.0 L722.1,505.6 L723.3,507.2 L724.4,508.7 L725.6,510.2 L726.7,511.7 L727.9,513.1 L729.0,514.5 L730.2,515.9 L731.3,517.2 L732.5,518.5 L733.6,519.8 L734.8,521.0 L735.9,522.3 L737.1,523.4 L738.2,524.6 L739.4,525.7 L740.5,526.7 L741.7,527.8 L742.8,528.8 L744.0,529.8 L745.1,530.7 L746.3,531.6 L747.5,532.5 L748.6,533.3 L749.8,534.1 L750.9,534.9 L752.1,535.6 L753.2,536.3 L754.4,537.0 L755.5,537.7 L756.7,538.3 L757.8,538.9 L759.0,539.4 L760.1,539.9 L761.3,540.4 L762.4,540.9 L763.6,541.4 L764.7,541.8 L765.9,542.2 L767.0,542.6 L768.2,542.9 L769.4,543.3 L770.5,543.6 L771.7,543.9 L772.8,544.2 L774.0,544.4 L775.1,544.7 L776.3,544.9 L777.4,545.1 L778.6,545.3 L779.7,545.5 L780.9,545.6 L782.0,545.8 L783.2,545.9 L784.3,546.1 L785.5,546.2 L786.6,546.3 L787.8,546.4 L788.9,546.5 L790.1,546.6 L791.2,546.7 L792.4,546.7 L793.6,546.8 L794.7,546.9 L795.9,546.9 L797.0,547.0 L798.2,547.0 L799.3,547.0 L800.5,547.1 L801.6,547.1 L802.8,547.1 L803.9,547.2 L805.1,547.2 L806.2,547.2 L807.4,547.2 L808.5,547.3 L809.7,547.3 L810.8,547.3 L812.0,547.3 L813.1,547.3 L814.3,547.3" fill="none" stroke="#00f" stroke-width="0.95" stroke-linejoin="round" clip-path="url(#c12)"/>
<text transform="translate(679.20 548.00) scale(1.012 1)" font-size="10.8" fill="#000" stroke="#000" stroke-width="0.55">0.0</text>
<text transform="translate(679.20 536.40) scale(1.012 1)" font-size="10.8" fill="#000" stroke="#000" stroke-width="0.55">0.2</text>
<text transform="translate(679.20 521.20) scale(1.012 1)" font-size="10.8" fill="#000" stroke="#000" stroke-width="0.55">0.4</text>
<text transform="translate(679.20 506.00) scale(1.012 1)" font-size="10.8" fill="#000" stroke="#000" stroke-width="0.55">0.6</text>
<text transform="translate(679.20 490.80) scale(1.012 1)" font-size="10.8" fill="#000" stroke="#000" stroke-width="0.55">0.8</text>
<text transform="translate(679.20 475.60) scale(1.012 1)" font-size="10.8" fill="#000" stroke="#000" stroke-width="0.55">1.0</text>
<text transform="translate(679.20 463.50) scale(1.012 1)" font-size="10.8" fill="#000" stroke="#000" stroke-width="0.55">1.2</text>
<text transform="translate(692.80 563.20) scale(0.999 1)" font-size="10.8" fill="#000" stroke="#000" stroke-width="0.55">0.0</text>
<text transform="translate(715.04 563.20) scale(0.999 1)" font-size="10.8" fill="#000" stroke="#000" stroke-width="0.55">0.5</text>
<text transform="translate(737.28 563.20) scale(0.999 1)" font-size="10.8" fill="#000" stroke="#000" stroke-width="0.55">1.0</text>
<text transform="translate(759.52 563.20) scale(0.999 1)" font-size="10.8" fill="#000" stroke="#000" stroke-width="0.55">1.5</text>
<text transform="translate(781.76 563.20) scale(0.999 1)" font-size="10.8" fill="#000" stroke="#000" stroke-width="0.55">2.0</text>
<text transform="translate(804.00 563.20) scale(0.999 1)" font-size="10.8" fill="#000" stroke="#000" stroke-width="0.55">2.5</text>
<text transform="translate(712.20 574.80) scale(0.913 1)" font-size="10.8" fill="#000" stroke="#000" stroke-width="0.55">True</text>
<text transform="translate(738.50 574.80) scale(0.980 1)" font-size="10.8" fill="#000" stroke="#000" stroke-width="0.55">slope</text>
<text transform="translate(770.10 574.80) scale(1.160 1)" font-size="10.8" fill="#000" stroke="#000" stroke-width="0.55" letter-spacing="0.011">[%/h]</text>
<text transform="translate(669.90 534.70) rotate(-90) translate(0.00 0) scale(0.980 1)" font-size="10.8" fill="#000" stroke="#000" stroke-width="0.55">Prob.</text>
<text transform="translate(669.90 504.00) rotate(-90) translate(0.00 0) scale(1.005 1)" font-size="10.8" fill="#000" stroke="#000" stroke-width="0.55">density</text>
<clipPath id="c13"><rect x="49.80" y="580.40" width="183.50" height="92.20"/></clipPath>
<rect x="50.30" y="580.90" width="182.50" height="91.20" fill="none" stroke="#000" stroke-width="1.55"/>
<path d="M50.30,672.10v-1.90M50.30,580.90v1.90M54.36,672.10v-0.95M54.36,580.90v0.95M58.41,672.10v-0.95M58.41,580.90v0.95M62.47,672.10v-0.95M62.47,580.90v0.95M66.52,672.10v-0.95M66.52,580.90v0.95M70.58,672.10v-0.95M70.58,580.90v0.95M74.63,672.10v-0.95M74.63,580.90v0.95M78.69,672.10v-0.95M78.69,580.90v0.95M82.74,672.10v-0.95M82.74,580.90v0.95M86.80,672.10v-0.95M86.80,580.90v0.95M90.86,672.10v-1.90M90.86,580.90v1.90M94.91,672.10v-0.95M94.91,580.90v0.95M98.97,672.10v-0.95M98.97,580.90v0.95M103.02,672.10v-0.95M103.02,580.90v0.95M107.08,672.10v-0.95M107.08,580.90v0.95M111.13,672.10v-0.95M111.13,580.90v0.95M115.19,672.10v-0.95M115.19,580.90v0.95M119.24,672.10v-0.95M119.24,580.90v0.95M123.30,672.10v-0.95M123.30,580.90v0.95M127.36,672.10v-0.95M127.36,580.90v0.95M131.41,672.10v-1.90M131.41,580.90v1.90M135.47,672.10v-0.95M135.47,580.90v0.95M139.52,672.10v-0.95M139.52,580.90v0.95M143.58,672.10v-0.95M143.58,580.90v0.95M147.63,672.10v-0.95M147.63,580.90v0.95M151.69,672.10v-0.95M151.69,580.90v0.95M155.74,672.10v-0.95M155.74,580.90v0.95M159.80,672.10v-0.95M159.80,580.90v0.95M163.86,672.10v-0.95M163.86,580.90v0.95M167.91,672.10v-0.95M167.91,580.90v0.95M171.97,672.10v-1.90M171.97,580.90v1.90M176.02,672.10v-0.95M176.02,580.90v0.95M180.08,672.10v-0.95M180.08,580.90v0.95M184.13,672.10v-0.95M184.13,580.90v0.95M188.19,672.10v-0.95M188.19,580.90v0.95M192.24,672.10v-0.95M192.24,580.90v0.95M196.30,672.10v-0.95M196.30,580.90v0.95M200.36,672.10v-0.95M200.36,580.90v0.95M204.41,672.10v-0.95M204.41,580.90v0.95M208.47,672.10v-0.95M208.47,580.90v0.95M212.52,672.10v-1.90M212.52,580.90v1.90M216.58,672.10v-0.95M216.58,580.90v0.95M220.63,672.10v-0.95M220.63,580.90v0.95M224.69,672.10v-0.95M224.69,580.90v0.95M228.74,672.10v-0.95M228.74,580.90v0.95M232.80,672.10v-0.95M232.80,580.90v0.95" stroke="#000" stroke-width="1.2" fill="none"/>
<path d="M50.30,672.10h3.70M232.80,672.10h-3.70M50.30,660.70h1.85M232.80,660.70h-1.85M50.30,649.30h3.70M232.80,649.30h-3.70M50.30,637.90h1.85M232.80,637.90h-1.85M50.30,626.50h3.70M232.80,626.50h-3.70M50.30,615.10h1.85M232.80,615.10h-1.85M50.30,603.70h3.70M232.80,603.70h-3.70M50.30,592.30h1.85M232.80,592.30h-1.85M50.30,580.90h3.70M232.80,580.90h-3.70" stroke="#000" stroke-width="1.4" fill="none"/>
<line x1="50.30" y1="626.55" x2="232.80" y2="626.55" stroke="#00f" stroke-width="1.2"/>
<path d="M73.82,621.79V638.55M69.82,621.79h8M69.82,638.55h8M90.13,617.49V634.02M86.13,617.49h8M86.13,634.02h8M106.66,626.10V642.63M102.66,626.10h8M102.66,642.63h8M122.97,612.51V629.04M118.97,612.51h8M118.97,629.04h8M139.28,625.87V642.40M135.28,625.87h8M135.28,642.40h8M155.81,617.04V633.80M151.81,617.04h8M151.81,633.80h8M172.12,607.98V624.28M168.12,607.98h8M168.12,624.28h8M188.66,610.47V635.16M184.66,610.47h8M184.66,635.16h8" stroke="#000" stroke-width="1.35" fill="none" clip-path="url(#c13)"/>
<circle cx="73.82" cy="629.95" r="2.45" fill="#000"/>
<circle cx="90.13" cy="625.87" r="2.45" fill="#000"/>
<circle cx="106.66" cy="634.25" r="2.45" fill="#000"/>
<circle cx="122.97" cy="620.89" r="2.45" fill="#000"/>
<circle cx="139.28" cy="634.25" r="2.45" fill="#000"/>
<circle cx="155.81" cy="625.42" r="2.45" fill="#000"/>
<circle cx="172.12" cy="616.13" r="2.45" fill="#000"/>
<circle cx="188.66" cy="622.92" r="2.45" fill="#000"/>
<line x1="74.05" y1="631.30" x2="188.66" y2="621.11" stroke="#f00" stroke-width="1.2"/>
<text transform="translate(18.80 672.70) scale(1.021 1)" font-size="10.8" fill="#000" stroke="#000" stroke-width="0.55">0.990</text>
<text transform="translate(18.80 653.50) scale(1.021 1)" font-size="10.8" fill="#000" stroke="#000" stroke-width="0.55">0.995</text>
<text transform="translate(18.80 630.70) scale(1.021 1)" font-size="10.8" fill="#000" stroke="#000" stroke-width="0.55">1.000</text>
<text transform="translate(18.80 607.90) scale(1.021 1)" font-size="10.8" fill="#000" stroke="#000" stroke-width="0.55">1.005</text>
<text transform="translate(18.80 588.20) scale(1.021 1)" font-size="10.8" fill="#000" stroke="#000" stroke-width="0.55">1.010</text>
<text transform="translate(46.70 687.90) scale(1.000 1)" font-size="10.8" fill="#000" stroke="#000" stroke-width="0.55">0</text>
<text transform="translate(84.40 687.90) scale(0.991 1)" font-size="10.8" fill="#000" stroke="#000" stroke-width="0.55">10</text>
<text transform="translate(125.05 687.90) scale(0.991 1)" font-size="10.8" fill="#000" stroke="#000" stroke-width="0.55">20</text>
<text transform="translate(165.70 687.90) scale(0.991 1)" font-size="10.8" fill="#000" stroke="#000" stroke-width="0.55">30</text>
<text transform="translate(206.35 687.90) scale(0.991 1)" font-size="10.8" fill="#000" stroke="#000" stroke-width="0.55">40</text>
<text transform="translate(123.05 700.30) scale(1.000 1)" font-size="10.8" fill="#000" stroke="#000" stroke-width="0.55">t</text>
<text transform="translate(132.05 700.30) scale(1.158 1)" font-size="10.8" fill="#000" stroke="#000" stroke-width="0.55">[min]</text>
<text transform="translate(8.90 652.70) rotate(-90) translate(0.00 0) scale(0.993 1)" font-size="10.8" fill="#000" stroke="#000" stroke-width="0.55">Norm.</text>
<text transform="translate(8.90 617.30) rotate(-90) translate(0.00 0) scale(1.012 1)" font-size="10.8" fill="#000" stroke="#000" stroke-width="0.55">flux</text>
<text transform="translate(57.30 595.00) scale(1.160 1)" font-size="10.8" fill="#000" stroke="#000" stroke-width="0.55" letter-spacing="0.276">λ=</text>
<text transform="translate(73.20 595.00) scale(0.947 1)" font-size="10.8" fill="#000" stroke="#000" stroke-width="0.55">1.55</text>
<line x1="94.90" y1="591.70" x2="102.70" y2="591.70" stroke="#000" stroke-width="1.25"/>
<text transform="translate(105.00 595.00) scale(0.990 1)" font-size="10.8" fill="#000" stroke="#000" stroke-width="0.55">1.66</text>
<text transform="translate(131.10 595.00) scale(1.071 1)" font-size="10.8" fill="#000" stroke="#000" stroke-width="0.55">μm</text>
<clipPath id="c14"><rect x="282.40" y="580.40" width="117.00" height="92.20"/></clipPath>
<rect x="282.90" y="580.90" width="116.00" height="91.20" fill="none" stroke="#000" stroke-width="1.55"/>
<path d="M284.80,672.10v-1.90M284.80,580.90v1.90M290.36,672.10v-0.95M290.36,580.90v0.95M295.92,672.10v-0.95M295.92,580.90v0.95M301.48,672.10v-0.95M301.48,580.90v0.95M307.04,672.10v-0.95M307.04,580.90v0.95M312.60,672.10v-1.90M312.60,580.90v1.90M318.16,672.10v-0.95M318.16,580.90v0.95M323.72,672.10v-0.95M323.72,580.90v0.95M329.28,672.10v-0.95M329.28,580.90v0.95M334.84,672.10v-0.95M334.84,580.90v0.95M340.40,672.10v-1.90M340.40,580.90v1.90M345.96,672.10v-0.95M345.96,580.90v0.95M351.52,672.10v-0.95M351.52,580.90v0.95M357.08,672.10v-0.95M357.08,580.90v0.95M362.64,672.10v-0.95M362.64,580.90v0.95M368.20,672.10v-1.90M368.20,580.90v1.90M373.76,672.10v-0.95M373.76,580.90v0.95M379.32,672.10v-0.95M379.32,580.90v0.95M384.88,672.10v-0.95M384.88,580.90v0.95M390.44,672.10v-0.95M390.44,580.90v0.95M396.00,672.10v-1.90M396.00,580.90v1.90" stroke="#000" stroke-width="1.2" fill="none"/>
<path d="M282.90,672.10h2.40M398.90,672.10h-2.40M282.90,670.58h1.20M398.90,670.58h-1.20M282.90,669.06h1.20M398.90,669.06h-1.20M282.90,667.54h1.20M398.90,667.54h-1.20M282.90,666.02h1.20M398.90,666.02h-1.20M282.90,664.50h1.20M398.90,664.50h-1.20M282.90,662.98h1.20M398.90,662.98h-1.20M282.90,661.46h1.20M398.90,661.46h-1.20M282.90,659.94h1.20M398.90,659.94h-1.20M282.90,658.42h1.20M398.90,658.42h-1.20M282.90,656.90h2.40M398.90,656.90h-2.40M282.90,655.38h1.20M398.90,655.38h-1.20M282.90,653.86h1.20M398.90,653.86h-1.20M282.90,652.34h1.20M398.90,652.34h-1.20M282.90,650.82h1.20M398.90,650.82h-1.20M282.90,649.30h1.20M398.90,649.30h-1.20M282.90,647.78h1.20M398.90,647.78h-1.20M282.90,646.26h1.20M398.90,646.26h-1.20M282.90,644.74h1.20M398.90,644.74h-1.20M282.90,643.22h1.20M398.90,643.22h-1.20M282.90,641.70h2.40M398.90,641.70h-2.40M282.90,640.18h1.20M398.90,640.18h-1.20M282.90,638.66h1.20M398.90,638.66h-1.20M282.90,637.14h1.20M398.90,637.14h-1.20M282.90,635.62h1.20M398.90,635.62h-1.20M282.90,634.10h1.20M398.90,634.10h-1.20M282.90,632.58h1.20M398.90,632.58h-1.20M282.90,631.06h1.20M398.90,631.06h-1.20M282.90,629.54h1.20M398.90,629.54h-1.20M282.90,628.02h1.20M398.90,628.02h-1.20M282.90,626.50h2.40M398.90,626.50h-2.40M282.90,624.98h1.20M398.90,624.98h-1.20M282.90,623.46h1.20M398.90,623.46h-1.20M282.90,621.94h1.20M398.90,621.94h-1.20M282.90,620.42h1.20M398.90,620.42h-1.20M282.90,618.90h1.20M398.90,618.90h-1.20M282.90,617.38h1.20M398.90,617.38h-1.20M282.90,615.86h1.20M398.90,615.86h-1.20M282.90,614.34h1.20M398.90,614.34h-1.20M282.90,612.82h1.20M398.90,612.82h-1.20M282.90,611.30h2.40M398.90,611.30h-2.40M282.90,609.78h1.20M398.90,609.78h-1.20M282.90,608.26h1.20M398.90,608.26h-1.20M282.90,606.74h1.20M398.90,606.74h-1.20M282.90,605.22h1.20M398.90,605.22h-1.20M282.90,603.70h1.20M398.90,603.70h-1.20M282.90,602.18h1.20M398.90,602.18h-1.20M282.90,600.66h1.20M398.90,600.66h-1.20M282.90,599.14h1.20M398.90,599.14h-1.20M282.90,597.62h1.20M398.90,597.62h-1.20M282.90,596.10h2.40M398.90,596.10h-2.40M282.90,594.58h1.20M398.90,594.58h-1.20M282.90,593.06h1.20M398.90,593.06h-1.20M282.90,591.54h1.20M398.90,591.54h-1.20M282.90,590.02h1.20M398.90,590.02h-1.20M282.90,588.50h1.20M398.90,588.50h-1.20M282.90,586.98h1.20M398.90,586.98h-1.20M282.90,585.46h1.20M398.90,585.46h-1.20M282.90,583.94h1.20M398.90,583.94h-1.20M282.90,582.42h1.20M398.90,582.42h-1.20M282.90,580.90h2.40M398.90,580.90h-2.40" stroke="#000" stroke-width="1.1" fill="none"/>
<path d="M284.8,596.1 L286.0,596.9 L287.1,597.7 L288.3,598.4 L289.4,599.2 L290.6,599.9 L291.7,600.7 L292.9,601.4 L294.0,602.1 L295.2,602.9 L296.3,603.6 L297.5,604.3 L298.6,605.0 L299.8,605.7 L300.9,606.4 L302.1,607.0 L303.2,607.7 L304.4,608.4 L305.5,609.0 L306.7,609.7 L307.9,610.3 L309.0,611.0 L310.2,611.6 L311.3,612.2 L312.5,612.8 L313.6,613.4 L314.8,614.1 L315.9,614.7 L317.1,615.2 L318.2,615.8 L319.4,616.4 L320.5,617.0 L321.7,617.6 L322.8,618.1 L324.0,618.7 L325.1,619.2 L326.3,619.8 L327.4,620.3 L328.6,620.8 L329.7,621.4 L330.9,621.9 L332.1,622.4 L333.2,622.9 L334.4,623.4 L335.5,623.9 L336.7,624.4 L337.8,624.9 L339.0,625.4 L340.1,625.9 L341.3,626.4 L342.4,626.8 L343.6,627.3 L344.7,627.8 L345.9,628.2 L347.0,628.7 L348.2,629.1 L349.3,629.6 L350.5,630.0 L351.6,630.4 L352.8,630.9 L354.0,631.3 L355.1,631.7 L356.3,632.1 L357.4,632.5 L358.6,632.9 L359.7,633.4 L360.9,633.8 L362.0,634.1 L363.2,634.5 L364.3,634.9 L365.5,635.3 L366.6,635.7 L367.8,636.1 L368.9,636.4 L370.1,636.8 L371.2,637.2 L372.4,637.5 L373.5,637.9 L374.7,638.2 L375.8,638.6 L377.0,638.9 L378.2,639.3 L379.3,639.6 L380.5,639.9 L381.6,640.3 L382.8,640.6 L383.9,640.9 L385.1,641.3 L386.2,641.6 L387.4,641.9 L388.5,642.2 L389.7,642.5 L390.8,642.8 L392.0,643.1 L393.1,643.4 L394.3,643.7 L395.4,644.0 L396.6,644.3 L397.7,644.6 L398.9,644.9" fill="none" stroke="#f00" stroke-width="0.6" stroke-linejoin="round" stroke-dasharray="5.6 5.0" clip-path="url(#c14)"/>
<path d="M284.8,596.1 L286.0,597.7 L287.1,599.2 L288.3,600.7 L289.4,602.1 L290.6,603.6 L291.7,605.0 L292.9,606.4 L294.0,607.7 L295.2,609.0 L296.3,610.3 L297.5,611.6 L298.6,612.8 L299.8,614.1 L300.9,615.2 L302.1,616.4 L303.2,617.6 L304.4,618.7 L305.5,619.8 L306.7,620.8 L307.9,621.9 L309.0,622.9 L310.2,623.9 L311.3,624.9 L312.5,625.9 L313.6,626.8 L314.8,627.8 L315.9,628.7 L317.1,629.6 L318.2,630.4 L319.4,631.3 L320.5,632.1 L321.7,632.9 L322.8,633.8 L324.0,634.5 L325.1,635.3 L326.3,636.1 L327.4,636.8 L328.6,637.5 L329.7,638.2 L330.9,638.9 L332.1,639.6 L333.2,640.3 L334.4,640.9 L335.5,641.6 L336.7,642.2 L337.8,642.8 L339.0,643.4 L340.1,644.0 L341.3,644.6 L342.4,645.1 L343.6,645.7 L344.7,646.2 L345.9,646.8 L347.0,647.3 L348.2,647.8 L349.3,648.3 L350.5,648.8 L351.6,649.3 L352.8,649.7 L354.0,650.2 L355.1,650.6 L356.3,651.1 L357.4,651.5 L358.6,651.9 L359.7,652.3 L360.9,652.8 L362.0,653.1 L363.2,653.5 L364.3,653.9 L365.5,654.3 L366.6,654.7 L367.8,655.0 L368.9,655.4 L370.1,655.7 L371.2,656.0 L372.4,656.4 L373.5,656.7 L374.7,657.0 L375.8,657.3 L377.0,657.6 L378.2,657.9 L379.3,658.2 L380.5,658.5 L381.6,658.8 L382.8,659.1 L383.9,659.3 L385.1,659.6 L386.2,659.8 L387.4,660.1 L388.5,660.3 L389.7,660.6 L390.8,660.8 L392.0,661.0 L393.1,661.3 L394.3,661.5 L395.4,661.7 L396.6,661.9 L397.7,662.1 L398.9,662.3" fill="none" stroke="#00f" stroke-width="0.6" stroke-linejoin="round" stroke-dasharray="5.6 5.0" clip-path="url(#c14)"/>
<path d="M284.8,596.1 L286.0,596.1 L287.1,596.2 L288.3,596.2 L289.4,596.4 L290.6,596.5 L291.7,596.7 L292.9,596.9 L294.0,597.1 L295.2,597.4 L296.3,597.7 L297.5,598.1 L298.6,598.5 L299.8,598.9 L300.9,599.4 L302.1,599.9 L303.2,600.4 L304.4,601.0 L305.5,601.7 L306.7,602.3 L307.9,603.1 L309.0,603.8 L310.2,604.7 L311.3,605.5 L312.5,606.4 L313.6,607.3 L314.8,608.3 L315.9,609.4 L317.1,610.4 L318.2,611.5 L319.4,612.7 L320.5,613.9 L321.7,615.1 L322.8,616.3 L324.0,617.6 L325.1,618.9 L326.3,620.2 L327.4,621.6 L328.6,623.0 L329.7,624.4 L330.9,625.8 L332.1,627.2 L333.2,628.6 L334.4,630.1 L335.5,631.5 L336.7,632.9 L337.8,634.4 L339.0,635.8 L340.1,637.2 L341.3,638.6 L342.4,640.0 L343.6,641.4 L344.7,642.7 L345.9,644.1 L347.0,645.4 L348.2,646.7 L349.3,647.9 L350.5,649.1 L351.6,650.3 L352.8,651.5 L354.0,652.6 L355.1,653.7 L356.3,654.7 L357.4,655.7 L358.6,656.7 L359.7,657.6 L360.9,658.5 L362.0,659.4 L363.2,660.2 L364.3,661.0 L365.5,661.8 L366.6,662.5 L367.8,663.1 L368.9,663.8 L370.1,664.4 L371.2,665.0 L372.4,665.5 L373.5,666.0 L374.7,666.5 L375.8,666.9 L377.0,667.3 L378.2,667.7 L379.3,668.1 L380.5,668.4 L381.6,668.7 L382.8,669.0 L383.9,669.3 L385.1,669.6 L386.2,669.8 L387.4,670.0 L388.5,670.2 L389.7,670.4 L390.8,670.5 L392.0,670.7 L393.1,670.8 L394.3,671.0 L395.4,671.1 L396.6,671.2 L397.7,671.3 L398.9,671.4" fill="none" stroke="#000" stroke-width="1.15" stroke-linejoin="round" clip-path="url(#c14)"/>
<path d="M284.8,596.1 L286.0,596.9 L287.1,597.7 L288.3,598.6 L289.4,599.4 L290.6,600.3 L291.7,601.2 L292.9,602.2 L294.0,603.1 L295.2,604.1 L296.3,605.1 L297.5,606.1 L298.6,607.1 L299.8,608.1 L300.9,609.2 L302.1,610.3 L303.2,611.4 L304.4,612.5 L305.5,613.7 L306.7,614.8 L307.9,616.0 L309.0,617.2 L310.2,618.4 L311.3,619.6 L312.5,620.9 L313.6,622.1 L314.8,623.4 L315.9,624.7 L317.1,626.0 L318.2,627.3 L319.4,628.6 L320.5,629.9 L321.7,631.2 L322.8,632.5 L324.0,633.8 L325.1,635.1 L326.3,636.4 L327.4,637.7 L328.6,639.0 L329.7,640.2 L330.9,641.5 L332.1,642.7 L333.2,644.0 L334.4,645.2 L335.5,646.4 L336.7,647.5 L337.8,648.7 L339.0,649.8 L340.1,650.9 L341.3,652.0 L342.4,653.0 L343.6,654.0 L344.7,655.0 L345.9,655.9 L347.0,656.8 L348.2,657.7 L349.3,658.6 L350.5,659.4 L351.6,660.2 L352.8,660.9 L354.0,661.6 L355.1,662.3 L356.3,663.0 L357.4,663.6 L358.6,664.2 L359.7,664.7 L360.9,665.3 L362.0,665.8 L363.2,666.2 L364.3,666.7 L365.5,667.1 L366.6,667.5 L367.8,667.8 L368.9,668.2 L370.1,668.5 L371.2,668.8 L372.4,669.1 L373.5,669.4 L374.7,669.6 L375.8,669.8 L377.0,670.0 L378.2,670.2 L379.3,670.4 L380.5,670.5 L381.6,670.7 L382.8,670.8 L383.9,671.0 L385.1,671.1 L386.2,671.2 L387.4,671.3 L388.5,671.4 L389.7,671.4 L390.8,671.5 L392.0,671.6 L393.1,671.6 L394.3,671.7 L395.4,671.7 L396.6,671.8 L397.7,671.8 L398.9,671.8" fill="none" stroke="#f00" stroke-width="0.95" stroke-linejoin="round" clip-path="url(#c14)"/>
<path d="M284.8,596.1 L286.0,597.7 L287.1,599.2 L288.3,600.8 L289.4,602.4 L290.6,603.9 L291.7,605.5 L292.9,607.0 L294.0,608.6 L295.2,610.1 L296.3,611.7 L297.5,613.2 L298.6,614.7 L299.8,616.2 L300.9,617.7 L302.1,619.2 L303.2,620.7 L304.4,622.1 L305.5,623.6 L306.7,625.1 L307.9,626.5 L309.0,627.9 L310.2,629.4 L311.3,630.8 L312.5,632.2 L313.6,633.5 L314.8,634.9 L315.9,636.3 L317.1,637.6 L318.2,638.9 L319.4,640.2 L320.5,641.5 L321.7,642.7 L322.8,644.0 L324.0,645.2 L325.1,646.4 L326.3,647.5 L327.4,648.6 L328.6,649.8 L329.7,650.8 L330.9,651.9 L332.1,652.9 L333.2,653.9 L334.4,654.9 L335.5,655.8 L336.7,656.7 L337.8,657.6 L339.0,658.4 L340.1,659.2 L341.3,660.0 L342.4,660.7 L343.6,661.4 L344.7,662.1 L345.9,662.8 L347.0,663.4 L348.2,664.0 L349.3,664.5 L350.5,665.1 L351.6,665.6 L352.8,666.0 L354.0,666.5 L355.1,666.9 L356.3,667.3 L357.4,667.7 L358.6,668.0 L359.7,668.3 L360.9,668.6 L362.0,668.9 L363.2,669.2 L364.3,669.4 L365.5,669.7 L366.6,669.9 L367.8,670.1 L368.9,670.3 L370.1,670.4 L371.2,670.6 L372.4,670.7 L373.5,670.9 L374.7,671.0 L375.8,671.1 L377.0,671.2 L378.2,671.3 L379.3,671.4 L380.5,671.4 L381.6,671.5 L382.8,671.6 L383.9,671.6 L385.1,671.7 L386.2,671.7 L387.4,671.8 L388.5,671.8 L389.7,671.8 L390.8,671.9 L392.0,671.9 L393.1,671.9 L394.3,671.9 L395.4,672.0 L396.6,672.0 L397.7,672.0 L398.9,672.0" fill="none" stroke="#00f" stroke-width="0.95" stroke-linejoin="round" clip-path="url(#c14)"/>
<text transform="translate(263.80 672.70) scale(1.012 1)" font-size="10.8" fill="#000" stroke="#000" stroke-width="0.55">0.0</text>
<text transform="translate(263.80 661.10) scale(1.012 1)" font-size="10.8" fill="#000" stroke="#000" stroke-width="0.55">0.2</text>
<text transform="translate(263.80 645.90) scale(1.012 1)" font-size="10.8" fill="#000" stroke="#000" stroke-width="0.55">0.4</text>
<text transform="translate(263.80 630.70) scale(1.012 1)" font-size="10.8" fill="#000" stroke="#000" stroke-width="0.55">0.6</text>
<text transform="translate(263.80 615.50) scale(1.012 1)" font-size="10.8" fill="#000" stroke="#000" stroke-width="0.55">0.8</text>
<text transform="translate(263.80 600.30) scale(1.012 1)" font-size="10.8" fill="#000" stroke="#000" stroke-width="0.55">1.0</text>
<text transform="translate(263.80 588.20) scale(1.012 1)" font-size="10.8" fill="#000" stroke="#000" stroke-width="0.55">1.2</text>
<text transform="translate(277.40 687.90) scale(0.999 1)" font-size="10.8" fill="#000" stroke="#000" stroke-width="0.55">0.0</text>
<text transform="translate(305.20 687.90) scale(0.999 1)" font-size="10.8" fill="#000" stroke="#000" stroke-width="0.55">0.5</text>
<text transform="translate(333.00 687.90) scale(0.999 1)" font-size="10.8" fill="#000" stroke="#000" stroke-width="0.55">1.0</text>
<text transform="translate(360.80 687.90) scale(0.999 1)" font-size="10.8" fill="#000" stroke="#000" stroke-width="0.55">1.5</text>
<text transform="translate(388.60 687.90) scale(0.999 1)" font-size="10.8" fill="#000" stroke="#000" stroke-width="0.55">2.0</text>
<text transform="translate(296.80 699.50) scale(0.913 1)" font-size="10.8" fill="#000" stroke="#000" stroke-width="0.55">True</text>
<text transform="translate(323.10 699.50) scale(0.980 1)" font-size="10.8" fill="#000" stroke="#000" stroke-width="0.55">slope</text>
<text transform="translate(354.70 699.50) scale(1.160 1)" font-size="10.8" fill="#000" stroke="#000" stroke-width="0.55" letter-spacing="0.011">[%/h]</text>
<text transform="translate(254.50 659.40) rotate(-90) translate(0.00 0) scale(0.980 1)" font-size="10.8" fill="#000" stroke="#000" stroke-width="0.55">Prob.</text>
<text transform="translate(254.50 628.70) rotate(-90) translate(0.00 0) scale(1.005 1)" font-size="10.8" fill="#000" stroke="#000" stroke-width="0.55">density</text>
<clipPath id="c15"><rect x="465.20" y="580.40" width="183.50" height="92.20"/></clipPath>
<rect x="465.70" y="580.90" width="182.50" height="91.20" fill="none" stroke="#000" stroke-width="1.55"/>
<path d="M465.70,672.10v-1.90M465.70,580.90v1.90M469.76,672.10v-0.95M469.76,580.90v0.95M473.81,672.10v-0.95M473.81,580.90v0.95M477.87,672.10v-0.95M477.87,580.90v0.95M481.92,672.10v-0.95M481.92,580.90v0.95M485.98,672.10v-0.95M485.98,580.90v0.95M490.03,672.10v-0.95M490.03,580.90v0.95M494.09,672.10v-0.95M494.09,580.90v0.95M498.14,672.10v-0.95M498.14,580.90v0.95M502.20,672.10v-0.95M502.20,580.90v0.95M506.26,672.10v-1.90M506.26,580.90v1.90M510.31,672.10v-0.95M510.31,580.90v0.95M514.37,672.10v-0.95M514.37,580.90v0.95M518.42,672.10v-0.95M518.42,580.90v0.95M522.48,672.10v-0.95M522.48,580.90v0.95M526.53,672.10v-0.95M526.53,580.90v0.95M530.59,672.10v-0.95M530.59,580.90v0.95M534.64,672.10v-0.95M534.64,580.90v0.95M538.70,672.10v-0.95M538.70,580.90v0.95M542.76,672.10v-0.95M542.76,580.90v0.95M546.81,672.10v-1.90M546.81,580.90v1.90M550.87,672.10v-0.95M550.87,580.90v0.95M554.92,672.10v-0.95M554.92,580.90v0.95M558.98,672.10v-0.95M558.98,580.90v0.95M563.03,672.10v-0.95M563.03,580.90v0.95M567.09,672.10v-0.95M567.09,580.90v0.95M571.14,672.10v-0.95M571.14,580.90v0.95M575.20,672.10v-0.95M575.20,580.90v0.95M579.26,672.10v-0.95M579.26,580.90v0.95M583.31,672.10v-0.95M583.31,580.90v0.95M587.37,672.10v-1.90M587.37,580.90v1.90M591.42,672.10v-0.95M591.42,580.90v0.95M595.48,672.10v-0.95M595.48,580.90v0.95M599.53,672.10v-0.95M599.53,580.90v0.95M603.59,672.10v-0.95M603.59,580.90v0.95M607.64,672.10v-0.95M607.64,580.90v0.95M611.70,672.10v-0.95M611.70,580.90v0.95M615.76,672.10v-0.95M615.76,580.90v0.95M619.81,672.10v-0.95M619.81,580.90v0.95M623.87,672.10v-0.95M623.87,580.90v0.95M627.92,672.10v-1.90M627.92,580.90v1.90M631.98,672.10v-0.95M631.98,580.90v0.95M636.03,672.10v-0.95M636.03,580.90v0.95M640.09,672.10v-0.95M640.09,580.90v0.95M644.14,672.10v-0.95M644.14,580.90v0.95M648.20,672.10v-0.95M648.20,580.90v0.95" stroke="#000" stroke-width="1.2" fill="none"/>
<path d="M465.70,672.10h3.70M648.20,672.10h-3.70M465.70,660.70h1.85M648.20,660.70h-1.85M465.70,649.30h3.70M648.20,649.30h-3.70M465.70,637.90h1.85M648.20,637.90h-1.85M465.70,626.50h3.70M648.20,626.50h-3.70M465.70,615.10h1.85M648.20,615.10h-1.85M465.70,603.70h3.70M648.20,603.70h-3.70M465.70,592.30h1.85M648.20,592.30h-1.85M465.70,580.90h3.70M648.20,580.90h-3.70" stroke="#000" stroke-width="1.4" fill="none"/>
<line x1="465.70" y1="626.55" x2="648.20" y2="626.55" stroke="#00f" stroke-width="1.2"/>
<path d="M489.05,621.11V633.34M485.05,621.11h8M485.05,633.34h8M505.13,624.74V636.74M501.13,624.74h8M501.13,636.74h8M521.66,630.17V642.40M517.66,630.17h8M517.66,642.40h8M538.20,622.02V633.80M534.20,622.02h8M534.20,633.80h8M554.51,627.45V639.23M550.51,627.45h8M550.51,639.23h8M570.81,623.15V635.38M566.81,623.15h8M566.81,635.38h8M587.35,604.35V616.58M583.35,604.35h8M583.35,616.58h8M603.66,603.90V625.87M599.66,603.90h8M599.66,625.87h8" stroke="#000" stroke-width="1.35" fill="none" clip-path="url(#c15)"/>
<circle cx="489.05" cy="627.23" r="2.45" fill="#000"/>
<circle cx="505.13" cy="630.63" r="2.45" fill="#000"/>
<circle cx="521.66" cy="636.06" r="2.45" fill="#000"/>
<circle cx="538.20" cy="627.91" r="2.45" fill="#000"/>
<circle cx="554.51" cy="633.34" r="2.45" fill="#000"/>
<circle cx="570.81" cy="629.27" r="2.45" fill="#000"/>
<circle cx="587.35" cy="610.24" r="2.45" fill="#000"/>
<circle cx="603.66" cy="614.77" r="2.45" fill="#000"/>
<line x1="489.05" y1="634.25" x2="603.66" y2="619.07" stroke="#f00" stroke-width="1.2"/>
<text transform="translate(434.20 672.70) scale(1.021 1)" font-size="10.8" fill="#000" stroke="#000" stroke-width="0.55">0.990</text>
<text transform="translate(434.20 653.50) scale(1.021 1)" font-size="10.8" fill="#000" stroke="#000" stroke-width="0.55">0.995</text>
<text transform="translate(434.20 630.70) scale(1.021 1)" font-size="10.8" fill="#000" stroke="#000" stroke-width="0.55">1.000</text>
<text transform="translate(434.20 607.90) scale(1.021 1)" font-size="10.8" fill="#000" stroke="#000" stroke-width="0.55">1.005</text>
<text transform="translate(434.20 588.20) scale(1.021 1)" font-size="10.8" fill="#000" stroke="#000" stroke-width="0.55">1.010</text>
<text transform="translate(462.10 687.90) scale(1.000 1)" font-size="10.8" fill="#000" stroke="#000" stroke-width="0.55">0</text>
<text transform="translate(499.80 687.90) scale(0.991 1)" font-size="10.8" fill="#000" stroke="#000" stroke-width="0.55">10</text>
<text transform="translate(540.45 687.90) scale(0.991 1)" font-size="10.8" fill="#000" stroke="#000" stroke-width="0.55">20</text>
<text transform="translate(581.10 687.90) scale(0.991 1)" font-size="10.8" fill="#000" stroke="#000" stroke-width="0.55">30</text>
<text transform="translate(621.75 687.90) scale(0.991 1)" font-size="10.8" fill="#000" stroke="#000" stroke-width="0.55">40</text>
<text transform="translate(538.45 700.30) scale(1.000 1)" font-size="10.8" fill="#000" stroke="#000" stroke-width="0.55">t</text>
<text transform="translate(547.45 700.30) scale(1.158 1)" font-size="10.8" fill="#000" stroke="#000" stroke-width="0.55">[min]</text>
<text transform="translate(424.30 652.70) rotate(-90) translate(0.00 0) scale(0.993 1)" font-size="10.8" fill="#000" stroke="#000" stroke-width="0.55">Norm.</text>
<text transform="translate(424.30 617.30) rotate(-90) translate(0.00 0) scale(1.012 1)" font-size="10.8" fill="#000" stroke="#000" stroke-width="0.55">flux</text>
<text transform="translate(472.70 595.00) scale(1.160 1)" font-size="10.8" fill="#000" stroke="#000" stroke-width="0.55" letter-spacing="0.276">λ=</text>
<text transform="translate(488.60 595.00) scale(0.947 1)" font-size="10.8" fill="#000" stroke="#000" stroke-width="0.55">1.12</text>
<line x1="510.30" y1="591.70" x2="518.10" y2="591.70" stroke="#000" stroke-width="1.25"/>
<text transform="translate(520.40 595.00) scale(0.990 1)" font-size="10.8" fill="#000" stroke="#000" stroke-width="0.55">1.66</text>
<text transform="translate(546.50 595.00) scale(1.071 1)" font-size="10.8" fill="#000" stroke="#000" stroke-width="0.55">μm</text>
<clipPath id="c16"><rect x="697.80" y="580.40" width="117.00" height="92.20"/></clipPath>
<rect x="698.30" y="580.90" width="116.00" height="91.20" fill="none" stroke="#000" stroke-width="1.55"/>
<path d="M700.20,672.10v-1.90M700.20,580.90v1.90M707.61,672.10v-0.95M707.61,580.90v0.95M715.03,672.10v-0.95M715.03,580.90v0.95M722.44,672.10v-0.95M722.44,580.90v0.95M729.85,672.10v-0.95M729.85,580.90v0.95M737.27,672.10v-1.90M737.27,580.90v1.90M744.68,672.10v-0.95M744.68,580.90v0.95M752.09,672.10v-0.95M752.09,580.90v0.95M759.51,672.10v-0.95M759.51,580.90v0.95M766.92,672.10v-0.95M766.92,580.90v0.95M774.33,672.10v-1.90M774.33,580.90v1.90M781.75,672.10v-0.95M781.75,580.90v0.95M789.16,672.10v-0.95M789.16,580.90v0.95M796.57,672.10v-0.95M796.57,580.90v0.95M803.99,672.10v-0.95M803.99,580.90v0.95M811.40,672.10v-1.90M811.40,580.90v1.90" stroke="#000" stroke-width="1.2" fill="none"/>
<path d="M698.30,672.10h2.40M814.30,672.10h-2.40M698.30,670.58h1.20M814.30,670.58h-1.20M698.30,669.06h1.20M814.30,669.06h-1.20M698.30,667.54h1.20M814.30,667.54h-1.20M698.30,666.02h1.20M814.30,666.02h-1.20M698.30,664.50h1.20M814.30,664.50h-1.20M698.30,662.98h1.20M814.30,662.98h-1.20M698.30,661.46h1.20M814.30,661.46h-1.20M698.30,659.94h1.20M814.30,659.94h-1.20M698.30,658.42h1.20M814.30,658.42h-1.20M698.30,656.90h2.40M814.30,656.90h-2.40M698.30,655.38h1.20M814.30,655.38h-1.20M698.30,653.86h1.20M814.30,653.86h-1.20M698.30,652.34h1.20M814.30,652.34h-1.20M698.30,650.82h1.20M814.30,650.82h-1.20M698.30,649.30h1.20M814.30,649.30h-1.20M698.30,647.78h1.20M814.30,647.78h-1.20M698.30,646.26h1.20M814.30,646.26h-1.20M698.30,644.74h1.20M814.30,644.74h-1.20M698.30,643.22h1.20M814.30,643.22h-1.20M698.30,641.70h2.40M814.30,641.70h-2.40M698.30,640.18h1.20M814.30,640.18h-1.20M698.30,638.66h1.20M814.30,638.66h-1.20M698.30,637.14h1.20M814.30,637.14h-1.20M698.30,635.62h1.20M814.30,635.62h-1.20M698.30,634.10h1.20M814.30,634.10h-1.20M698.30,632.58h1.20M814.30,632.58h-1.20M698.30,631.06h1.20M814.30,631.06h-1.20M698.30,629.54h1.20M814.30,629.54h-1.20M698.30,628.02h1.20M814.30,628.02h-1.20M698.30,626.50h2.40M814.30,626.50h-2.40M698.30,624.98h1.20M814.30,624.98h-1.20M698.30,623.46h1.20M814.30,623.46h-1.20M698.30,621.94h1.20M814.30,621.94h-1.20M698.30,620.42h1.20M814.30,620.42h-1.20M698.30,618.90h1.20M814.30,618.90h-1.20M698.30,617.38h1.20M814.30,617.38h-1.20M698.30,615.86h1.20M814.30,615.86h-1.20M698.30,614.34h1.20M814.30,614.34h-1.20M698.30,612.82h1.20M814.30,612.82h-1.20M698.30,611.30h2.40M814.30,611.30h-2.40M698.30,609.78h1.20M814.30,609.78h-1.20M698.30,608.26h1.20M814.30,608.26h-1.20M698.30,606.74h1.20M814.30,606.74h-1.20M698.30,605.22h1.20M814.30,605.22h-1.20M698.30,603.70h1.20M814.30,603.70h-1.20M698.30,602.18h1.20M814.30,602.18h-1.20M698.30,600.66h1.20M814.30,600.66h-1.20M698.30,599.14h1.20M814.30,599.14h-1.20M698.30,597.62h1.20M814.30,597.62h-1.20M698.30,596.10h2.40M814.30,596.10h-2.40M698.30,594.58h1.20M814.30,594.58h-1.20M698.30,593.06h1.20M814.30,593.06h-1.20M698.30,591.54h1.20M814.30,591.54h-1.20M698.30,590.02h1.20M814.30,590.02h-1.20M698.30,588.50h1.20M814.30,588.50h-1.20M698.30,586.98h1.20M814.30,586.98h-1.20M698.30,585.46h1.20M814.30,585.46h-1.20M698.30,583.94h1.20M814.30,583.94h-1.20M698.30,582.42h1.20M814.30,582.42h-1.20M698.30,580.90h2.40M814.30,580.90h-2.40" stroke="#000" stroke-width="1.1" fill="none"/>
<path d="M700.2,596.1 L701.4,597.3 L702.5,598.4 L703.7,599.6 L704.8,600.7 L706.0,601.8 L707.1,602.9 L708.3,603.9 L709.4,605.0 L710.6,606.0 L711.7,607.0 L712.9,608.0 L714.0,609.0 L715.2,610.0 L716.3,611.0 L717.5,611.9 L718.6,612.8 L719.8,613.8 L720.9,614.7 L722.1,615.5 L723.3,616.4 L724.4,617.3 L725.6,618.1 L726.7,618.9 L727.9,619.8 L729.0,620.6 L730.2,621.4 L731.3,622.2 L732.5,622.9 L733.6,623.7 L734.8,624.4 L735.9,625.2 L737.1,625.9 L738.2,626.6 L739.4,627.3 L740.5,628.0 L741.7,628.7 L742.8,629.3 L744.0,630.0 L745.1,630.7 L746.3,631.3 L747.5,631.9 L748.6,632.5 L749.8,633.2 L750.9,633.8 L752.1,634.3 L753.2,634.9 L754.4,635.5 L755.5,636.1 L756.7,636.6 L757.8,637.2 L759.0,637.7 L760.1,638.2 L761.3,638.8 L762.4,639.3 L763.6,639.8 L764.7,640.3 L765.9,640.8 L767.0,641.3 L768.2,641.7 L769.4,642.2 L770.5,642.7 L771.7,643.1 L772.8,643.6 L774.0,644.0 L775.1,644.4 L776.3,644.9 L777.4,645.3 L778.6,645.7 L779.7,646.1 L780.9,646.5 L782.0,646.9 L783.2,647.3 L784.3,647.7 L785.5,648.0 L786.6,648.4 L787.8,648.8 L788.9,649.1 L790.1,649.5 L791.2,649.8 L792.4,650.2 L793.6,650.5 L794.7,650.9 L795.9,651.2 L797.0,651.5 L798.2,651.8 L799.3,652.1 L800.5,652.4 L801.6,652.8 L802.8,653.0 L803.9,653.3 L805.1,653.6 L806.2,653.9 L807.4,654.2 L808.5,654.5 L809.7,654.7 L810.8,655.0 L812.0,655.3 L813.1,655.5 L814.3,655.8" fill="none" stroke="#f00" stroke-width="0.6" stroke-linejoin="round" stroke-dasharray="5.6 5.0" clip-path="url(#c16)"/>
<path d="M700.2,596.1 L701.4,598.4 L702.5,600.7 L703.7,602.9 L704.8,605.0 L706.0,607.0 L707.1,609.0 L708.3,611.0 L709.4,612.8 L710.6,614.7 L711.7,616.4 L712.9,618.1 L714.0,619.8 L715.2,621.4 L716.3,622.9 L717.5,624.4 L718.6,625.9 L719.8,627.3 L720.9,628.7 L722.1,630.0 L723.3,631.3 L724.4,632.5 L725.6,633.8 L726.7,634.9 L727.9,636.1 L729.0,637.2 L730.2,638.2 L731.3,639.3 L732.5,640.3 L733.6,641.3 L734.8,642.2 L735.9,643.1 L737.1,644.0 L738.2,644.9 L739.4,645.7 L740.5,646.5 L741.7,647.3 L742.8,648.0 L744.0,648.8 L745.1,649.5 L746.3,650.2 L747.5,650.9 L748.6,651.5 L749.8,652.1 L750.9,652.8 L752.1,653.3 L753.2,653.9 L754.4,654.5 L755.5,655.0 L756.7,655.5 L757.8,656.0 L759.0,656.5 L760.1,657.0 L761.3,657.5 L762.4,657.9 L763.6,658.4 L764.7,658.8 L765.9,659.2 L767.0,659.6 L768.2,660.0 L769.4,660.3 L770.5,660.7 L771.7,661.0 L772.8,661.4 L774.0,661.7 L775.1,662.0 L776.3,662.3 L777.4,662.6 L778.6,662.9 L779.7,663.2 L780.9,663.5 L782.0,663.7 L783.2,664.0 L784.3,664.2 L785.5,664.5 L786.6,664.7 L787.8,664.9 L788.9,665.2 L790.1,665.4 L791.2,665.6 L792.4,665.8 L793.6,666.0 L794.7,666.2 L795.9,666.3 L797.0,666.5 L798.2,666.7 L799.3,666.9 L800.5,667.0 L801.6,667.2 L802.8,667.3 L803.9,667.5 L805.1,667.6 L806.2,667.8 L807.4,667.9 L808.5,668.0 L809.7,668.1 L810.8,668.3 L812.0,668.4 L813.1,668.5 L814.3,668.6" fill="none" stroke="#00f" stroke-width="0.6" stroke-linejoin="round" stroke-dasharray="5.6 5.0" clip-path="url(#c16)"/>
<path d="M700.2,614.2 L701.4,614.2 L702.5,613.9 L703.7,613.4 L704.8,612.8 L706.0,612.1 L707.1,611.2 L708.3,610.1 L709.4,609.0 L710.6,607.8 L711.7,606.6 L712.9,605.3 L714.0,604.0 L715.2,602.7 L716.3,601.5 L717.5,600.3 L718.6,599.2 L719.8,598.3 L720.9,597.5 L722.1,596.9 L723.3,596.4 L724.4,596.2 L725.6,596.1 L726.7,596.3 L727.9,596.7 L729.0,597.3 L730.2,598.1 L731.3,599.2 L732.5,600.4 L733.6,601.9 L734.8,603.6 L735.9,605.5 L737.1,607.5 L738.2,609.7 L739.4,612.0 L740.5,614.4 L741.7,617.0 L742.8,619.6 L744.0,622.2 L745.1,624.9 L746.3,627.6 L747.5,630.3 L748.6,632.9 L749.8,635.5 L750.9,638.1 L752.1,640.6 L753.2,643.0 L754.4,645.4 L755.5,647.6 L756.7,649.7 L757.8,651.7 L759.0,653.6 L760.1,655.4 L761.3,657.0 L762.4,658.6 L763.6,660.0 L764.7,661.3 L765.9,662.5 L767.0,663.6 L768.2,664.6 L769.4,665.5 L770.5,666.4 L771.7,667.1 L772.8,667.7 L774.0,668.3 L775.1,668.8 L776.3,669.3 L777.4,669.7 L778.6,670.1 L779.7,670.4 L780.9,670.6 L782.0,670.9 L783.2,671.0 L784.3,671.2 L785.5,671.4 L786.6,671.5 L787.8,671.6 L788.9,671.7 L790.1,671.8 L791.2,671.8 L792.4,671.9 L793.6,671.9 L794.7,671.9 L795.9,672.0 L797.0,672.0 L798.2,672.0 L799.3,672.0 L800.5,672.0 L801.6,672.1 L802.8,672.1 L803.9,672.1 L805.1,672.1 L806.2,672.1 L807.4,672.1 L808.5,672.1 L809.7,672.1 L810.8,672.1 L812.0,672.1 L813.1,672.1 L814.3,672.1" fill="none" stroke="#000" stroke-width="1.15" stroke-linejoin="round" clip-path="url(#c16)"/>
<path d="M700.2,596.1 L701.4,597.2 L702.5,598.0 L703.7,598.6 L704.8,598.9 L706.0,599.1 L707.1,599.2 L708.3,599.1 L709.4,598.9 L710.6,598.7 L711.7,598.4 L712.9,598.1 L714.0,597.8 L715.2,597.6 L716.3,597.5 L717.5,597.4 L718.6,597.5 L719.8,597.7 L720.9,598.0 L722.1,598.5 L723.3,599.2 L724.4,600.1 L725.6,601.2 L726.7,602.4 L727.9,603.9 L729.0,605.5 L730.2,607.2 L731.3,609.1 L732.5,611.2 L733.6,613.4 L734.8,615.7 L735.9,618.1 L737.1,620.5 L738.2,623.0 L739.4,625.6 L740.5,628.1 L741.7,630.7 L742.8,633.3 L744.0,635.8 L745.1,638.3 L746.3,640.7 L747.5,643.0 L748.6,645.3 L749.8,647.5 L750.9,649.6 L752.1,651.6 L753.2,653.4 L754.4,655.2 L755.5,656.8 L756.7,658.4 L757.8,659.8 L759.0,661.1 L760.1,662.3 L761.3,663.4 L762.4,664.4 L763.6,665.3 L764.7,666.2 L765.9,666.9 L767.0,667.6 L768.2,668.2 L769.4,668.7 L770.5,669.2 L771.7,669.6 L772.8,670.0 L774.0,670.3 L775.1,670.5 L776.3,670.8 L777.4,671.0 L778.6,671.2 L779.7,671.3 L780.9,671.4 L782.0,671.6 L783.2,671.6 L784.3,671.7 L785.5,671.8 L786.6,671.8 L787.8,671.9 L788.9,671.9 L790.1,672.0 L791.2,672.0 L792.4,672.0 L793.6,672.0 L794.7,672.0 L795.9,672.1 L797.0,672.1 L798.2,672.1 L799.3,672.1 L800.5,672.1 L801.6,672.1 L802.8,672.1 L803.9,672.1 L805.1,672.1 L806.2,672.1 L807.4,672.1 L808.5,672.1 L809.7,672.1 L810.8,672.1 L812.0,672.1 L813.1,672.1 L814.3,672.1" fill="none" stroke="#f00" stroke-width="0.95" stroke-linejoin="round" clip-path="url(#c16)"/>
<path d="M700.2,596.1 L701.4,598.3 L702.5,600.2 L703.7,601.9 L704.8,603.4 L706.0,604.6 L707.1,605.7 L708.3,606.6 L709.4,607.5 L710.6,608.3 L711.7,609.0 L712.9,609.7 L714.0,610.5 L715.2,611.2 L716.3,612.1 L717.5,612.9 L718.6,613.9 L719.8,615.0 L720.9,616.1 L722.1,617.4 L723.3,618.7 L724.4,620.2 L725.6,621.7 L726.7,623.4 L727.9,625.1 L729.0,626.9 L730.2,628.8 L731.3,630.7 L732.5,632.7 L733.6,634.7 L734.8,636.7 L735.9,638.7 L737.1,640.7 L738.2,642.7 L739.4,644.7 L740.5,646.6 L741.7,648.5 L742.8,650.3 L744.0,652.0 L745.1,653.7 L746.3,655.2 L747.5,656.7 L748.6,658.2 L749.8,659.5 L750.9,660.7 L752.1,661.9 L753.2,663.0 L754.4,664.0 L755.5,664.9 L756.7,665.7 L757.8,666.4 L759.0,667.1 L760.1,667.7 L761.3,668.3 L762.4,668.8 L763.6,669.2 L764.7,669.6 L765.9,670.0 L767.0,670.3 L768.2,670.5 L769.4,670.8 L770.5,671.0 L771.7,671.1 L772.8,671.3 L774.0,671.4 L775.1,671.5 L776.3,671.6 L777.4,671.7 L778.6,671.8 L779.7,671.8 L780.9,671.9 L782.0,671.9 L783.2,672.0 L784.3,672.0 L785.5,672.0 L786.6,672.0 L787.8,672.0 L788.9,672.0 L790.1,672.1 L791.2,672.1 L792.4,672.1 L793.6,672.1 L794.7,672.1 L795.9,672.1 L797.0,672.1 L798.2,672.1 L799.3,672.1 L800.5,672.1 L801.6,672.1 L802.8,672.1 L803.9,672.1 L805.1,672.1 L806.2,672.1 L807.4,672.1 L808.5,672.1 L809.7,672.1 L810.8,672.1 L812.0,672.1 L813.1,672.1 L814.3,672.1" fill="none" stroke="#00f" stroke-width="0.95" stroke-linejoin="round" clip-path="url(#c16)"/>
<text transform="translate(679.20 672.70) scale(1.012 1)" font-size="10.8" fill="#000" stroke="#000" stroke-width="0.55">0.0</text>
<text transform="translate(679.20 661.10) scale(1.012 1)" font-size="10.8" fill="#000" stroke="#000" stroke-width="0.55">0.2</text>
<text transform="translate(679.20 645.90) scale(1.012 1)" font-size="10.8" fill="#000" stroke="#000" stroke-width="0.55">0.4</text>
<text transform="translate(679.20 630.70) scale(1.012 1)" font-size="10.8" fill="#000" stroke="#000" stroke-width="0.55">0.6</text>
<text transform="translate(679.20 615.50) scale(1.012 1)" font-size="10.8" fill="#000" stroke="#000" stroke-width="0.55">0.8</text>
<text transform="translate(679.20 600.30) scale(1.012 1)" font-size="10.8" fill="#000" stroke="#000" stroke-width="0.55">1.0</text>
<text transform="translate(679.20 588.20) scale(1.012 1)" font-size="10.8" fill="#000" stroke="#000" stroke-width="0.55">1.2</text>
<text transform="translate(697.30 687.90) scale(1.000 1)" font-size="10.8" fill="#000" stroke="#000" stroke-width="0.55">0</text>
<text transform="translate(734.36 687.90) scale(1.000 1)" font-size="10.8" fill="#000" stroke="#000" stroke-width="0.55">1</text>
<text transform="translate(771.43 687.90) scale(1.000 1)" font-size="10.8" fill="#000" stroke="#000" stroke-width="0.55">2</text>
<text transform="translate(808.50 687.90) scale(1.000 1)" font-size="10.8" fill="#000" stroke="#000" stroke-width="0.55">3</text>
<text transform="translate(712.20 699.50) scale(0.913 1)" font-size="10.8" fill="#000" stroke="#000" stroke-width="0.55">True</text>
<text transform="translate(738.50 699.50) scale(0.980 1)" font-size="10.8" fill="#000" stroke="#000" stroke-width="0.55">slope</text>
<text transform="translate(770.10 699.50) scale(1.160 1)" font-size="10.8" fill="#000" stroke="#000" stroke-width="0.55" letter-spacing="0.011">[%/h]</text>
<text transform="translate(669.90 659.40) rotate(-90) translate(0.00 0) scale(0.980 1)" font-size="10.8" fill="#000" stroke="#000" stroke-width="0.55">Prob.</text>
<text transform="translate(669.90 628.70) rotate(-90) translate(0.00 0) scale(1.005 1)" font-size="10.8" fill="#000" stroke="#000" stroke-width="0.55">density</text>
<clipPath id="c17"><rect x="49.80" y="705.00" width="183.50" height="92.20"/></clipPath>
<rect x="50.30" y="705.50" width="182.50" height="91.20" fill="none" stroke="#000" stroke-width="1.55"/>
<path d="M50.30,796.70v-1.90M50.30,705.50v1.90M54.36,796.70v-0.95M54.36,705.50v0.95M58.41,796.70v-0.95M58.41,705.50v0.95M62.47,796.70v-0.95M62.47,705.50v0.95M66.52,796.70v-0.95M66.52,705.50v0.95M70.58,796.70v-0.95M70.58,705.50v0.95M74.63,796.70v-0.95M74.63,705.50v0.95M78.69,796.70v-0.95M78.69,705.50v0.95M82.74,796.70v-0.95M82.74,705.50v0.95M86.80,796.70v-0.95M86.80,705.50v0.95M90.86,796.70v-1.90M90.86,705.50v1.90M94.91,796.70v-0.95M94.91,705.50v0.95M98.97,796.70v-0.95M98.97,705.50v0.95M103.02,796.70v-0.95M103.02,705.50v0.95M107.08,796.70v-0.95M107.08,705.50v0.95M111.13,796.70v-0.95M111.13,705.50v0.95M115.19,796.70v-0.95M115.19,705.50v0.95M119.24,796.70v-0.95M119.24,705.50v0.95M123.30,796.70v-0.95M123.30,705.50v0.95M127.36,796.70v-0.95M127.36,705.50v0.95M131.41,796.70v-1.90M131.41,705.50v1.90M135.47,796.70v-0.95M135.47,705.50v0.95M139.52,796.70v-0.95M139.52,705.50v0.95M143.58,796.70v-0.95M143.58,705.50v0.95M147.63,796.70v-0.95M147.63,705.50v0.95M151.69,796.70v-0.95M151.69,705.50v0.95M155.74,796.70v-0.95M155.74,705.50v0.95M159.80,796.70v-0.95M159.80,705.50v0.95M163.86,796.70v-0.95M163.86,705.50v0.95M167.91,796.70v-0.95M167.91,705.50v0.95M171.97,796.70v-1.90M171.97,705.50v1.90M176.02,796.70v-0.95M176.02,705.50v0.95M180.08,796.70v-0.95M180.08,705.50v0.95M184.13,796.70v-0.95M184.13,705.50v0.95M188.19,796.70v-0.95M188.19,705.50v0.95M192.24,796.70v-0.95M192.24,705.50v0.95M196.30,796.70v-0.95M196.30,705.50v0.95M200.36,796.70v-0.95M200.36,705.50v0.95M204.41,796.70v-0.95M204.41,705.50v0.95M208.47,796.70v-0.95M208.47,705.50v0.95M212.52,796.70v-1.90M212.52,705.50v1.90M216.58,796.70v-0.95M216.58,705.50v0.95M220.63,796.70v-0.95M220.63,705.50v0.95M224.69,796.70v-0.95M224.69,705.50v0.95M228.74,796.70v-0.95M228.74,705.50v0.95M232.80,796.70v-0.95M232.80,705.50v0.95" stroke="#000" stroke-width="1.2" fill="none"/>
<path d="M50.30,796.70h3.70M232.80,796.70h-3.70M50.30,785.30h1.85M232.80,785.30h-1.85M50.30,773.90h3.70M232.80,773.90h-3.70M50.30,762.50h1.85M232.80,762.50h-1.85M50.30,751.10h3.70M232.80,751.10h-3.70M50.30,739.70h1.85M232.80,739.70h-1.85M50.30,728.30h3.70M232.80,728.30h-3.70M50.30,716.90h1.85M232.80,716.90h-1.85M50.30,705.50h3.70M232.80,705.50h-3.70" stroke="#000" stroke-width="1.4" fill="none"/>
<line x1="50.30" y1="751.10" x2="232.80" y2="751.10" stroke="#00f" stroke-width="1.2"/>
<path d="M73.82,747.70V765.14M69.82,747.70h8M69.82,765.14h8M90.13,754.72V771.93M86.13,754.72h8M86.13,771.93h8M106.66,757.21V774.42M102.66,757.21h8M102.66,774.42h8M122.97,742.26V759.48M118.97,742.26h8M118.97,759.48h8M139.28,753.36V770.35M135.28,753.36h8M135.28,770.35h8M155.81,738.18V755.40M151.81,738.18h8M151.81,755.40h8M172.12,719.61V736.83M168.12,719.61h8M168.12,736.83h8M188.66,721.20V745.89M184.66,721.20h8M184.66,745.89h8" stroke="#000" stroke-width="1.35" fill="none" clip-path="url(#c17)"/>
<circle cx="73.82" cy="756.30" r="2.45" fill="#000"/>
<circle cx="90.13" cy="763.33" r="2.45" fill="#000"/>
<circle cx="106.66" cy="765.82" r="2.45" fill="#000"/>
<circle cx="122.97" cy="750.87" r="2.45" fill="#000"/>
<circle cx="139.28" cy="761.74" r="2.45" fill="#000"/>
<circle cx="155.81" cy="746.57" r="2.45" fill="#000"/>
<circle cx="172.12" cy="728.22" r="2.45" fill="#000"/>
<circle cx="188.66" cy="733.43" r="2.45" fill="#000"/>
<line x1="74.05" y1="766.50" x2="188.66" y2="735.47" stroke="#f00" stroke-width="1.2"/>
<text transform="translate(18.80 797.30) scale(1.021 1)" font-size="10.8" fill="#000" stroke="#000" stroke-width="0.55">0.990</text>
<text transform="translate(18.80 778.10) scale(1.021 1)" font-size="10.8" fill="#000" stroke="#000" stroke-width="0.55">0.995</text>
<text transform="translate(18.80 755.30) scale(1.021 1)" font-size="10.8" fill="#000" stroke="#000" stroke-width="0.55">1.000</text>
<text transform="translate(18.80 732.50) scale(1.021 1)" font-size="10.8" fill="#000" stroke="#000" stroke-width="0.55">1.005</text>
<text transform="translate(18.80 712.80) scale(1.021 1)" font-size="10.8" fill="#000" stroke="#000" stroke-width="0.55">1.010</text>
<text transform="translate(46.70 812.50) scale(1.000 1)" font-size="10.8" fill="#000" stroke="#000" stroke-width="0.55">0</text>
<text transform="translate(84.40 812.50) scale(0.991 1)" font-size="10.8" fill="#000" stroke="#000" stroke-width="0.55">10</text>
<text transform="translate(125.05 812.50) scale(0.991 1)" font-size="10.8" fill="#000" stroke="#000" stroke-width="0.55">20</text>
<text transform="translate(165.70 812.50) scale(0.991 1)" font-size="10.8" fill="#000" stroke="#000" stroke-width="0.55">30</text>
<text transform="translate(206.35 812.50) scale(0.991 1)" font-size="10.8" fill="#000" stroke="#000" stroke-width="0.55">40</text>
<text transform="translate(123.05 824.90) scale(1.000 1)" font-size="10.8" fill="#000" stroke="#000" stroke-width="0.55">t</text>
<text transform="translate(132.05 824.90) scale(1.158 1)" font-size="10.8" fill="#000" stroke="#000" stroke-width="0.55">[min]</text>
<text transform="translate(8.90 777.30) rotate(-90) translate(0.00 0) scale(0.993 1)" font-size="10.8" fill="#000" stroke="#000" stroke-width="0.55">Norm.</text>
<text transform="translate(8.90 741.90) rotate(-90) translate(0.00 0) scale(1.012 1)" font-size="10.8" fill="#000" stroke="#000" stroke-width="0.55">flux</text>
<text transform="translate(57.30 719.60) scale(1.122 1)" font-size="10.8" fill="#000" stroke="#000" stroke-width="0.55">λ=J</text>
<text transform="translate(82.90 719.60) scale(0.982 1)" font-size="10.8" fill="#000" stroke="#000" stroke-width="0.55">Broadband</text>
<clipPath id="c18"><rect x="282.40" y="705.00" width="117.00" height="92.20"/></clipPath>
<rect x="282.90" y="705.50" width="116.00" height="91.20" fill="none" stroke="#000" stroke-width="1.55"/>
<path d="M284.80,796.70v-1.90M284.80,705.50v1.90M290.36,796.70v-0.95M290.36,705.50v0.95M295.92,796.70v-0.95M295.92,705.50v0.95M301.48,796.70v-0.95M301.48,705.50v0.95M307.04,796.70v-0.95M307.04,705.50v0.95M312.60,796.70v-1.90M312.60,705.50v1.90M318.16,796.70v-0.95M318.16,705.50v0.95M323.72,796.70v-0.95M323.72,705.50v0.95M329.28,796.70v-0.95M329.28,705.50v0.95M334.84,796.70v-0.95M334.84,705.50v0.95M340.40,796.70v-1.90M340.40,705.50v1.90M345.96,796.70v-0.95M345.96,705.50v0.95M351.52,796.70v-0.95M351.52,705.50v0.95M357.08,796.70v-0.95M357.08,705.50v0.95M362.64,796.70v-0.95M362.64,705.50v0.95M368.20,796.70v-1.90M368.20,705.50v1.90M373.76,796.70v-0.95M373.76,705.50v0.95M379.32,796.70v-0.95M379.32,705.50v0.95M384.88,796.70v-0.95M384.88,705.50v0.95M390.44,796.70v-0.95M390.44,705.50v0.95M396.00,796.70v-1.90M396.00,705.50v1.90" stroke="#000" stroke-width="1.2" fill="none"/>
<path d="M282.90,796.70h2.40M398.90,796.70h-2.40M282.90,795.18h1.20M398.90,795.18h-1.20M282.90,793.66h1.20M398.90,793.66h-1.20M282.90,792.14h1.20M398.90,792.14h-1.20M282.90,790.62h1.20M398.90,790.62h-1.20M282.90,789.10h1.20M398.90,789.10h-1.20M282.90,787.58h1.20M398.90,787.58h-1.20M282.90,786.06h1.20M398.90,786.06h-1.20M282.90,784.54h1.20M398.90,784.54h-1.20M282.90,783.02h1.20M398.90,783.02h-1.20M282.90,781.50h2.40M398.90,781.50h-2.40M282.90,779.98h1.20M398.90,779.98h-1.20M282.90,778.46h1.20M398.90,778.46h-1.20M282.90,776.94h1.20M398.90,776.94h-1.20M282.90,775.42h1.20M398.90,775.42h-1.20M282.90,773.90h1.20M398.90,773.90h-1.20M282.90,772.38h1.20M398.90,772.38h-1.20M282.90,770.86h1.20M398.90,770.86h-1.20M282.90,769.34h1.20M398.90,769.34h-1.20M282.90,767.82h1.20M398.90,767.82h-1.20M282.90,766.30h2.40M398.90,766.30h-2.40M282.90,764.78h1.20M398.90,764.78h-1.20M282.90,763.26h1.20M398.90,763.26h-1.20M282.90,761.74h1.20M398.90,761.74h-1.20M282.90,760.22h1.20M398.90,760.22h-1.20M282.90,758.70h1.20M398.90,758.70h-1.20M282.90,757.18h1.20M398.90,757.18h-1.20M282.90,755.66h1.20M398.90,755.66h-1.20M282.90,754.14h1.20M398.90,754.14h-1.20M282.90,752.62h1.20M398.90,752.62h-1.20M282.90,751.10h2.40M398.90,751.10h-2.40M282.90,749.58h1.20M398.90,749.58h-1.20M282.90,748.06h1.20M398.90,748.06h-1.20M282.90,746.54h1.20M398.90,746.54h-1.20M282.90,745.02h1.20M398.90,745.02h-1.20M282.90,743.50h1.20M398.90,743.50h-1.20M282.90,741.98h1.20M398.90,741.98h-1.20M282.90,740.46h1.20M398.90,740.46h-1.20M282.90,738.94h1.20M398.90,738.94h-1.20M282.90,737.42h1.20M398.90,737.42h-1.20M282.90,735.90h2.40M398.90,735.90h-2.40M282.90,734.38h1.20M398.90,734.38h-1.20M282.90,732.86h1.20M398.90,732.86h-1.20M282.90,731.34h1.20M398.90,731.34h-1.20M282.90,729.82h1.20M398.90,729.82h-1.20M282.90,728.30h1.20M398.90,728.30h-1.20M282.90,726.78h1.20M398.90,726.78h-1.20M282.90,725.26h1.20M398.90,725.26h-1.20M282.90,723.74h1.20M398.90,723.74h-1.20M282.90,722.22h1.20M398.90,722.22h-1.20M282.90,720.70h2.40M398.90,720.70h-2.40M282.90,719.18h1.20M398.90,719.18h-1.20M282.90,717.66h1.20M398.90,717.66h-1.20M282.90,716.14h1.20M398.90,716.14h-1.20M282.90,714.62h1.20M398.90,714.62h-1.20M282.90,713.10h1.20M398.90,713.10h-1.20M282.90,711.58h1.20M398.90,711.58h-1.20M282.90,710.06h1.20M398.90,710.06h-1.20M282.90,708.54h1.20M398.90,708.54h-1.20M282.90,707.02h1.20M398.90,707.02h-1.20M282.90,705.50h2.40M398.90,705.50h-2.40" stroke="#000" stroke-width="1.1" fill="none"/>
<path d="M284.8,720.7 L286.0,722.3 L287.1,723.8 L288.3,725.3 L289.4,726.7 L290.6,728.2 L291.7,729.6 L292.9,731.0 L294.0,732.3 L295.2,733.6 L296.3,734.9 L297.5,736.2 L298.6,737.4 L299.8,738.7 L300.9,739.8 L302.1,741.0 L303.2,742.2 L304.4,743.3 L305.5,744.4 L306.7,745.4 L307.9,746.5 L309.0,747.5 L310.2,748.5 L311.3,749.5 L312.5,750.5 L313.6,751.4 L314.8,752.4 L315.9,753.3 L317.1,754.2 L318.2,755.0 L319.4,755.9 L320.5,756.7 L321.7,757.5 L322.8,758.4 L324.0,759.1 L325.1,759.9 L326.3,760.7 L327.4,761.4 L328.6,762.1 L329.7,762.8 L330.9,763.5 L332.1,764.2 L333.2,764.9 L334.4,765.5 L335.5,766.2 L336.7,766.8 L337.8,767.4 L339.0,768.0 L340.1,768.6 L341.3,769.2 L342.4,769.7 L343.6,770.3 L344.7,770.8 L345.9,771.4 L347.0,771.9 L348.2,772.4 L349.3,772.9 L350.5,773.4 L351.6,773.9 L352.8,774.3 L354.0,774.8 L355.1,775.2 L356.3,775.7 L357.4,776.1 L358.6,776.5 L359.7,776.9 L360.9,777.4 L362.0,777.7 L363.2,778.1 L364.3,778.5 L365.5,778.9 L366.6,779.3 L367.8,779.6 L368.9,780.0 L370.1,780.3 L371.2,780.6 L372.4,781.0 L373.5,781.3 L374.7,781.6 L375.8,781.9 L377.0,782.2 L378.2,782.5 L379.3,782.8 L380.5,783.1 L381.6,783.4 L382.8,783.7 L383.9,783.9 L385.1,784.2 L386.2,784.4 L387.4,784.7 L388.5,784.9 L389.7,785.2 L390.8,785.4 L392.0,785.6 L393.1,785.9 L394.3,786.1 L395.4,786.3 L396.6,786.5 L397.7,786.7 L398.9,786.9" fill="none" stroke="#f00" stroke-width="0.6" stroke-linejoin="round" stroke-dasharray="5.6 5.0" clip-path="url(#c18)"/>
<path d="M284.8,720.7 L286.0,723.8 L287.1,726.7 L288.3,729.6 L289.4,732.3 L290.6,734.9 L291.7,737.4 L292.9,739.8 L294.0,742.2 L295.2,744.4 L296.3,746.5 L297.5,748.5 L298.6,750.5 L299.8,752.4 L300.9,754.2 L302.1,755.9 L303.2,757.5 L304.4,759.1 L305.5,760.7 L306.7,762.1 L307.9,763.5 L309.0,764.9 L310.2,766.2 L311.3,767.4 L312.5,768.6 L313.6,769.7 L314.8,770.8 L315.9,771.9 L317.1,772.9 L318.2,773.9 L319.4,774.8 L320.5,775.7 L321.7,776.5 L322.8,777.4 L324.0,778.1 L325.1,778.9 L326.3,779.6 L327.4,780.3 L328.6,781.0 L329.7,781.6 L330.9,782.2 L332.1,782.8 L333.2,783.4 L334.4,783.9 L335.5,784.4 L336.7,784.9 L337.8,785.4 L339.0,785.9 L340.1,786.3 L341.3,786.7 L342.4,787.1 L343.6,787.5 L344.7,787.9 L345.9,788.3 L347.0,788.6 L348.2,788.9 L349.3,789.2 L350.5,789.5 L351.6,789.8 L352.8,790.1 L354.0,790.4 L355.1,790.6 L356.3,790.9 L357.4,791.1 L358.6,791.3 L359.7,791.6 L360.9,791.8 L362.0,792.0 L363.2,792.2 L364.3,792.4 L365.5,792.5 L366.6,792.7 L367.8,792.9 L368.9,793.0 L370.1,793.2 L371.2,793.3 L372.4,793.4 L373.5,793.6 L374.7,793.7 L375.8,793.8 L377.0,793.9 L378.2,794.1 L379.3,794.2 L380.5,794.3 L381.6,794.4 L382.8,794.5 L383.9,794.6 L385.1,794.6 L386.2,794.7 L387.4,794.8 L388.5,794.9 L389.7,795.0 L390.8,795.0 L392.0,795.1 L393.1,795.2 L394.3,795.2 L395.4,795.3 L396.6,795.3 L397.7,795.4 L398.9,795.4" fill="none" stroke="#00f" stroke-width="0.6" stroke-linejoin="round" stroke-dasharray="5.6 5.0" clip-path="url(#c18)"/>
<path d="M284.8,788.4 L286.0,788.3 L287.1,788.0 L288.3,787.6 L289.4,786.9 L290.6,786.1 L291.7,785.0 L292.9,783.8 L294.0,782.4 L295.2,780.8 L296.3,779.0 L297.5,777.0 L298.6,774.9 L299.8,772.5 L300.9,770.1 L302.1,767.4 L303.2,764.6 L304.4,761.8 L305.5,758.8 L306.7,755.7 L307.9,752.6 L309.0,749.4 L310.2,746.3 L311.3,743.2 L312.5,740.2 L313.6,737.3 L314.8,734.5 L315.9,731.9 L317.1,729.5 L318.2,727.4 L319.4,725.5 L320.5,723.9 L321.7,722.6 L322.8,721.6 L324.0,721.0 L325.1,720.7 L326.3,720.8 L327.4,721.2 L328.6,722.0 L329.7,723.1 L330.9,724.6 L332.1,726.3 L333.2,728.3 L334.4,730.6 L335.5,733.1 L336.7,735.8 L337.8,738.7 L339.0,741.6 L340.1,744.7 L341.3,747.8 L342.4,751.0 L343.6,754.1 L344.7,757.2 L345.9,760.3 L347.0,763.3 L348.2,766.1 L349.3,768.9 L350.5,771.5 L351.6,774.0 L352.8,776.4 L354.0,778.5 L355.1,780.6 L356.3,782.4 L357.4,784.1 L358.6,785.7 L359.7,787.1 L360.9,788.4 L362.0,789.5 L363.2,790.5 L364.3,791.4 L365.5,792.2 L366.6,792.9 L367.8,793.5 L368.9,794.0 L370.1,794.4 L371.2,794.8 L372.4,795.1 L373.5,795.4 L374.7,795.6 L375.8,795.8 L377.0,796.0 L378.2,796.1 L379.3,796.2 L380.5,796.3 L381.6,796.4 L382.8,796.5 L383.9,796.5 L385.1,796.6 L386.2,796.6 L387.4,796.6 L388.5,796.6 L389.7,796.6 L390.8,796.7 L392.0,796.7 L393.1,796.7 L394.3,796.7 L395.4,796.7 L396.6,796.7 L397.7,796.7 L398.9,796.7" fill="none" stroke="#000" stroke-width="1.15" stroke-linejoin="round" clip-path="url(#c18)"/>
<path d="M284.8,780.3 L286.0,780.4 L287.1,780.2 L288.3,779.7 L289.4,778.8 L290.6,777.7 L291.7,776.3 L292.9,774.6 L294.0,772.7 L295.2,770.5 L296.3,768.2 L297.5,765.6 L298.6,762.9 L299.8,760.1 L300.9,757.2 L302.1,754.1 L303.2,751.1 L304.4,748.0 L305.5,744.9 L306.7,741.8 L307.9,738.9 L309.0,736.0 L310.2,733.3 L311.3,730.8 L312.5,728.5 L313.6,726.5 L314.8,724.7 L315.9,723.3 L317.1,722.1 L318.2,721.3 L319.4,720.8 L320.5,720.7 L321.7,720.9 L322.8,721.5 L324.0,722.5 L325.1,723.7 L326.3,725.3 L327.4,727.2 L328.6,729.3 L329.7,731.7 L330.9,734.3 L332.1,737.0 L333.2,739.9 L334.4,742.9 L335.5,746.0 L336.7,749.2 L337.8,752.3 L339.0,755.5 L340.1,758.6 L341.3,761.6 L342.4,764.5 L343.6,767.4 L344.7,770.1 L345.9,772.6 L347.0,775.0 L348.2,777.3 L349.3,779.4 L350.5,781.4 L351.6,783.2 L352.8,784.8 L354.0,786.3 L355.1,787.7 L356.3,788.9 L357.4,789.9 L358.6,790.9 L359.7,791.7 L360.9,792.5 L362.0,793.1 L363.2,793.7 L364.3,794.2 L365.5,794.6 L366.6,795.0 L367.8,795.3 L368.9,795.5 L370.1,795.7 L371.2,795.9 L372.4,796.1 L373.5,796.2 L374.7,796.3 L375.8,796.4 L377.0,796.4 L378.2,796.5 L379.3,796.5 L380.5,796.6 L381.6,796.6 L382.8,796.6 L383.9,796.6 L385.1,796.7 L386.2,796.7 L387.4,796.7 L388.5,796.7 L389.7,796.7 L390.8,796.7 L392.0,796.7 L393.1,796.7 L394.3,796.7 L395.4,796.7 L396.6,796.7 L397.7,796.7 L398.9,796.7" fill="none" stroke="#f00" stroke-width="0.95" stroke-linejoin="round" clip-path="url(#c18)"/>
<path d="M284.8,767.0 L286.0,767.9 L287.1,768.1 L288.3,767.8 L289.4,767.0 L290.6,765.7 L291.7,764.1 L292.9,762.1 L294.0,759.8 L295.2,757.4 L296.3,754.7 L297.5,751.9 L298.6,749.0 L299.8,746.1 L300.9,743.2 L302.1,740.2 L303.2,737.4 L304.4,734.7 L305.5,732.1 L306.7,729.7 L307.9,727.6 L309.0,725.6 L310.2,724.0 L311.3,722.7 L312.5,721.7 L313.6,721.0 L314.8,720.7 L315.9,720.7 L317.1,721.1 L318.2,721.9 L319.4,722.9 L320.5,724.3 L321.7,726.0 L322.8,728.0 L324.0,730.3 L325.1,732.7 L326.3,735.4 L327.4,738.2 L328.6,741.2 L329.7,744.3 L330.9,747.4 L332.1,750.5 L333.2,753.7 L334.4,756.8 L335.5,759.9 L336.7,762.9 L337.8,765.7 L339.0,768.5 L340.1,771.2 L341.3,773.7 L342.4,776.0 L343.6,778.2 L344.7,780.3 L345.9,782.2 L347.0,783.9 L348.2,785.5 L349.3,786.9 L350.5,788.2 L351.6,789.3 L352.8,790.4 L354.0,791.3 L355.1,792.1 L356.3,792.8 L357.4,793.4 L358.6,793.9 L359.7,794.4 L360.9,794.8 L362.0,795.1 L363.2,795.4 L364.3,795.6 L365.5,795.8 L366.6,796.0 L367.8,796.1 L368.9,796.2 L370.1,796.3 L371.2,796.4 L372.4,796.5 L373.5,796.5 L374.7,796.6 L375.8,796.6 L377.0,796.6 L378.2,796.6 L379.3,796.6 L380.5,796.7 L381.6,796.7 L382.8,796.7 L383.9,796.7 L385.1,796.7 L386.2,796.7 L387.4,796.7 L388.5,796.7 L389.7,796.7 L390.8,796.7 L392.0,796.7 L393.1,796.7 L394.3,796.7 L395.4,796.7 L396.6,796.7 L397.7,796.7 L398.9,796.7" fill="none" stroke="#00f" stroke-width="0.95" stroke-linejoin="round" clip-path="url(#c18)"/>
<text transform="translate(263.80 797.30) scale(1.012 1)" font-size="10.8" fill="#000" stroke="#000" stroke-width="0.55">0.0</text>
<text transform="translate(263.80 785.70) scale(1.012 1)" font-size="10.8" fill="#000" stroke="#000" stroke-width="0.55">0.2</text>
<text transform="translate(263.80 770.50) scale(1.012 1)" font-size="10.8" fill="#000" stroke="#000" stroke-width="0.55">0.4</text>
<text transform="translate(263.80 755.30) scale(1.012 1)" font-size="10.8" fill="#000" stroke="#000" stroke-width="0.55">0.6</text>
<text transform="translate(263.80 740.10) scale(1.012 1)" font-size="10.8" fill="#000" stroke="#000" stroke-width="0.55">0.8</text>
<text transform="translate(263.80 724.90) scale(1.012 1)" font-size="10.8" fill="#000" stroke="#000" stroke-width="0.55">1.0</text>
<text transform="translate(263.80 712.80) scale(1.012 1)" font-size="10.8" fill="#000" stroke="#000" stroke-width="0.55">1.2</text>
<text transform="translate(281.90 812.50) scale(1.000 1)" font-size="10.8" fill="#000" stroke="#000" stroke-width="0.55">0</text>
<text transform="translate(309.70 812.50) scale(1.000 1)" font-size="10.8" fill="#000" stroke="#000" stroke-width="0.55">1</text>
<text transform="translate(337.50 812.50) scale(1.000 1)" font-size="10.8" fill="#000" stroke="#000" stroke-width="0.55">2</text>
<text transform="translate(365.30 812.50) scale(1.000 1)" font-size="10.8" fill="#000" stroke="#000" stroke-width="0.55">3</text>
<text transform="translate(393.10 812.50) scale(1.000 1)" font-size="10.8" fill="#000" stroke="#000" stroke-width="0.55">4</text>
<text transform="translate(296.80 824.10) scale(0.913 1)" font-size="10.8" fill="#000" stroke="#000" stroke-width="0.55">True</text>
<text transform="translate(323.10 824.10) scale(0.980 1)" font-size="10.8" fill="#000" stroke="#000" stroke-width="0.55">slope</text>
<text transform="translate(354.70 824.10) scale(1.160 1)" font-size="10.8" fill="#000" stroke="#000" stroke-width="0.55" letter-spacing="0.011">[%/h]</text>
<text transform="translate(254.50 784.00) rotate(-90) translate(0.00 0) scale(0.980 1)" font-size="10.8" fill="#000" stroke="#000" stroke-width="0.55">Prob.</text>
<text transform="translate(254.50 753.30) rotate(-90) translate(0.00 0) scale(1.005 1)" font-size="10.8" fill="#000" stroke="#000" stroke-width="0.55">density</text>
<clipPath id="c19"><rect x="465.20" y="705.00" width="183.50" height="92.20"/></clipPath>
<rect x="465.70" y="705.50" width="182.50" height="91.20" fill="none" stroke="#000" stroke-width="1.55"/>
<path d="M465.70,796.70v-1.90M465.70,705.50v1.90M469.76,796.70v-0.95M469.76,705.50v0.95M473.81,796.70v-0.95M473.81,705.50v0.95M477.87,796.70v-0.95M477.87,705.50v0.95M481.92,796.70v-0.95M481.92,705.50v0.95M485.98,796.70v-0.95M485.98,705.50v0.95M490.03,796.70v-0.95M490.03,705.50v0.95M494.09,796.70v-0.95M494.09,705.50v0.95M498.14,796.70v-0.95M498.14,705.50v0.95M502.20,796.70v-0.95M502.20,705.50v0.95M506.26,796.70v-1.90M506.26,705.50v1.90M510.31,796.70v-0.95M510.31,705.50v0.95M514.37,796.70v-0.95M514.37,705.50v0.95M518.42,796.70v-0.95M518.42,705.50v0.95M522.48,796.70v-0.95M522.48,705.50v0.95M526.53,796.70v-0.95M526.53,705.50v0.95M530.59,796.70v-0.95M530.59,705.50v0.95M534.64,796.70v-0.95M534.64,705.50v0.95M538.70,796.70v-0.95M538.70,705.50v0.95M542.76,796.70v-0.95M542.76,705.50v0.95M546.81,796.70v-1.90M546.81,705.50v1.90M550.87,796.70v-0.95M550.87,705.50v0.95M554.92,796.70v-0.95M554.92,705.50v0.95M558.98,796.70v-0.95M558.98,705.50v0.95M563.03,796.70v-0.95M563.03,705.50v0.95M567.09,796.70v-0.95M567.09,705.50v0.95M571.14,796.70v-0.95M571.14,705.50v0.95M575.20,796.70v-0.95M575.20,705.50v0.95M579.26,796.70v-0.95M579.26,705.50v0.95M583.31,796.70v-0.95M583.31,705.50v0.95M587.37,796.70v-1.90M587.37,705.50v1.90M591.42,796.70v-0.95M591.42,705.50v0.95M595.48,796.70v-0.95M595.48,705.50v0.95M599.53,796.70v-0.95M599.53,705.50v0.95M603.59,796.70v-0.95M603.59,705.50v0.95M607.64,796.70v-0.95M607.64,705.50v0.95M611.70,796.70v-0.95M611.70,705.50v0.95M615.76,796.70v-0.95M615.76,705.50v0.95M619.81,796.70v-0.95M619.81,705.50v0.95M623.87,796.70v-0.95M623.87,705.50v0.95M627.92,796.70v-1.90M627.92,705.50v1.90M631.98,796.70v-0.95M631.98,705.50v0.95M636.03,796.70v-0.95M636.03,705.50v0.95M640.09,796.70v-0.95M640.09,705.50v0.95M644.14,796.70v-0.95M644.14,705.50v0.95M648.20,796.70v-0.95M648.20,705.50v0.95" stroke="#000" stroke-width="1.2" fill="none"/>
<path d="M465.70,796.70h3.70M648.20,796.70h-3.70M465.70,785.30h1.85M648.20,785.30h-1.85M465.70,773.90h3.70M648.20,773.90h-3.70M465.70,762.50h1.85M648.20,762.50h-1.85M465.70,751.10h3.70M648.20,751.10h-3.70M465.70,739.70h1.85M648.20,739.70h-1.85M465.70,728.30h3.70M648.20,728.30h-3.70M465.70,716.90h1.85M648.20,716.90h-1.85M465.70,705.50h3.70M648.20,705.50h-3.70" stroke="#000" stroke-width="1.4" fill="none"/>
<line x1="465.70" y1="751.10" x2="648.20" y2="751.10" stroke="#00f" stroke-width="1.2"/>
<path d="M489.05,747.70V762.65M485.05,747.70h8M485.05,762.65h8M505.13,745.66V760.61M501.13,745.66h8M501.13,760.61h8M521.66,748.83V763.78M517.66,748.83h8M517.66,763.78h8M538.20,743.62V758.57M534.20,743.62h8M534.20,758.57h8M554.51,750.87V765.82M550.51,750.87h8M550.51,765.82h8M570.81,741.36V755.85M566.81,741.36h8M566.81,755.85h8M587.35,732.75V747.47M583.35,732.75h8M583.35,747.47h8M603.66,731.84V755.17M599.66,731.84h8M599.66,755.17h8" stroke="#000" stroke-width="1.35" fill="none" clip-path="url(#c19)"/>
<circle cx="489.05" cy="754.95" r="2.45" fill="#000"/>
<circle cx="505.13" cy="752.91" r="2.45" fill="#000"/>
<circle cx="521.66" cy="756.30" r="2.45" fill="#000"/>
<circle cx="538.20" cy="751.10" r="2.45" fill="#000"/>
<circle cx="554.51" cy="758.34" r="2.45" fill="#000"/>
<circle cx="570.81" cy="748.38" r="2.45" fill="#000"/>
<circle cx="587.35" cy="740.22" r="2.45" fill="#000"/>
<circle cx="603.66" cy="743.39" r="2.45" fill="#000"/>
<line x1="489.05" y1="757.89" x2="603.66" y2="744.07" stroke="#f00" stroke-width="1.2"/>
<text transform="translate(434.20 797.30) scale(1.021 1)" font-size="10.8" fill="#000" stroke="#000" stroke-width="0.55">0.990</text>
<text transform="translate(434.20 778.10) scale(1.021 1)" font-size="10.8" fill="#000" stroke="#000" stroke-width="0.55">0.995</text>
<text transform="translate(434.20 755.30) scale(1.021 1)" font-size="10.8" fill="#000" stroke="#000" stroke-width="0.55">1.000</text>
<text transform="translate(434.20 732.50) scale(1.021 1)" font-size="10.8" fill="#000" stroke="#000" stroke-width="0.55">1.005</text>
<text transform="translate(434.20 712.80) scale(1.021 1)" font-size="10.8" fill="#000" stroke="#000" stroke-width="0.55">1.010</text>
<text transform="translate(462.10 812.50) scale(1.000 1)" font-size="10.8" fill="#000" stroke="#000" stroke-width="0.55">0</text>
<text transform="translate(499.80 812.50) scale(0.991 1)" font-size="10.8" fill="#000" stroke="#000" stroke-width="0.55">10</text>
<text transform="translate(540.45 812.50) scale(0.991 1)" font-size="10.8" fill="#000" stroke="#000" stroke-width="0.55">20</text>
<text transform="translate(581.10 812.50) scale(0.991 1)" font-size="10.8" fill="#000" stroke="#000" stroke-width="0.55">30</text>
<text transform="translate(621.75 812.50) scale(0.991 1)" font-size="10.8" fill="#000" stroke="#000" stroke-width="0.55">40</text>
<text transform="translate(538.45 824.90) scale(1.000 1)" font-size="10.8" fill="#000" stroke="#000" stroke-width="0.55">t</text>
<text transform="translate(547.45 824.90) scale(1.158 1)" font-size="10.8" fill="#000" stroke="#000" stroke-width="0.55">[min]</text>
<text transform="translate(424.30 777.30) rotate(-90) translate(0.00 0) scale(0.993 1)" font-size="10.8" fill="#000" stroke="#000" stroke-width="0.55">Norm.</text>
<text transform="translate(424.30 741.90) rotate(-90) translate(0.00 0) scale(1.012 1)" font-size="10.8" fill="#000" stroke="#000" stroke-width="0.55">flux</text>
<text transform="translate(472.30 719.60) scale(1.087 1)" font-size="10.8" fill="#000" stroke="#000" stroke-width="0.55">λ=H</text>
<text transform="translate(500.10 719.60) scale(1.001 1)" font-size="10.8" fill="#000" stroke="#000" stroke-width="0.55">broadband</text>
<clipPath id="c20"><rect x="697.80" y="705.00" width="117.00" height="92.20"/></clipPath>
<rect x="698.30" y="705.50" width="116.00" height="91.20" fill="none" stroke="#000" stroke-width="1.55"/>
<path d="M700.20,796.70v-1.90M700.20,705.50v1.90M705.76,796.70v-0.95M705.76,705.50v0.95M711.32,796.70v-0.95M711.32,705.50v0.95M716.88,796.70v-0.95M716.88,705.50v0.95M722.44,796.70v-0.95M722.44,705.50v0.95M728.00,796.70v-1.90M728.00,705.50v1.90M733.56,796.70v-0.95M733.56,705.50v0.95M739.12,796.70v-0.95M739.12,705.50v0.95M744.68,796.70v-0.95M744.68,705.50v0.95M750.24,796.70v-0.95M750.24,705.50v0.95M755.80,796.70v-1.90M755.80,705.50v1.90M761.36,796.70v-0.95M761.36,705.50v0.95M766.92,796.70v-0.95M766.92,705.50v0.95M772.48,796.70v-0.95M772.48,705.50v0.95M778.04,796.70v-0.95M778.04,705.50v0.95M783.60,796.70v-1.90M783.60,705.50v1.90M789.16,796.70v-0.95M789.16,705.50v0.95M794.72,796.70v-0.95M794.72,705.50v0.95M800.28,796.70v-0.95M800.28,705.50v0.95M805.84,796.70v-0.95M805.84,705.50v0.95M811.40,796.70v-1.90M811.40,705.50v1.90" stroke="#000" stroke-width="1.2" fill="none"/>
<path d="M698.30,796.70h2.40M814.30,796.70h-2.40M698.30,795.18h1.20M814.30,795.18h-1.20M698.30,793.66h1.20M814.30,793.66h-1.20M698.30,792.14h1.20M814.30,792.14h-1.20M698.30,790.62h1.20M814.30,790.62h-1.20M698.30,789.10h1.20M814.30,789.10h-1.20M698.30,787.58h1.20M814.30,787.58h-1.20M698.30,786.06h1.20M814.30,786.06h-1.20M698.30,784.54h1.20M814.30,784.54h-1.20M698.30,783.02h1.20M814.30,783.02h-1.20M698.30,781.50h2.40M814.30,781.50h-2.40M698.30,779.98h1.20M814.30,779.98h-1.20M698.30,778.46h1.20M814.30,778.46h-1.20M698.30,776.94h1.20M814.30,776.94h-1.20M698.30,775.42h1.20M814.30,775.42h-1.20M698.30,773.90h1.20M814.30,773.90h-1.20M698.30,772.38h1.20M814.30,772.38h-1.20M698.30,770.86h1.20M814.30,770.86h-1.20M698.30,769.34h1.20M814.30,769.34h-1.20M698.30,767.82h1.20M814.30,767.82h-1.20M698.30,766.30h2.40M814.30,766.30h-2.40M698.30,764.78h1.20M814.30,764.78h-1.20M698.30,763.26h1.20M814.30,763.26h-1.20M698.30,761.74h1.20M814.30,761.74h-1.20M698.30,760.22h1.20M814.30,760.22h-1.20M698.30,758.70h1.20M814.30,758.70h-1.20M698.30,757.18h1.20M814.30,757.18h-1.20M698.30,755.66h1.20M814.30,755.66h-1.20M698.30,754.14h1.20M814.30,754.14h-1.20M698.30,752.62h1.20M814.30,752.62h-1.20M698.30,751.10h2.40M814.30,751.10h-2.40M698.30,749.58h1.20M814.30,749.58h-1.20M698.30,748.06h1.20M814.30,748.06h-1.20M698.30,746.54h1.20M814.30,746.54h-1.20M698.30,745.02h1.20M814.30,745.02h-1.20M698.30,743.50h1.20M814.30,743.50h-1.20M698.30,741.98h1.20M814.30,741.98h-1.20M698.30,740.46h1.20M814.30,740.46h-1.20M698.30,738.94h1.20M814.30,738.94h-1.20M698.30,737.42h1.20M814.30,737.42h-1.20M698.30,735.90h2.40M814.30,735.90h-2.40M698.30,734.38h1.20M814.30,734.38h-1.20M698.30,732.86h1.20M814.30,732.86h-1.20M698.30,731.34h1.20M814.30,731.34h-1.20M698.30,729.82h1.20M814.30,729.82h-1.20M698.30,728.30h1.20M814.30,728.30h-1.20M698.30,726.78h1.20M814.30,726.78h-1.20M698.30,725.26h1.20M814.30,725.26h-1.20M698.30,723.74h1.20M814.30,723.74h-1.20M698.30,722.22h1.20M814.30,722.22h-1.20M698.30,720.70h2.40M814.30,720.70h-2.40M698.30,719.18h1.20M814.30,719.18h-1.20M698.30,717.66h1.20M814.30,717.66h-1.20M698.30,716.14h1.20M814.30,716.14h-1.20M698.30,714.62h1.20M814.30,714.62h-1.20M698.30,713.10h1.20M814.30,713.10h-1.20M698.30,711.58h1.20M814.30,711.58h-1.20M698.30,710.06h1.20M814.30,710.06h-1.20M698.30,708.54h1.20M814.30,708.54h-1.20M698.30,707.02h1.20M814.30,707.02h-1.20M698.30,705.50h2.40M814.30,705.50h-2.40" stroke="#000" stroke-width="1.1" fill="none"/>
<path d="M700.2,720.7 L701.4,721.5 L702.5,722.3 L703.7,723.0 L704.8,723.8 L706.0,724.5 L707.1,725.3 L708.3,726.0 L709.4,726.7 L710.6,727.5 L711.7,728.2 L712.9,728.9 L714.0,729.6 L715.2,730.3 L716.3,731.0 L717.5,731.6 L718.6,732.3 L719.8,733.0 L720.9,733.6 L722.1,734.3 L723.3,734.9 L724.4,735.6 L725.6,736.2 L726.7,736.8 L727.9,737.4 L729.0,738.0 L730.2,738.7 L731.3,739.3 L732.5,739.8 L733.6,740.4 L734.8,741.0 L735.9,741.6 L737.1,742.2 L738.2,742.7 L739.4,743.3 L740.5,743.8 L741.7,744.4 L742.8,744.9 L744.0,745.4 L745.1,746.0 L746.3,746.5 L747.5,747.0 L748.6,747.5 L749.8,748.0 L750.9,748.5 L752.1,749.0 L753.2,749.5 L754.4,750.0 L755.5,750.5 L756.7,751.0 L757.8,751.4 L759.0,751.9 L760.1,752.4 L761.3,752.8 L762.4,753.3 L763.6,753.7 L764.7,754.2 L765.9,754.6 L767.0,755.0 L768.2,755.5 L769.4,755.9 L770.5,756.3 L771.7,756.7 L772.8,757.1 L774.0,757.5 L775.1,758.0 L776.3,758.4 L777.4,758.7 L778.6,759.1 L779.7,759.5 L780.9,759.9 L782.0,760.3 L783.2,760.7 L784.3,761.0 L785.5,761.4 L786.6,761.8 L787.8,762.1 L788.9,762.5 L790.1,762.8 L791.2,763.2 L792.4,763.5 L793.6,763.9 L794.7,764.2 L795.9,764.5 L797.0,764.9 L798.2,765.2 L799.3,765.5 L800.5,765.9 L801.6,766.2 L802.8,766.5 L803.9,766.8 L805.1,767.1 L806.2,767.4 L807.4,767.7 L808.5,768.0 L809.7,768.3 L810.8,768.6 L812.0,768.9 L813.1,769.2 L814.3,769.5" fill="none" stroke="#f00" stroke-width="0.6" stroke-linejoin="round" stroke-dasharray="5.6 5.0" clip-path="url(#c20)"/>
<path d="M700.2,720.7 L701.4,722.3 L702.5,723.8 L703.7,725.3 L704.8,726.7 L706.0,728.2 L707.1,729.6 L708.3,731.0 L709.4,732.3 L710.6,733.6 L711.7,734.9 L712.9,736.2 L714.0,737.4 L715.2,738.7 L716.3,739.8 L717.5,741.0 L718.6,742.2 L719.8,743.3 L720.9,744.4 L722.1,745.4 L723.3,746.5 L724.4,747.5 L725.6,748.5 L726.7,749.5 L727.9,750.5 L729.0,751.4 L730.2,752.4 L731.3,753.3 L732.5,754.2 L733.6,755.0 L734.8,755.9 L735.9,756.7 L737.1,757.5 L738.2,758.4 L739.4,759.1 L740.5,759.9 L741.7,760.7 L742.8,761.4 L744.0,762.1 L745.1,762.8 L746.3,763.5 L747.5,764.2 L748.6,764.9 L749.8,765.5 L750.9,766.2 L752.1,766.8 L753.2,767.4 L754.4,768.0 L755.5,768.6 L756.7,769.2 L757.8,769.7 L759.0,770.3 L760.1,770.8 L761.3,771.4 L762.4,771.9 L763.6,772.4 L764.7,772.9 L765.9,773.4 L767.0,773.9 L768.2,774.3 L769.4,774.8 L770.5,775.2 L771.7,775.7 L772.8,776.1 L774.0,776.5 L775.1,776.9 L776.3,777.4 L777.4,777.7 L778.6,778.1 L779.7,778.5 L780.9,778.9 L782.0,779.3 L783.2,779.6 L784.3,780.0 L785.5,780.3 L786.6,780.6 L787.8,781.0 L788.9,781.3 L790.1,781.6 L791.2,781.9 L792.4,782.2 L793.6,782.5 L794.7,782.8 L795.9,783.1 L797.0,783.4 L798.2,783.7 L799.3,783.9 L800.5,784.2 L801.6,784.4 L802.8,784.7 L803.9,784.9 L805.1,785.2 L806.2,785.4 L807.4,785.6 L808.5,785.9 L809.7,786.1 L810.8,786.3 L812.0,786.5 L813.1,786.7 L814.3,786.9" fill="none" stroke="#00f" stroke-width="0.6" stroke-linejoin="round" stroke-dasharray="5.6 5.0" clip-path="url(#c20)"/>
<path d="M700.2,734.0 L701.4,734.0 L702.5,733.9 L703.7,733.7 L704.8,733.4 L706.0,733.0 L707.1,732.6 L708.3,732.1 L709.4,731.5 L710.6,730.9 L711.7,730.3 L712.9,729.6 L714.0,728.9 L715.2,728.1 L716.3,727.4 L717.5,726.6 L718.6,725.9 L719.8,725.1 L720.9,724.4 L722.1,723.7 L723.3,723.1 L724.4,722.5 L725.6,722.0 L726.7,721.6 L727.9,721.2 L729.0,721.0 L730.2,720.8 L731.3,720.7 L732.5,720.7 L733.6,720.8 L734.8,721.1 L735.9,721.4 L737.1,721.9 L738.2,722.5 L739.4,723.1 L740.5,723.9 L741.7,724.8 L742.8,725.9 L744.0,727.0 L745.1,728.2 L746.3,729.5 L747.5,730.9 L748.6,732.4 L749.8,734.0 L750.9,735.7 L752.1,737.4 L753.2,739.1 L754.4,740.9 L755.5,742.8 L756.7,744.7 L757.8,746.6 L759.0,748.5 L760.1,750.5 L761.3,752.4 L762.4,754.4 L763.6,756.3 L764.7,758.2 L765.9,760.1 L767.0,762.0 L768.2,763.9 L769.4,765.6 L770.5,767.4 L771.7,769.1 L772.8,770.8 L774.0,772.4 L775.1,773.9 L776.3,775.4 L777.4,776.8 L778.6,778.2 L779.7,779.5 L780.9,780.8 L782.0,781.9 L783.2,783.1 L784.3,784.1 L785.5,785.1 L786.6,786.1 L787.8,786.9 L788.9,787.8 L790.1,788.5 L791.2,789.3 L792.4,789.9 L793.6,790.5 L794.7,791.1 L795.9,791.6 L797.0,792.1 L798.2,792.6 L799.3,793.0 L800.5,793.4 L801.6,793.7 L802.8,794.0 L803.9,794.3 L805.1,794.6 L806.2,794.8 L807.4,795.0 L808.5,795.2 L809.7,795.4 L810.8,795.5 L812.0,795.7 L813.1,795.8 L814.3,795.9" fill="none" stroke="#000" stroke-width="1.15" stroke-linejoin="round" clip-path="url(#c20)"/>
<path d="M700.2,720.7 L701.4,721.4 L702.5,722.1 L703.7,722.6 L704.8,723.0 L706.0,723.4 L707.1,723.6 L708.3,723.8 L709.4,724.0 L710.6,724.0 L711.7,724.1 L712.9,724.1 L714.0,724.1 L715.2,724.0 L716.3,724.0 L717.5,723.9 L718.6,723.9 L719.8,723.9 L720.9,724.0 L722.1,724.0 L723.3,724.2 L724.4,724.4 L725.6,724.6 L726.7,724.9 L727.9,725.3 L729.0,725.8 L730.2,726.4 L731.3,727.0 L732.5,727.8 L733.6,728.6 L734.8,729.5 L735.9,730.5 L737.1,731.6 L738.2,732.7 L739.4,734.0 L740.5,735.3 L741.7,736.7 L742.8,738.2 L744.0,739.7 L745.1,741.3 L746.3,742.9 L747.5,744.6 L748.6,746.3 L749.8,748.0 L750.9,749.8 L752.1,751.6 L753.2,753.4 L754.4,755.2 L755.5,757.0 L756.7,758.7 L757.8,760.5 L759.0,762.3 L760.1,764.0 L761.3,765.7 L762.4,767.4 L763.6,769.0 L764.7,770.6 L765.9,772.1 L767.0,773.6 L768.2,775.1 L769.4,776.5 L770.5,777.8 L771.7,779.1 L772.8,780.3 L774.0,781.5 L775.1,782.6 L776.3,783.7 L777.4,784.7 L778.6,785.6 L779.7,786.5 L780.9,787.3 L782.0,788.1 L783.2,788.9 L784.3,789.5 L785.5,790.2 L786.6,790.8 L787.8,791.3 L788.9,791.8 L790.1,792.3 L791.2,792.7 L792.4,793.1 L793.6,793.5 L794.7,793.8 L795.9,794.1 L797.0,794.4 L798.2,794.6 L799.3,794.9 L800.5,795.1 L801.6,795.2 L802.8,795.4 L803.9,795.6 L805.1,795.7 L806.2,795.8 L807.4,795.9 L808.5,796.0 L809.7,796.1 L810.8,796.2 L812.0,796.2 L813.1,796.3 L814.3,796.4" fill="none" stroke="#f00" stroke-width="0.95" stroke-linejoin="round" clip-path="url(#c20)"/>
<path d="M700.2,720.7 L701.4,722.2 L702.5,723.6 L703.7,724.9 L704.8,726.0 L706.0,727.1 L707.1,728.0 L708.3,728.9 L709.4,729.8 L710.6,730.5 L711.7,731.2 L712.9,731.9 L714.0,732.6 L715.2,733.2 L716.3,733.8 L717.5,734.4 L718.6,735.0 L719.8,735.7 L720.9,736.3 L722.1,737.0 L723.3,737.8 L724.4,738.5 L725.6,739.3 L726.7,740.2 L727.9,741.1 L729.0,742.0 L730.2,743.0 L731.3,744.0 L732.5,745.1 L733.6,746.3 L734.8,747.5 L735.9,748.7 L737.1,750.0 L738.2,751.3 L739.4,752.6 L740.5,754.0 L741.7,755.4 L742.8,756.8 L744.0,758.2 L745.1,759.7 L746.3,761.2 L747.5,762.6 L748.6,764.1 L749.8,765.5 L750.9,767.0 L752.1,768.4 L753.2,769.8 L754.4,771.2 L755.5,772.5 L756.7,773.9 L757.8,775.2 L759.0,776.4 L760.1,777.6 L761.3,778.8 L762.4,779.9 L763.6,781.0 L764.7,782.1 L765.9,783.1 L767.0,784.1 L768.2,785.0 L769.4,785.8 L770.5,786.7 L771.7,787.4 L772.8,788.2 L774.0,788.9 L775.1,789.5 L776.3,790.1 L777.4,790.7 L778.6,791.2 L779.7,791.7 L780.9,792.2 L782.0,792.6 L783.2,793.0 L784.3,793.3 L785.5,793.7 L786.6,794.0 L787.8,794.2 L788.9,794.5 L790.1,794.7 L791.2,794.9 L792.4,795.1 L793.6,795.3 L794.7,795.5 L795.9,795.6 L797.0,795.7 L798.2,795.8 L799.3,795.9 L800.5,796.0 L801.6,796.1 L802.8,796.2 L803.9,796.3 L805.1,796.3 L806.2,796.4 L807.4,796.4 L808.5,796.4 L809.7,796.5 L810.8,796.5 L812.0,796.5 L813.1,796.6 L814.3,796.6" fill="none" stroke="#00f" stroke-width="0.95" stroke-linejoin="round" clip-path="url(#c20)"/>
<text transform="translate(679.20 797.30) scale(1.012 1)" font-size="10.8" fill="#000" stroke="#000" stroke-width="0.55">0.0</text>
<text transform="translate(679.20 785.70) scale(1.012 1)" font-size="10.8" fill="#000" stroke="#000" stroke-width="0.55">0.2</text>
<text transform="translate(679.20 770.50) scale(1.012 1)" font-size="10.8" fill="#000" stroke="#000" stroke-width="0.55">0.4</text>
<text transform="translate(679.20 755.30) scale(1.012 1)" font-size="10.8" fill="#000" stroke="#000" stroke-width="0.55">0.6</text>
<text transform="translate(679.20 740.10) scale(1.012 1)" font-size="10.8" fill="#000" stroke="#000" stroke-width="0.55">0.8</text>
<text transform="translate(679.20 724.90) scale(1.012 1)" font-size="10.8" fill="#000" stroke="#000" stroke-width="0.55">1.0</text>
<text transform="translate(679.20 712.80) scale(1.012 1)" font-size="10.8" fill="#000" stroke="#000" stroke-width="0.55">1.2</text>
<text transform="translate(692.80 812.50) scale(0.999 1)" font-size="10.8" fill="#000" stroke="#000" stroke-width="0.55">0.0</text>
<text transform="translate(720.60 812.50) scale(0.999 1)" font-size="10.8" fill="#000" stroke="#000" stroke-width="0.55">0.5</text>
<text transform="translate(748.40 812.50) scale(0.999 1)" font-size="10.8" fill="#000" stroke="#000" stroke-width="0.55">1.0</text>
<text transform="translate(776.20 812.50) scale(0.999 1)" font-size="10.8" fill="#000" stroke="#000" stroke-width="0.55">1.5</text>
<text transform="translate(804.00 812.50) scale(0.999 1)" font-size="10.8" fill="#000" stroke="#000" stroke-width="0.55">2.0</text>
<text transform="translate(712.20 824.10) scale(0.913 1)" font-size="10.8" fill="#000" stroke="#000" stroke-width="0.55">True</text>
<text transform="translate(738.50 824.10) scale(0.980 1)" font-size="10.8" fill="#000" stroke="#000" stroke-width="0.55">slope</text>
<text transform="translate(770.10 824.10) scale(1.160 1)" font-size="10.8" fill="#000" stroke="#000" stroke-width="0.55" letter-spacing="0.011">[%/h]</text>
<text transform="translate(669.90 784.00) rotate(-90) translate(0.00 0) scale(0.980 1)" font-size="10.8" fill="#000" stroke="#000" stroke-width="0.55">Prob.</text>
<text transform="translate(669.90 753.30) rotate(-90) translate(0.00 0) scale(1.005 1)" font-size="10.8" fill="#000" stroke="#000" stroke-width="0.55">density</text>
</svg>
</body></html>
